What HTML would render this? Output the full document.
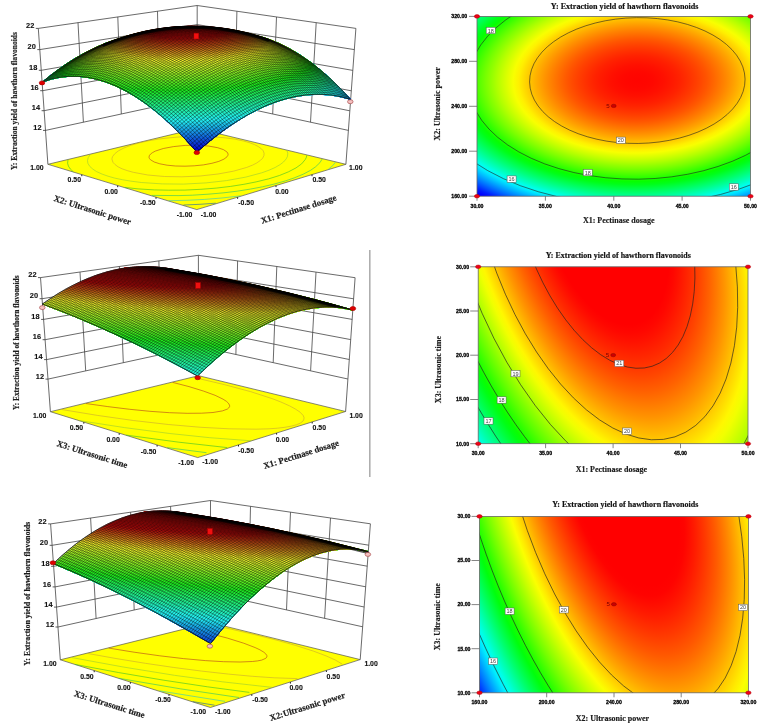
<!DOCTYPE html>
<html><head><meta charset="utf-8"><style>html,body{margin:0;padding:0;background:#fff;}svg{display:block;font-family:"Liberation Serif",serif;will-change:transform;}</style></head><body>
<svg width="761" height="726" viewBox="0 0 761 726">
<rect width="761" height="726" fill="#fff"/>
<path d="M45.5 130.4L197.1 97.6M197.1 97.6L348.4 130.4M44.1 110.7L197.1 79.8M197.1 79.8L349.8 110.8M42.7 90.7L197.1 61.7M197.1 61.7L351.3 90.8M41.3 70.3L197.2 43.3M197.2 43.3L352.8 70.4M39.8 49.6L197.2 24.6M197.2 24.6L354.3 49.6M38.3 28.4L197.2 5.5M197.2 5.5L355.9 28.4M78 22.6L83.4 122.2M236.9 11.2L234.9 105.8M117.8 16.9L121.3 114M276.5 17L272.7 114M157.5 11.2L159.2 105.8M316.2 22.7L310.5 122.2M197.1 97.6L197.2 5.5M47.9 164.3L38.3 28.4M345.9 164.3L355.9 28.4" stroke="#444" stroke-width="0.8" fill="none"/>
<path d="M47.9 164.3L196.8 209.6 345.9 164.3 197 128.5Z" fill="#ffff00" stroke="#555" stroke-width="0.7"/>
<path d="M183.5 205L199.9 204.3 215.8 203.2" stroke="#185cb0" stroke-width="0.6" fill="none"/>
<path d="M168.7 200.7L186.9 200.3 204.7 199.4 221.7 198 240.4 195.9M328.2 169.4L332.8 165.5 335.5 162.1" stroke="#2ec5c5" stroke-width="0.6" fill="none"/>
<path d="M50.4 164.3L50.5 165M151.8 195.4L179 195.6 192.4 195.2 208 194.2 223 192.9 237.1 191.2 250.3 189.1 262.5 186.8 273.7 184.2 285.4 180.9 294.2 177.9 303.2 174.2 310.6 170.3 315.6 166.8 319.9 162.7 322.2 159" stroke="#29c16d" stroke-width="0.6" fill="none"/>
<path d="M68 159.8L67.6 163.2 68.4 166.1 70.3 169 73.4 171.9M124.8 187.4L138.1 188.9 154.3 189.9 168.5 190.2 184.9 190.1 200.9 189.3 216.2 188.1 230.6 186.4 243.9 184.3 256.1 181.9 268.5 178.9 279.4 175.5 288.5 171.8 296 167.9 301.6 163.9 305.2 159.6 306.3 157.5 306.8 155.3" stroke="#39c028" stroke-width="0.6" fill="none"/>
<path d="M205.4 130.9L187.3 131M90.3 154.5L88.2 157.6 87.5 160.5 87.9 163.3 89.7 166.3 92.8 169.1 96.4 171.5 102.1 174.1 108 176.2 114.7 178.1 122.3 179.7 130.6 181.1 141.3 182.5 162.2 183.9 183.6 184.1 206 182.9 226.5 180.6 245.8 177.1 261.8 172.8 269 170.2 275.1 167.5 280.1 164.6 283.5 162 286.2 158.9 287.5 156.3 287.8 153.1 286.8 150.3" stroke="#98cb33" stroke-width="0.6" fill="none"/>
<path d="M243.5 141L235.1 139.2 225.7 137.9 215.7 137 204.1 136.4 192.6 136.4 181.3 136.8 169.5 137.8 158.4 139.1 148.3 140.8 139.1 142.9 131.1 145.2 124.1 147.9 118.5 150.8 114.8 153.7 112.5 156.7 112 158.5 112.1 159.9 113.1 162.5 115.1 164.6 118 166.8 122.1 168.8 127.2 170.6 133.3 172.3 147.8 175 164.5 176.5 181.9 176.8 200.1 176 218 174 233.4 171.2 246.8 167.4 252.6 165.1 256.7 163 260.4 160.4 262.7 158.1 263.9 155.7 264.1 153.3 263.2 150.8 261.4 148.8 258.2 146.5 254.5 144.6 249 142.5 243.5 141" stroke="#c9a731" stroke-width="0.6" fill="none"/>
<path d="M217.7 147.7L208.3 146 197.4 145.3 185.2 145.4 173.5 146.6 163.3 148.5 155.3 151.1 152.4 152.7 150.5 154.1 149.3 155.7 149 157.3 149.5 158.6 150.4 159.7 154.2 162 159.8 163.8 167.1 165.2 175.5 166 185 166.2 194.3 165.8 203.4 164.9 211.9 163.3 218.8 161.4 224 159.1 227 156.8 227.8 155.5 228.1 154.3 227.7 153 226.9 151.9 223.4 149.6 217.7 147.7" stroke="#b43e1c" stroke-width="0.6" fill="none"/>
<path d="M248.8 34.2L235.6 32.8 222.6 33.2 209.9 35.2 197.2 38.8 187.9 36.3 179.9 34.7 171.5 33.6 163 33 154.3 33 145.4 33.6 136.3 34.8 127.6 36.5 116.7 39.5 106.1 43.1 95.7 47.6 84.8 53 73.6 59.4 62.4 66.7 50.2 75.7 42.6 82 51.3 79.1 60.4 77.2 69 76.3 78.2 76.3 87.3 77.2 96.4 79.1 105.9 81.9 115.9 85.9 125.7 90.8 135.4 96.5 144.9 103 154.3 110.1 163.4 117.8 172 125.7 183.1 136.8 195.7 150.8 197.6 151.5 207.7 142.7 218.3 134.2 228 127.2 238 120.5 248.3 114.4 257.7 109.5 267.5 105.1 276.7 101.6 286.4 98.6 295.7 96.4 305 95 314.3 94.3 323.8 94.4 332.7 95.3 341.2 96.8 350.1 99.2 349.7 98.3 340.5 88.5 326.4 75.2 313.7 64.6 300.1 55.1 287.4 47.6 274.6 41.6 261.7 37.1 249.4 34.3Z" fill="#0606d2" stroke="#0606d2" stroke-width="0.6" stroke-linejoin="round"/>
<path d="M248.8 34.2L235.6 32.8 222.6 33.2 209.9 35.2 197.2 38.8 187.9 36.3 179.9 34.7 171.5 33.6 163 33 154.3 33 145.4 33.6 136.3 34.8 127.6 36.5 116.7 39.5 106.1 43.1 95.7 47.6 84.8 53 73.6 59.4 62.4 66.7 50.2 75.7 42.6 82 51.3 79.1 60.4 77.2 69 76.3 78.2 76.3 87.3 77.2 96.4 79.1 105.9 81.9 115.9 85.9 125.7 90.8 135.4 96.5 144.9 103 155.6 111.1 164.8 119 175 128.6 184.8 138.6 195.7 150.8 197.6 151 199.4 149.9 210.9 140.1 221.2 132.1 231.8 124.5 241.5 118.4 250.4 113.3 259.7 108.5 269.4 104.3 278.5 101 288.1 98.2 297.4 96.1 306.7 94.8 315.1 94.3 323.8 94.4 332.7 95.3 341.2 96.8 350.1 99.2 349.7 98.3 340.5 88.5 326.4 75.2 313.7 64.6 300.1 55.1 287.4 47.6 274.6 41.6 261.7 37.1 249.4 34.3Z" fill="#0606d2" stroke="#0606d2" stroke-width="0.6" stroke-linejoin="round"/>
<path d="M248.8 34.2L235.6 32.8 222.6 33.2 209.9 35.2 197.2 38.8 187.9 36.3 179.9 34.7 171.5 33.6 163 33 154.3 33 145.4 33.6 136.3 34.8 127.6 36.5 116.7 39.5 106.1 43.1 95.7 47.6 84.8 53 73.6 59.4 62.4 66.7 50.2 75.7 42.6 82 51.3 79.1 59.6 77.3 68.3 76.3 77.4 76.2 86.5 77.1 95.7 78.9 105.1 81.7 115 85.5 124.7 90.3 134.4 95.8 143.8 102.2 153.1 109.1 162.1 116.6 172 125.7 183.1 136.8 193.8 148.6 195.7 150 199.4 149.8 210.9 140.1 222.6 131 233.1 123.7 243.8 117 252.6 112.1 261.7 107.6 278.5 101 288.1 98.2 297.4 96.1 306.7 94.8 315.1 94.3 323.8 94.4 332.7 95.3 341.2 96.8 350.1 99.2 349.7 98.3 340.5 88.5 326.4 75.2 313.7 64.6 300.1 55.1 287.4 47.6 274.6 41.6 261.7 37.1 249.4 34.3Z" fill="#0606d2" stroke="#0606d2" stroke-width="0.6" stroke-linejoin="round"/>
<path d="M248.8 34.2L235.6 32.8 222.6 33.2 209.9 35.2 197.2 38.8 187.9 36.3 179.9 34.7 171.5 33.6 163 33 154.3 33 145.4 33.6 136.3 34.8 127.6 36.5 116.7 39.5 106.1 43.1 95.7 47.6 84.8 53 73.6 59.4 62.4 66.7 50.2 75.7 42.6 82 51.3 79.1 59.6 77.3 68.3 76.3 77.4 76.2 86.5 77.1 95.7 78.9 105.1 81.7 115 85.5 124.7 90.3 134.4 95.8 143.8 102.2 154.3 110.1 163.4 117.8 173.5 127.1 183.1 136.8 193.8 148.6 195.7 148.9 201.1 148.4 210.9 140.1 221.2 132.1 231.8 124.5 241.5 118.4 251.5 112.7 260.7 108.1 270.3 103.9 280.3 100.4 288.9 97.9 298.3 96 307.5 94.7 316 94.3 324.6 94.5 333.6 95.4 342.1 97 350.1 99.2 349.7 98.3 340.5 88.5 326.4 75.2 313.7 64.6 300.1 55.1 287.4 47.6 274.6 41.6 261.7 37.1 249.4 34.3Z" fill="#070fd3" stroke="#070fd3" stroke-width="0.6" stroke-linejoin="round"/>
<path d="M248.8 34.2L235.6 32.8 222.6 33.2 209.9 35.2 197.2 38.8 187.9 36.3 179.9 34.7 171.5 33.6 163 33 154.3 33 145.4 33.6 136.3 34.8 127.6 36.5 116.7 39.5 106.1 43.1 95.7 47.6 84.8 53 73.6 59.4 62.4 66.7 50.2 75.7 42.6 82 51.3 79.1 59.6 77.3 68.3 76.3 77.4 76.2 86.5 77.1 95.7 78.9 105.1 81.7 114.2 85.2 123.8 89.8 133.4 95.2 142.7 101.4 151.9 108.2 160.7 115.4 170.5 124.2 181.4 135.1 192 146.5 193.8 147.8 201 147.5 202.8 146.9 212.4 138.9 222.6 131 233.1 123.7 242.7 117.7 252.6 112.1 261.7 107.6 271.2 103.6 281.1 100.1 289.8 97.7 299.1 95.8 308.4 94.7 316.8 94.3 325.5 94.5 333.6 95.4 342.1 97 350.1 99.2 349.7 98.3 340.5 88.5 326.4 75.2 313.7 64.6 300.1 55.1 287.4 47.6 274.6 41.6 261.7 37.1 249.4 34.3Z" fill="#0818d4" stroke="#0818d4" stroke-width="0.6" stroke-linejoin="round"/>
<path d="M248.8 34.2L235.6 32.8 222.6 33.2 209.9 35.2 197.2 38.8 187.9 36.3 179.9 34.7 171.5 33.6 163 33 154.3 33 145.4 33.6 136.3 34.8 127.6 36.5 116.7 39.5 106.1 43.1 95.7 47.6 84.8 53 73.6 59.4 62.4 66.7 50.2 75.7 42.6 82 51.3 79.1 59.6 77.3 68.3 76.3 77.4 76.2 86.5 77.1 95.7 78.9 105.1 81.7 114.2 85.2 123.8 89.8 133.4 95.2 142.7 101.4 153.1 109.1 162.1 116.6 172 125.7 181.4 135.1 192 146.5 193.8 146.7 202.7 146.3 204.5 145.5 224 130 234.3 122.9 243.8 117 253.6 111.6 263.7 106.7 273.1 102.9 282.9 99.6 291.5 97.3 300.8 95.6 309.2 94.6 317.7 94.3 326.4 94.6 334.6 95.5 342.1 97 350.1 99.2 349.7 98.3 340.5 88.5 326.4 75.2 313.7 64.6 300.1 55.1 287.4 47.6 274.6 41.6 261.7 37.1 249.4 34.3Z" fill="#0921d5" stroke="#0921d5" stroke-width="0.6" stroke-linejoin="round"/>
<path d="M248.8 34.2L235.6 32.8 222.6 33.2 209.9 35.2 197.2 38.8 187.9 36.3 179.9 34.7 171.5 33.6 163 33 154.3 33 145.4 33.6 136.3 34.8 127.6 36.5 116.7 39.5 106.1 43.1 95.7 47.6 84.8 53 73.6 59.4 62.4 66.7 50.2 75.7 42.6 82 51.3 79.1 59.6 77.3 68.3 76.3 76.7 76.2 85.8 77 94.9 78.7 104.3 81.4 113.3 84.8 122 88.9 131.4 94 140.6 99.9 150.7 107.3 159.4 114.3 169 122.9 179.8 133.4 190.1 144.4 191.9 145.7 204.4 145.1 226.7 128.1 244.9 116.3 254.7 111 263.7 106.7 273.1 102.9 282.9 99.6 291.5 97.3 300.8 95.6 309.2 94.6 317.7 94.3 326.4 94.6 334.6 95.5 342.1 97 350.1 99.2 349.7 98.3 340.5 88.5 326.4 75.2 313.7 64.6 300.1 55.1 287.4 47.6 274.6 41.6 261.7 37.1 249.4 34.3Z" fill="#0a29d6" stroke="#0a29d6" stroke-width="0.6" stroke-linejoin="round"/>
<path d="M248.8 34.2L235.6 32.8 222.6 33.2 209.9 35.2 197.2 38.8 187.9 36.3 179.9 34.7 171.5 33.6 163 33 154.3 33 145.4 33.6 136.3 34.8 127.6 36.5 116.7 39.5 106.1 43.1 95.7 47.6 84.8 53 73.6 59.4 62.4 66.7 50.2 75.7 42.6 82 51.3 79.1 59.6 77.3 68.3 76.3 76.7 76.2 85.8 77 94.9 78.7 104.3 81.4 113.3 84.8 122 88.9 131.4 94 140.6 99.9 150.7 107.3 160.7 115.4 170.5 124.2 179.8 133.4 190.1 144.4 206.1 143.9 226.7 128.1 236.8 121.3 246.1 115.7 255.7 110.5 265.6 105.9 274.9 102.2 284.6 99.1 293.2 97 301.6 95.4 310 94.5 318.6 94.3 326.4 94.6 334.6 95.5 342.1 97 350.1 99.2 349.7 98.3 340.5 88.5 326.4 75.2 313.7 64.6 300.1 55.1 287.4 47.6 274.6 41.6 261.7 37.1 249.4 34.3Z" fill="#0b32d7" stroke="#0b32d7" stroke-width="0.6" stroke-linejoin="round"/>
<path d="M248.8 34.2L235.6 32.8 222.6 33.2 209.9 35.2 197.2 38.8 187.9 36.3 179.9 34.7 171.5 33.6 163 33 154.3 33 145.4 33.6 136.3 34.8 127.6 36.5 116.7 39.5 106.1 43.1 95.7 47.6 84.8 53 73.6 59.4 62.4 66.7 50.2 75.7 42.6 82 51.3 79.1 59.6 77.3 68.3 76.3 76.7 76.2 85 76.9 94.1 78.5 103.5 81.1 112.5 84.4 121.1 88.4 130.4 93.4 139.5 99.2 149.5 106.4 158.1 113.2 167.6 121.5 178.2 131.7 188.3 142.4 190.1 143.5 207.7 142.7 218.3 134.2 228 127.2 238 120.5 247.2 115.1 256.7 110 266.6 105.5 275.8 101.9 285.5 98.8 294 96.8 302.5 95.3 310.9 94.5 318.6 94.3 326.4 94.6 334.6 95.5 342.1 97 350.1 99.2 349.7 98.3 340.5 88.5 326.4 75.2 313.7 64.6 300.1 55.1 287.4 47.6 274.6 41.6 261.7 37.1 249.4 34.3Z" fill="#0d3bd9" stroke="#0d3bd9" stroke-width="0.6" stroke-linejoin="round"/>
<path d="M248.8 34.2L235.6 32.8 222.6 33.2 209.9 35.2 197.2 38.8 187.9 36.3 179.9 34.7 171.5 33.6 163 33 154.3 33 145.4 33.6 136.3 34.8 127.6 36.5 116.7 39.5 106.1 43.1 95.7 47.6 84.8 53 73.6 59.4 62.4 66.7 50.2 75.7 42.6 82 51.3 79.1 59.6 77.3 68.3 76.3 76.7 76.2 85 76.9 94.1 78.5 103.5 81.1 112.5 84.4 121.1 88.4 130.4 93.4 139.5 99.2 149.5 106.4 159.4 114.3 169 122.9 178.2 131.7 188.3 142.4 209.3 141.4 219.8 133.1 229.3 126.3 239.2 119.8 248.3 114.4 257.7 109.5 267.5 105.1 276.7 101.6 286.4 98.6 294.9 96.6 303.3 95.2 311.7 94.4 319.4 94.3 327.3 94.7 334.6 95.5 342.1 97 350.1 99.2 349.7 98.3 340.5 88.5 326.4 75.2 313.7 64.6 300.1 55.1 287.4 47.6 274.6 41.6 261.7 37.1 249.4 34.3Z" fill="#0e44da" stroke="#0e44da" stroke-width="0.6" stroke-linejoin="round"/>
<path d="M248.8 34.2L235.6 32.8 222.6 33.2 209.9 35.2 197.2 38.8 187.9 36.3 179.9 34.7 171.5 33.6 163 33 154.3 33 145.4 33.6 136.3 34.8 127.6 36.5 116.7 39.5 106.1 43.1 95.7 47.6 84.8 53 73.6 59.4 62.4 66.7 50.2 75.7 42.6 82 50.5 79.3 58.8 77.4 67.5 76.4 75.9 76.2 84.3 76.8 93.4 78.4 102.7 80.9 111.6 84.1 120.2 88 129.4 92.9 138.5 98.5 148.4 105.5 164.8 119 175 128.6 186.5 140.5 188.3 141.4 210.9 140.1 221.2 132.1 230.6 125.4 240.4 119.1 249.4 113.8 258.7 109 268.4 104.7 277.6 101.3 287.2 98.4 294.9 96.6 303.3 95.2 311.7 94.4 319.4 94.3 327.3 94.7 334.6 95.5 342.1 97 350.1 99.2 349.7 98.3 340.5 88.5 326.4 75.2 313.7 64.6 300.1 55.1 287.4 47.6 274.6 41.6 261.7 37.1 249.4 34.3Z" fill="#0f4cdb" stroke="#0f4cdb" stroke-width="0.6" stroke-linejoin="round"/>
<path d="M248.8 34.2L235.6 32.8 222.6 33.2 209.9 35.2 197.2 38.8 187.9 36.3 179.9 34.7 171.5 33.6 163 33 154.3 33 145.4 33.6 136.3 34.8 127.6 36.5 116.7 39.5 106.1 43.1 95.7 47.6 84.8 53 73.6 59.4 62.4 66.7 50.2 75.7 42.6 82 50.5 79.3 58.8 77.4 67.5 76.4 75.9 76.2 84.3 76.8 93.4 78.4 102.7 80.9 111.6 84.1 120.2 88 129.4 92.9 138.5 98.5 148.4 105.5 156.8 112.2 166.2 120.3 175 128.6 186.5 140.3 207.4 139.4 212.4 138.9 222.6 131 231.8 124.5 241.5 118.4 251.5 112.7 260.7 108.1 270.3 103.9 279.4 100.7 288.9 97.9 297.4 96.1 305 95 312.6 94.4 320.3 94.3 328.2 94.7 335.5 95.7 343.1 97.2 350.1 99.2 349.7 98.3 340.5 88.5 326.4 75.2 313.7 64.6 300.1 55.1 287.4 47.6 274.6 41.6 261.7 37.1 249.4 34.3Z" fill="#1055dc" stroke="#1055dc" stroke-width="0.6" stroke-linejoin="round"/>
<path d="M248.8 34.2L235.6 32.8 222.6 33.2 209.9 35.2 197.2 38.8 187.9 36.3 179.9 34.7 171.5 33.6 163 33 154.3 33 145.4 33.6 136.3 34.8 127.6 36.5 116.7 39.5 106.1 43.1 95.7 47.6 84.8 53 73.6 59.4 62.4 66.7 50.2 75.7 42.6 82 50.5 79.3 58.8 77.4 67.5 76.4 75.9 76.2 84.3 76.8 93.4 78.4 101.9 80.6 110.8 83.8 119.3 87.5 128.5 92.3 137.4 97.8 146.1 103.8 162.1 116.6 173.5 127.1 184.8 138.6 186.5 139.2 208.9 138.3 213.9 137.7 224 130 233.1 123.7 242.7 117.7 252.6 112.1 261.7 107.6 271.2 103.6 280.3 100.4 289.8 97.7 305 95 312.6 94.4 320.3 94.3 328.2 94.7 335.5 95.7 343.1 97.2 350.1 99.2 349.7 98.3 340.5 88.5 326.4 75.2 313.7 64.6 300.1 55.1 287.4 47.6 274.6 41.6 261.7 37.1 249.4 34.3Z" fill="#115edd" stroke="#115edd" stroke-width="0.6" stroke-linejoin="round"/>
<path d="M248.8 34.2L235.6 32.8 222.6 33.2 209.9 35.2 197.2 38.8 187.9 36.3 179.9 34.7 171.5 33.6 163 33 154.3 33 145.4 33.6 136.3 34.8 127.6 36.5 116.7 39.5 106.1 43.1 95.7 47.6 84.8 53 73.6 59.4 62.4 66.7 50.2 75.7 42.6 82 50.5 79.3 58.8 77.4 67.5 76.4 75.9 76.2 84.3 76.8 93.4 78.4 101.9 80.6 110.8 83.8 119.3 87.5 128.5 92.3 137.4 97.8 146.1 103.8 154.3 110.1 163.4 117.8 184.8 138.2 207.1 137.2 215.4 136.5 234.3 122.9 243.8 117 253.6 111.6 262.7 107.2 272.2 103.2 281.1 100.1 290.7 97.5 305.8 94.9 313.4 94.3 321.1 94.3 335.5 95.7 343.1 97.2 350.1 99.2 349.7 98.3 340.5 88.5 326.4 75.2 313.7 64.6 300.1 55.1 287.4 47.6 274.6 41.6 261.7 37.1 249.4 34.3Z" fill="#1267de" stroke="#1267de" stroke-width="0.6" stroke-linejoin="round"/>
<path d="M248.8 34.2L235.6 32.8 222.6 33.2 209.9 35.2 197.2 38.8 187.9 36.3 179.9 34.7 171.5 33.6 163 33 154.3 33 145.4 33.6 136.3 34.8 127.6 36.5 116.7 39.5 106.1 43.1 95.7 47.6 84.8 53 73.6 59.4 62.4 66.7 50.2 75.7 42.6 82 50.5 79.3 58.8 77.4 66.7 76.4 75.2 76.2 83.5 76.7 92.6 78.2 101.1 80.4 110 83.4 118.5 87.1 127.5 91.8 136.4 97.1 146.1 103.8 155.6 111.1 164.8 119 173.5 127.1 183.1 136.8 198.6 136.6 216.9 135.3 235.6 122.1 244.9 116.3 254.7 111 263.7 106.7 273.1 102.9 282 99.9 291.5 97.3 306.7 94.8 321.1 94.3 335.5 95.7 343.1 97.2 350.1 99.2 349.7 98.3 340.5 88.5 326.4 75.2 313.7 64.6 300.1 55.1 287.4 47.6 274.6 41.6 261.7 37.1 249.4 34.3Z" fill="#136fdf" stroke="#136fdf" stroke-width="0.6" stroke-linejoin="round"/>
<path d="M248.8 34.2L235.6 32.8 222.6 33.2 209.9 35.2 197.2 38.8 187.9 36.3 179.9 34.7 171.5 33.6 163 33 154.3 33 145.4 33.6 136.3 34.8 127.6 36.5 116.7 39.5 106.1 43.1 95.7 47.6 84.8 53 73.6 59.4 62.4 66.7 50.2 75.7 42.6 82 50.5 79.3 58.8 77.4 66.7 76.4 75.2 76.2 83.5 76.7 91.8 78 100.3 80.1 109.1 83.1 117.6 86.7 126.6 91.3 135.4 96.5 143.8 102.2 160.7 115.4 170.5 124.2 181.4 135.1 183.1 136 203.6 135.2 218.3 134.2 236.8 121.3 246.1 115.7 255.7 110.5 264.6 106.3 274 102.5 282.9 99.6 292.4 97.1 307.5 94.7 322 94.3 336.4 95.8 350.1 99.2 349.7 98.3 340.5 88.5 326.4 75.2 313.7 64.6 300.1 55.1 287.4 47.6 274.6 41.6 261.7 37.1 249.4 34.3Z" fill="#1478e0" stroke="#1478e0" stroke-width="0.6" stroke-linejoin="round"/>
<path d="M248.8 34.2L235.6 32.8 222.6 33.2 209.9 35.2 197.2 38.8 187.9 36.3 179.9 34.7 171.5 33.6 163 33 154.3 33 145.4 33.6 136.3 34.8 127.6 36.5 116.7 39.5 106.1 43.1 95.7 47.6 84.8 53 73.6 59.4 62.4 66.7 50.2 75.7 42.6 82 50.5 79.3 58.8 77.4 66.7 76.4 75.2 76.2 83.5 76.7 91.8 78 100.3 80.1 109.1 83.1 117.6 86.7 126.6 91.3 135.4 96.5 144.9 103 153.1 109.1 162.1 116.6 181.4 134.9 219.8 133.1 238 120.5 247.2 115.1 256.7 110 265.6 105.9 274.9 102.2 283.8 99.3 293.2 97 307.5 94.7 322 94.3 336.4 95.8 350.1 99.2 349.7 98.3 340.5 88.5 326.4 75.2 313.7 64.6 300.1 55.1 287.4 47.6 274.6 41.6 261.7 37.1 249.4 34.3Z" fill="#1681e2" stroke="#1681e2" stroke-width="0.6" stroke-linejoin="round"/>
<path d="M248.8 34.2L235.6 32.8 222.6 33.2 209.9 35.2 197.2 38.8 187.9 36.3 179.9 34.7 171.5 33.6 163 33 154.3 33 145.4 33.6 136.3 34.8 127.6 36.5 116.7 39.5 106.1 43.1 95.7 47.6 84.8 53 73.6 59.4 62.4 66.7 50.2 75.7 42.6 82 50.5 79.3 58 77.6 65.9 76.5 74.4 76.1 82.7 76.6 91.1 77.9 99.6 79.9 108.3 82.8 116.7 86.3 125.7 90.8 134.4 95.8 142.7 101.4 158.1 113.2 169 122.9 179.8 133.4 181.5 133.8 201.7 133.1 221.2 131.9 240.4 119.1 249.4 113.8 258.7 109 267.5 105.1 276.7 101.6 285.5 98.8 294 96.8 308.4 94.7 322.9 94.4 336.4 95.8 350.1 99.2 349.7 98.3 340.5 88.5 326.4 75.2 313.7 64.6 300.1 55.1 287.4 47.6 274.6 41.6 261.7 37.1 249.4 34.3Z" fill="#178ae3" stroke="#178ae3" stroke-width="0.6" stroke-linejoin="round"/>
<path d="M248.8 34.2L235.6 32.8 222.6 33.2 209.9 35.2 197.2 38.8 187.9 36.3 179.9 34.7 171.5 33.6 163 33 154.3 33 145.4 33.6 136.3 34.8 127.6 36.5 116.7 39.5 106.1 43.1 95.7 47.6 84.8 53 73.6 59.4 62.4 66.7 50.2 75.7 42.6 82 50.5 79.3 58 77.6 65.9 76.5 74.4 76.1 82.7 76.6 91.1 77.9 99.6 79.9 107.5 82.5 115.9 85.9 124.7 90.3 133.4 95.2 141.6 100.6 158.1 113.2 167.6 121.5 178.2 131.7 179.8 132.7 201.6 132 222.5 130.7 242.7 117.7 259.7 108.5 268.4 104.7 277.6 101.3 286.4 98.6 294.9 96.6 309.2 94.6 322.9 94.4 336.4 95.8 350.1 99.2 349.7 98.3 340.5 88.5 326.4 75.2 313.7 64.6 300.1 55.1 287.4 47.6 274.6 41.6 261.7 37.1 249.4 34.3Z" fill="#1893e4" stroke="#1893e4" stroke-width="0.6" stroke-linejoin="round"/>
<path d="M248.8 34.2L235.6 32.8 222.6 33.2 209.9 35.2 197.2 38.8 187.9 36.3 179.9 34.7 171.5 33.6 163 33 154.3 33 145.4 33.6 136.3 34.8 127.6 36.5 116.7 39.5 106.1 43.1 95.7 47.6 84.8 53 73.6 59.4 62.4 66.7 50.2 75.7 42.6 82 50.5 79.3 58 77.6 65.9 76.5 74.4 76.1 82.7 76.6 91.1 77.9 99.6 79.9 107.5 82.5 115.9 85.9 124.7 90.3 133.4 95.2 141.6 100.6 150.7 107.3 159.4 114.3 178.2 131.6 206.4 130.6 223.8 129.5 225.3 129.1 242.7 117.7 251.5 112.7 260.7 108.1 269.4 104.3 278.5 101 287.2 98.4 295.7 96.4 308.4 94.7 321.1 94.3 335.5 95.7 349 98.8 349.5 98.2 337.1 85.2 325 74 312.5 63.8 299.2 54.5 286.6 47.2 273.9 41.3 261.7 37.1 249.4 34.3Z" fill="#199be5" stroke="#199be5" stroke-width="0.6" stroke-linejoin="round"/>
<path d="M248.8 34.2L235.6 32.8 222.6 33.2 209.9 35.2 197.2 38.8 187.9 36.3 179.9 34.7 171.5 33.6 163 33 154.3 33 145.4 33.6 136.3 34.8 127.6 36.5 116.7 39.5 106.1 43.1 95.7 47.6 84.8 53 73.6 59.4 62.4 66.7 50.2 75.7 42.6 82 50.5 79.3 58 77.6 65.9 76.5 73.6 76.1 82 76.6 90.3 77.7 98.8 79.7 106.7 82.2 115 85.5 122.9 89.3 131.4 94 139.5 99.2 154.3 110.1 164.8 119 176.6 130.2 178.2 130.5 203 129.7 226.7 128.1 243.8 117 252.6 112.1 261.7 107.6 278.5 101 287.2 98.4 295.7 96.4 308.4 94.7 320.3 94.3 333.6 95.4 347.1 98.3 347.7 98.3 348.6 97.4 338.7 86.8 325 74 312.5 63.8 299.2 54.5 286.6 47.2 273.9 41.3 261.7 37.1 249.4 34.3Z" fill="#1aa4e6" stroke="#1aa4e6" stroke-width="0.6" stroke-linejoin="round"/>
<path d="M248.8 34.2L235.6 32.8 222.6 33.2 209.9 35.2 197.2 38.8 187.9 36.3 179.9 34.7 171.5 33.6 163 33 154.3 33 145.4 33.6 136.3 34.8 127.6 36.5 116.7 39.5 106.1 43.1 95.7 47.6 84.8 53 73.6 59.4 62.4 66.7 50.2 75.7 42.6 82 50.5 79.3 58 77.6 65.9 76.5 73.6 76.1 82 76.6 90.3 77.7 98.8 79.7 106.7 82.2 115 85.5 122.9 89.3 131.4 94 139.5 99.2 155.6 111.1 164.8 119 175 128.6 176.6 129.4 202.9 128.6 227.9 126.9 247.2 115.1 262.7 107.2 279.4 100.7 287.2 98.4 295.7 96.4 307.5 94.7 318.6 94.3 332.7 95.3 346.1 98 347.6 96.6 347.7 96.2 338.7 86.8 325 74 312.5 63.8 299.2 54.5 286.6 47.2 273.9 41.3 261.7 37.1 249.4 34.3Z" fill="#1bade7" stroke="#1bade7" stroke-width="0.6" stroke-linejoin="round"/>
<path d="M248.8 34.2L235.6 32.8 222.6 33.2 209.9 35.2 197.2 38.8 187.9 36.3 179.9 34.7 171.5 33.6 163 33 154.3 33 145.4 33.6 136.3 34.8 127.6 36.5 116.7 39.5 106.1 43.1 95.7 47.6 84.8 53 73.6 59.4 62.4 66.7 50.2 75.7 42.6 82 50.5 79.3 58 77.6 65.9 76.5 73.6 76.1 81.2 76.5 89.6 77.6 98 79.5 105.9 81.9 114.2 85.2 122.9 89.3 131.4 94 139.5 99.2 155.6 111.1 175 128.3 206 127.3 230.6 125.4 247.2 115.1 263.7 106.7 280.3 100.4 295.7 96.4 308.4 94.7 320.3 94.3 331.8 95.1 344.8 97.5 346.9 95.5 337.1 85.2 323.7 72.8 311.4 62.9 298.3 53.9 285.8 46.8 273.9 41.3 261.7 37.1 249.4 34.3Z" fill="#1cb6e8" stroke="#1cb6e8" stroke-width="0.6" stroke-linejoin="round"/>
<path d="M248.8 34.2L235.6 32.8 222.6 33.2 209.9 35.2 197.2 38.8 187.9 36.3 179.9 34.7 171.5 33.6 163 33 154.3 33 145.4 33.6 136.3 34.8 127.6 36.5 116.7 39.5 106.1 43.1 95.7 47.6 84.8 53 73.6 59.4 62.4 66.7 50.2 75.7 42.6 82 49.6 79.6 57.1 77.7 65.1 76.6 72.9 76.1 80.5 76.4 88.8 77.5 97.2 79.3 105.1 81.7 113.3 84.8 122 88.9 130.4 93.4 138.5 98.5 147.2 104.6 155.6 111.1 164.8 119 173.5 127.1 201.1 126.4 231.8 124.4 247.2 115.1 260.7 108.1 274 102.5 287.2 98.4 299.1 95.8 310.9 94.5 319.4 94.3 327.3 94.7 335.5 95.7 343.1 97.2 345.9 94.7 345.8 94.1 337.1 85.2 323.7 72.8 311.4 62.9 298.3 53.9 285.8 46.8 273.9 41.3 261.7 37.1 249.4 34.3Z" fill="#1dbee9" stroke="#1dbee9" stroke-width="0.6" stroke-linejoin="round"/>
<path d="M248.8 34.2L235.6 32.8 222.6 33.2 209.9 35.2 197.2 38.8 187.9 36.3 179.9 34.7 171.5 33.6 163 33 154.3 33 145.8 33.5 136.8 34.7 128.1 36.4 117.3 39.3 106.8 42.9 96.5 47.2 85.7 52.5 75.8 58.1 65.1 64.9 53.5 73.2 43.1 81.4 42.6 82 51.3 79.1 59.6 77.3 66.7 76.4 73.6 76.1 81.2 76.5 89.6 77.6 97.2 79.3 105.1 81.7 113.3 84.8 121.1 88.4 129.4 92.9 137.4 97.8 151.9 108.2 162.1 116.6 172 125.7 173.6 126.1 204.2 125.2 232.9 123.1 234.3 122.9 248.3 114.4 261.7 107.6 274.9 102.2 287.2 98.4 301.6 95.4 315.1 94.3 328.2 94.7 341.8 96.8 345.2 93.6 333.9 82 322.3 71.6 310.3 62.1 297.4 53.3 285.1 46.4 273.3 41.1 261.1 37 249.4 34.3Z" fill="#1fc7eb" stroke="#1fc7eb" stroke-width="0.6" stroke-linejoin="round"/>
<path d="M248.8 34.2L235.6 32.8 222.6 33.2 209.9 35.2 197.2 38.8 187.9 36.3 179.9 34.7 171.5 33.6 163 33 154.3 33 145.8 33.5 136.8 34.7 128.1 36.4 117.3 39.3 106.8 42.9 96.5 47.2 85.7 52.5 75.8 58.1 65.1 64.9 53.5 73.2 43.1 81.4 42.6 82 51.3 79.1 59.6 77.3 66.7 76.4 73.6 76.1 81.2 76.5 89.6 77.6 97.2 79.3 105.1 81.7 113.3 84.8 121.1 88.4 129.4 92.9 137.4 97.8 151.9 108.2 160.7 115.4 170.5 124.2 172 125 204.1 124.1 235.5 121.8 250.4 113.3 261.7 107.6 274 102.5 286.4 98.6 299.9 95.7 313.4 94.3 326.4 94.6 340.1 96.5 344.2 92.8 344 92.2 335.4 83.6 322.3 71.6 310.3 62.1 297.4 53.3 285.1 46.4 273.3 41.1 261.1 37 249.4 34.3Z" fill="#20d0ec" stroke="#20d0ec" stroke-width="0.6" stroke-linejoin="round"/>
<path d="M248.8 34.2L235.6 32.8 222.6 33.2 209.9 35.2 197.2 38.8 187.9 36.3 179.9 34.7 171.5 33.6 163 33 154.3 33 145.8 33.5 136.8 34.7 128.1 36.4 117.3 39.3 106.8 42.9 96.5 47.2 85.7 52.5 75.8 58.1 65.1 64.9 53.5 73.2 43.1 81.4 42.6 82 51.3 79.1 59.6 77.3 66.7 76.4 73.6 76.1 81.2 76.5 88.8 77.5 96.4 79.1 104.3 81.4 112.5 84.4 120.2 88 128.5 92.3 136.4 97.1 151.9 108.2 170.5 123.9 204 123 238 120.4 251.5 112.7 262.7 107.2 274.9 102.2 286.4 98.6 299.9 95.7 312.6 94.4 325.5 94.5 338.3 96.2 343.2 92 343.4 91.8 342.2 90.3 337.1 85.2 322.3 71.6 310.3 62.1 297.4 53.3 285.1 46.4 273.3 41.1 261.1 37 249.4 34.3Z" fill="#21d9ed" stroke="#21d9ed" stroke-width="0.6" stroke-linejoin="round"/>
<path d="M248.8 34.2L235.6 32.8 222.6 33.2 209.9 35.2 197.2 38.8 187.9 36.3 179.9 34.7 171.5 33.6 163 33 154.3 33 145.8 33.5 136.8 34.7 128.1 36.4 117.3 39.3 106.8 42.9 96.5 47.2 85.7 52.5 75.8 58.1 65.1 64.9 53.5 73.2 43.1 81.4 42.6 82 50.5 79.3 58.8 77.4 65.9 76.5 72.9 76.1 80.5 76.4 88 77.3 95.7 78.9 103.5 81.1 111.6 84.1 119.3 87.5 127.5 91.8 135.4 96.5 143.8 102.2 151.9 108.2 169 122.8 205.4 121.8 240.4 119.1 252.6 112.1 263.7 106.7 274.9 102.2 286.4 98.6 299.1 95.8 311.7 94.4 323.8 94.4 336.4 95.8 339.2 94 341.9 91.5 342.4 91 342.2 90.3 332.3 80.6 323.7 72.8 310.3 62.1 297.4 53.3 285.1 46.4 273.3 41.1 261.1 37 249.4 34.3Z" fill="#22e2ee" stroke="#22e2ee" stroke-width="0.6" stroke-linejoin="round"/>
<path d="M248.8 34.2L235.6 32.8 222.6 33.2 209.9 35.2 197.2 38.8 187.9 36.3 179.9 34.7 171.5 33.6 163 33 154.3 33 145.8 33.5 136.8 34.7 128.1 36.4 117.3 39.3 106.8 42.9 96.5 47.2 85.7 52.5 75.8 58.1 65.1 64.9 53.5 73.2 43.1 81.4 42.6 82 50.5 79.3 58.8 77.4 65.9 76.5 72.9 76.1 80.5 76.4 88 77.3 95.7 78.9 103.5 81.1 111.6 84.1 119.3 87.5 127.5 91.8 135.4 96.5 143.8 102.2 151.9 108.2 167.6 121.5 183.5 121.5 205.3 120.7 224.5 119.4 242.7 117.7 253.6 111.6 264.6 106.3 274.9 102.2 285.5 98.8 298.3 96 310 94.5 322 94.3 334.6 95.5 337.8 93.5 340.9 90.7 341.6 89.9 340.5 88.5 323.7 72.8 310.3 62.1 297.4 53.3 285.1 46.4 273.3 41.1 261.1 37 249.4 34.3Z" fill="#23eaef" stroke="#23eaef" stroke-width="0.6" stroke-linejoin="round"/>
<path d="M248.8 34.2L235.6 32.8 222.6 33.2 209.9 35.2 197.2 38.8 187.9 36.3 179.9 34.7 171.5 33.6 163 33 154.3 33 145.8 33.5 136.8 34.7 128.1 36.4 117.3 39.3 106.8 42.9 96.5 47.2 85.7 52.5 75.8 58.1 65.1 64.9 53.5 73.2 43.1 81.4 42.6 82 50.5 79.3 58.8 77.4 65.9 76.5 72.9 76.1 79.7 76.4 87.3 77.2 94.9 78.7 102.7 80.9 110 83.4 117.6 86.7 125.7 90.8 133.4 95.2 149.5 106.4 166.2 120.3 167.7 120.6 186.7 120.3 206.6 119.5 225.7 118.2 244.9 116.3 255.7 110.5 265.6 105.9 275.8 101.9 285.5 98.8 297.4 96.1 309.2 94.6 321.1 94.3 332.7 95.3 336.5 92.9 339.6 90.2 340.6 89.1 340.5 88.5 325 74 311.4 62.9 297.4 53.3 285.1 46.4 273.3 41.1 261.1 37 249.4 34.3Z" fill="#24f0ed" stroke="#24f0ed" stroke-width="0.6" stroke-linejoin="round"/>
<path d="M248.8 34.2L235.6 32.8 222.6 33.2 209.9 35.2 197.2 38.8 187.9 36.3 179.9 34.7 171.5 33.6 163 33 154.3 33 145.8 33.5 136.8 34.7 128.1 36.4 117.3 39.3 106.8 42.9 96.5 47.2 85.7 52.5 75.8 58.1 65.1 64.9 53.5 73.2 43.1 81.4 42.6 82 50.5 79.3 58.8 77.4 65.1 76.6 72.1 76.2 79 76.3 86.5 77.1 94.1 78.5 101.9 80.6 109.1 83.1 116.7 86.3 124.7 90.3 132.4 94.6 146.1 103.8 155.6 111.1 164.8 119 166.3 119.4 186.7 119.2 208 118.3 228.2 116.9 247.1 115 257.7 109.5 266.6 105.5 275.8 101.9 284.6 99.1 296.6 96.3 308.4 94.7 319.4 94.3 330.8 95 335.5 92.1 338.6 89.4 339.8 88 338.7 86.8 325 74 311.4 62.9 297.4 53.3 285.1 46.4 273.3 41.1 261.1 37 249.4 34.3Z" fill="#23efe5" stroke="#23efe5" stroke-width="0.6" stroke-linejoin="round"/>
<path d="M248.8 34.2L235.6 32.8 222.6 33.2 209.9 35.2 197.2 38.8 187.9 36.3 179.9 34.7 171.5 33.6 163 33 154.3 33 145.8 33.5 136.8 34.7 128.1 36.4 117.3 39.3 106.8 42.9 96.5 47.2 85.7 52.5 75.8 58.1 65.1 64.9 53.5 73.2 43.1 81.4 42.6 82 50.5 79.3 58.8 77.4 65.1 76.6 72.1 76.2 79 76.3 86.5 77.1 94.1 78.5 101.1 80.4 108.3 82.8 115.9 85.9 123.8 89.8 131.4 94 144.9 103 154.3 110.1 163.4 117.8 164.9 118.3 186.7 118 207.8 117.2 229.3 115.6 249.3 113.6 268.4 104.7 284.6 99.1 295.7 96.4 306.7 94.8 316.8 94.3 328.9 94.6 333.7 91.8 337.3 88.9 338.7 86.8 326.4 75.2 311.4 62.9 297.4 53.3 285.1 46.4 273.3 41.1 261.1 37 249.4 34.3Z" fill="#23efdd" stroke="#23efdd" stroke-width="0.6" stroke-linejoin="round"/>
<path d="M248.8 34.2L235.6 32.8 222.6 33.2 209.9 35.2 197.2 38.8 187.9 36.3 179.9 34.7 171.5 33.6 163 33 154.3 33 145.8 33.5 136.8 34.7 128.1 36.4 117.3 39.3 106.8 42.9 96.5 47.2 85.7 52.5 75.8 58.1 65.1 64.9 53.5 73.2 43.1 81.4 42.6 82 50.5 79.3 58.8 77.4 65.1 76.6 72.1 76.2 79 76.3 86.5 77.1 94.1 78.5 101.1 80.4 108.3 82.8 115.9 85.9 130.4 93.4 144.9 103 153.1 109.1 162.1 116.6 163.5 117.2 186.7 116.9 209.1 116 231.7 114.3 252.5 112.1 268.4 104.7 283.8 99.3 294 96.8 305 95 315.1 94.3 326.3 94.5 332.3 91.2 336.2 88 337.9 86.2 327.8 76.5 312.5 63.8 297.4 53.3 285.1 46.4 273.3 41.1 261.1 37 249.4 34.3Z" fill="#23efd5" stroke="#23efd5" stroke-width="0.6" stroke-linejoin="round"/>
<path d="M248.8 34.2L235.6 32.8 222.6 33.2 209.9 35.2 197.2 38.8 187.9 36.3 179.9 34.7 171.5 33.6 163 33 154.3 33 145.8 33.5 136.8 34.7 128.1 36.4 117.3 39.3 106.8 42.9 96.5 47.2 85.7 52.5 75.8 58.1 65.1 64.9 53.5 73.2 43.1 81.4 42.6 82 50.5 79.3 58 77.6 64.4 76.6 71.3 76.2 78.2 76.3 85.8 77 93.4 78.4 100.3 80.1 107.5 82.5 115 85.5 129.4 92.9 143.8 102.2 160.7 115.4 162.2 116 186.7 115.8 210.4 114.8 234.1 113 255.7 110.5 264.6 106.3 273.1 102.9 282 99.9 290.7 97.5 299.1 95.8 307.5 94.7 316 94.3 323.7 94.4 330.4 90.9 334.9 87.5 337 85.1 329.3 77.8 313.7 64.6 297.4 53.3 285.1 46.4 273.3 41.1 261.1 37 249.4 34.3Z" fill="#23efcd" stroke="#23efcd" stroke-width="0.6" stroke-linejoin="round"/>
<path d="M248.8 34.2L235.6 32.8 222.6 33.2 209.9 35.2 197.2 38.8 187.9 36.3 179.9 34.7 171.5 33.6 163 33 154.3 33 145.8 33.5 136.8 34.7 128.1 36.4 117.3 39.3 106.8 42.9 96.5 47.2 85.7 52.5 75.8 58.1 65.1 64.9 53.5 73.2 43.1 81.4 42.6 82 50.5 79.3 58 77.6 64.4 76.6 71.3 76.2 78.2 76.3 85 76.9 92.6 78.2 99.6 79.9 106.7 82.2 114.2 85.2 128.5 92.3 142.7 101.4 159.4 114.3 160.8 114.9 186.7 114.7 211.7 113.6 236.3 111.6 258.7 109 274.9 102.2 290.7 97.5 305.8 94.9 321.1 94.2 328.5 90.5 333.8 86.7 336 84.3 329.3 77.8 313.7 64.6 297.4 53.3 285.1 46.4 273.3 41.1 261.1 37 249.4 34.3Z" fill="#23efc5" stroke="#23efc5" stroke-width="0.6" stroke-linejoin="round"/>
<path d="M248.8 34.2L235.6 32.8 222.6 33.2 209.9 35.2 197.2 38.8 187.9 36.3 179.9 34.7 171.5 33.6 163 33 154.3 33 145.8 33.5 136.8 34.7 128.1 36.4 117.3 39.3 106.8 42.9 96.5 47.2 85.7 52.5 75.8 58.1 65.1 64.9 53.5 73.2 43.1 81.4 42.6 82 50.5 79.3 58 77.6 70.6 76.2 77.4 76.2 84.3 76.8 91.8 78 98.8 79.7 105.9 81.9 113.3 84.8 127.5 91.8 141.6 100.6 158.1 113.2 159.5 113.8 185.2 113.6 211.5 112.5 237.2 110.4 261.6 107.5 276.7 101.6 290.7 97.5 304.1 95.1 318.3 94.1 326.6 90.2 332.5 86.1 335.1 83.3 332.3 80.6 323.7 72.8 314.8 65.5 307.1 59.8 298.3 53.9 285.8 46.8 273.9 41.3 261.7 37.1 249.4 34.3Z" fill="#22eebe" stroke="#22eebe" stroke-width="0.6" stroke-linejoin="round"/>
<path d="M248.8 34.2L235.6 32.8 222.6 33.2 209.9 35.2 197.2 38.8 187.9 36.3 179.9 34.7 171.5 33.6 163 33 154.3 33 145.8 33.5 136.8 34.7 128.1 36.4 117.3 39.3 106.8 42.9 96.5 47.2 85.7 52.5 75.8 58.1 65.1 64.9 53.5 73.2 43.1 81.4 42.6 82 50.5 79.3 58 77.6 70.6 76.2 77.4 76.2 84.3 76.8 98 79.5 105.1 81.7 112.5 84.4 126.6 91.3 139.5 99.2 148.4 105.5 156.8 112.2 158.2 112.6 186.7 112.4 214.1 111.2 240.6 108.9 265.5 105.7 279.4 100.7 290.7 97.5 302.5 95.3 314.3 94.3 324.2 90 331.1 85.6 333.6 83 333.9 82 325 74 316 66.5 307.1 59.8 298.3 53.9 285.8 46.8 273.9 41.3 261.7 37.1 249.4 34.3Z" fill="#22eeb6" stroke="#22eeb6" stroke-width="0.6" stroke-linejoin="round"/>
<path d="M248.8 34.2L235.6 32.8 222.6 33.2 209.9 35.2 197.2 38.8 187.9 36.3 179.9 34.7 171.5 33.6 163 33 154.3 33 145.8 33.5 136.8 34.7 128.1 36.4 117.3 39.3 106.8 42.9 96.5 47.2 85.7 52.5 75.8 58.1 65.1 64.9 53.5 73.2 43.1 81.4 42.6 82 49.6 79.6 57.1 77.7 69.8 76.2 76.7 76.2 83.5 76.7 97.2 79.3 110.8 83.8 124.7 90.3 137.4 97.8 146.1 103.8 155.6 111.1 157 111.5 185.3 111.3 213.8 110.1 241.5 107.7 266 104.5 271.2 103.6 281.1 100.1 291.5 97.3 300.8 95.6 310 94.5 321.7 89.9 326.6 87.2 330 84.8 333.1 81.5 332.3 80.6 323.7 72.8 314.8 65.5 307.1 59.8 298.3 53.9 285.8 46.8 273.9 41.3 261.7 37.1 249.4 34.3Z" fill="#22eeae" stroke="#22eeae" stroke-width="0.6" stroke-linejoin="round"/>
<path d="M248.8 34.2L235.6 32.8 222.6 33.2 209.9 35.2 197.2 38.8 188.7 36.5 180.6 34.8 172.2 33.6 163.6 33 155.4 32.9 146.8 33.4 138.2 34.5 129.6 36.1 119.4 38.6 109.2 42 98.7 46.2 88.4 51.1 77.9 56.8 67.6 63.2 56.6 70.9 46.7 78.4 42.6 82 49.6 79.6 56.3 77.9 63.6 76.7 70.6 76.2 77.4 76.2 85 76.9 92.6 78.2 100.3 80.1 113.3 84.8 126.6 91.3 140.6 99.9 154.3 110.1 179.4 110.3 209.5 109.2 237.3 107 263.1 103.8 276.7 101.6 290.7 97.5 304.9 94.9 319.1 89.7 324.7 86.9 328.6 84.2 332.1 80.4 323.7 72.8 314.8 65.5 307.1 59.8 298.3 53.9 285.8 46.8 273.9 41.3 261.7 37.1 249.4 34.3Z" fill="#22eea6" stroke="#22eea6" stroke-width="0.6" stroke-linejoin="round"/>
<path d="M248.8 34.2L235.6 32.8 222.6 33.2 209.9 35.2 197.2 38.8 188.7 36.5 180.6 34.8 172.2 33.6 164.1 33 155.9 32.9 147.3 33.4 138.7 34.4 130 36 120 38.5 109.8 41.8 99.4 45.9 89.3 50.7 79 56.2 68.9 62.4 58.1 69.8 48.5 77 42.6 82 49.6 79.6 57.1 77.7 64.4 76.6 71.3 76.2 79 76.3 86.5 77.1 94.1 78.5 101.9 80.6 115 85.5 127.5 91.8 140.6 99.9 153.1 109.1 181 109.2 209.3 108.1 236.9 105.9 261.4 102.9 283.5 99.1 302.5 94.4 310.7 91.8 317.6 89.1 323.2 86.3 327.2 83.6 330.3 80.6 331 79.7 330.8 79.2 314.8 65.5 299.2 54.5 286.6 47.2 273.9 41.3 261.7 37.1 249.4 34.3Z" fill="#21ed9e" stroke="#21ed9e" stroke-width="0.6" stroke-linejoin="round"/>
<path d="M248.8 34.2L235.6 32.8 222.6 33.2 209.9 35.2 197.2 38.8 188.7 36.5 180.6 34.8 164.7 33.1 156.4 32.9 148.3 33.3 140.1 34.2 131.5 35.7 121.5 38 111.6 41.1 101.5 45 91.8 49.4 82 54.5 71.3 60.9 61 67.7 51.8 74.4 42.6 82 48.8 79.8 55.5 78.1 68.3 76.3 81.2 76.5 94.9 78.7 109.1 83.1 122.9 89.3 136.4 97.1 152 108 179.6 108.1 207.8 107.1 235.2 105 259.7 102 281.8 98.2 300.8 93.7 309 91.1 316 88.4 321.7 85.6 325.8 83 329.7 79.1 330 78.6 329.3 77.8 314.8 65.5 299.2 54.5 286.6 47.2 273.9 41.3 261.7 37.1 249.4 34.3Z" fill="#21ed96" stroke="#21ed96" stroke-width="0.6" stroke-linejoin="round"/>
<path d="M248.8 34.2L235.6 32.8 222.6 33.2 209.9 35.2 197.2 38.8 181.4 35 173.5 33.8 165.3 33.1 156.9 32.9 148.8 33.3 132.5 35.5 123.1 37.6 113.4 40.5 103.5 44.2 94.2 48.3 84.8 53 74.7 58.7 65.1 64.9 55 72 42.9 81.8 55.5 78.1 68.3 76.3 81.2 76.5 94.1 78.5 107.5 82.5 121.1 88.4 133.4 95.2 149.5 106.4 150.8 106.8 178.2 106.9 206.2 106 233.5 104 258 101.1 281 97.2 299.9 92.7 308 90.2 314.9 87.5 320.6 84.8 324.7 82.2 327.4 79.8 329 77.6 314.8 65.5 299.2 54.5 286.6 47.2 273.9 41.3 261.7 37.1 249.4 34.3Z" fill="#21ed8e" stroke="#21ed8e" stroke-width="0.6" stroke-linejoin="round"/>
<path d="M248.8 34.2L235.6 32.8 222.6 33.2 209.9 35.2 197.2 38.8 181.4 35 165.9 33.1 150.3 33.2 134.4 35.1 125.1 37.1 115.6 39.8 106.1 43.1 97.2 46.9 87.5 51.5 77.9 56.8 59.5 68.7 44.9 79.9 44.1 80.7 44.1 81.2 57.1 77.7 69 76.3 82 76.6 94.9 78.7 107.5 82.5 121.1 88.4 134.4 95.8 148.4 105.5 174.1 105.9 202 105.1 229.4 103.2 255.2 100.4 278.4 96.6 297.5 92.2 312.3 87.3 318.2 84.6 322.9 81.8 326.2 79 327.8 76.5 313.7 64.6 300.1 55.1 287.4 47.6 274.6 41.6 261.7 37.1 249.4 34.3Z" fill="#21ed86" stroke="#21ed86" stroke-width="0.6" stroke-linejoin="round"/>
<path d="M248.8 34.2L235.6 32.8 222.6 33.2 209.9 35.2 197.2 38.8 182.1 35.1 166.5 33.2 150.8 33.1 135.3 34.9 126.1 36.9 117.3 39.3 108.6 42.2 99.4 45.9 90.1 50.2 81 55.1 71.3 60.9 62.4 66.7 46.7 78.4 45.3 79.6 45.4 80.9 57.1 77.7 69 76.3 81.2 76.5 94.1 78.5 106.7 82.2 120.2 88 132.4 94.6 147.3 104.4 174.2 104.7 201.9 104 229 102.1 254.6 99.3 277.6 95.6 296.5 91.2 311.2 86.4 317.1 83.7 321.7 81 325.7 77.5 326.8 75.8 326.4 75.2 313.7 64.6 300.1 55.1 287.4 47.6 274.6 41.6 261.7 37.1 249.4 34.3Z" fill="#21ed7f" stroke="#21ed7f" stroke-width="0.6" stroke-linejoin="round"/>
<path d="M248.8 34.2L235.6 32.8 222.6 33.2 209.9 35.2 197.2 38.8 182.1 35.1 167.1 33.2 151.8 33.1 136.3 34.8 127.1 36.6 118.4 39 109.8 41.8 100.8 45.3 91.8 49.4 82.9 54 65.1 64.9 46.7 78.4 46.7 80.3 58.8 77.4 70.6 76.2 82 76.6 94.1 78.5 105.9 81.9 118.5 87.1 129.4 92.9 144.9 103 146.3 103.2 172.9 103.6 200.4 102.9 227.4 101.1 252.9 98.4 275.8 94.7 294.8 90.5 309.6 85.7 315.5 83.1 320.3 80.4 323.7 77.6 325.8 74.8 313.7 64.6 301.1 55.7 288.2 48 275.2 41.9 262.3 37.3 249.4 34.3Z" fill="#20ec77" stroke="#20ec77" stroke-width="0.6" stroke-linejoin="round"/>
<path d="M248.8 34.2L235.6 32.8 222.6 33.2 209.9 35.2 197.2 38.8 182.1 35.1 167.7 33.2 152.8 33 137.7 34.5 129.1 36.2 120.5 38.3 103.5 44.2 86.6 52 68.9 62.4 58.1 69.8 48.5 77 47.8 77.7 48 80 59.6 77.3 70.6 76.2 82 76.6 94.1 78.5 105.9 81.9 118.5 87.1 130.4 93.4 143.9 102 170.3 102.5 197.6 101.9 224.6 100.2 250.1 97.6 273.2 94.1 292.3 89.9 307.9 85 313.9 82.4 318.8 79.8 322.5 76.8 324.7 73.8 313.7 64.6 301.1 55.7 288.2 48 275.2 41.9 262.3 37.3 249.4 34.3Z" fill="#20ec6f" stroke="#20ec6f" stroke-width="0.6" stroke-linejoin="round"/>
<path d="M248.8 34.2L235.6 32.8 222.6 33.2 209.9 35.2 197.2 38.8 182.9 35.3 168.3 33.3 153.8 33 139.1 34.3 122.6 37.8 106.1 43.1 89.3 50.7 72.4 60.1 61 67.7 49 76.7 49.1 78.4 49.6 79.6 60.4 77.2 71.3 76.2 82.7 76.6 94.1 78.5 105.9 81.9 117.6 86.7 129.4 92.9 141.6 100.6 166.3 101.3 193.5 100.9 220.6 99.4 246.3 96.9 269.6 93.5 289.9 89.3 305.7 84.5 311.9 82 316.9 79.4 321.3 76 323.6 72.8 313.7 64.6 303 57 289.7 48.9 275.9 42.2 262.9 37.5 249.4 34.3Z" fill="#20ec67" stroke="#20ec67" stroke-width="0.6" stroke-linejoin="round"/>
<path d="M248.8 34.2L235.6 32.8 222.6 33.2 209.9 35.2 197.2 38.8 182.9 35.3 169 33.3 154.8 33 140.1 34.2 123.6 37.5 107.4 42.7 90.9 49.8 74.7 58.7 62.4 66.7 50.3 75.6 50.3 77.3 50.9 79.1 62 76.9 72.1 76.2 82.7 76.6 94.1 78.5 105.1 81.7 115.9 85.9 126.6 91.3 139.5 99.2 140.7 99.6 166.5 100.2 193.5 99.8 220.3 98.3 245.7 95.9 268.9 92.5 288.9 88.3 304.6 83.6 310.8 81.1 315.7 78.5 320.4 75 322 72.9 322.3 71.6 312.5 63.8 303 57 289.7 48.9 275.9 42.2 262.9 37.5 249.4 34.3Z" fill="#20ec5f" stroke="#20ec5f" stroke-width="0.6" stroke-linejoin="round"/>
<path d="M248.8 34.2L235.6 32.8 222.6 33.2 209.9 35.2 197.2 38.8 182.9 35.3 169.6 33.4 155.4 32.9 141 34.1 125.6 37 109.8 41.8 94.2 48.3 77.9 56.8 65.1 64.9 51.8 74.4 51.6 76.2 52.4 78.7 62.8 76.8 72.9 76.1 83.5 76.7 94.1 78.5 105.1 81.7 115.9 85.9 125.7 90.8 138.5 98.3 164 99 190.8 98.7 217.5 97.4 243 95 266.2 91.8 286.5 87.7 302.4 83.1 308.7 80.6 313.8 78.1 318.7 74.6 321.3 71 313.7 64.6 304 57.6 290.5 49.3 276.6 42.4 262.9 37.5 249.4 34.3Z" fill="#20ec57" stroke="#20ec57" stroke-width="0.6" stroke-linejoin="round"/>
<path d="M248.8 34.2L235.6 32.8 222.6 33.2 209.9 35.2 197.2 38.8 182.9 35.3 169.6 33.4 155.9 32.9 142 33.9 127.1 36.6 111.6 41.1 96.5 47.2 81 55.1 67.6 63.2 53.5 73.2 52.9 73.7 52.8 75.4 54.1 78.3 64.4 76.6 73.6 76.1 83.5 76.7 94.1 78.5 104.3 81.4 115 85.5 124.7 90.3 136.4 97 161.6 97.9 188.2 97.7 214.8 96.4 240.2 94.2 263.6 91 284 87.1 300.1 82.6 307 80 312.2 77.5 317.5 73.8 319.2 71.8 320.2 70 313.7 64.6 305 58.3 291.4 49.8 277.2 42.7 263.5 37.6 249.4 34.3Z" fill="#1feb4f" stroke="#1feb4f" stroke-width="0.6" stroke-linejoin="round"/>
<path d="M248.8 34.2L235.6 32.8 222.6 33.2 209.9 35.2 197.2 38.8 183.7 35.4 170.2 33.4 156.9 32.9 143.4 33.8 129.1 36.2 114.5 40.2 99.4 45.9 84.8 53 70.1 61.6 55 72 54.3 72.7 54.2 74.6 54.6 76.2 55.7 77.9 65.9 76.5 75.2 76.2 84.3 76.8 94.1 78.5 104.3 81.4 114.2 85.2 123.8 89.8 134.4 95.8 160.6 96.7 186.9 96.6 213.3 95.4 238.6 93.2 261.9 90.1 282.3 86.3 298.4 81.8 305.4 79.3 310.6 76.8 316.2 73 318 71 319 69 305 58.3 291.4 49.8 277.2 42.7 263.5 37.6 249.4 34.3Z" fill="#1feb48" stroke="#1feb48" stroke-width="0.6" stroke-linejoin="round"/>
<path d="M248.8 34.2L235.6 32.8 222.6 33.2 209.9 35.2 197.2 38.8 183.7 35.4 170.9 33.5 157.5 32.9 144.4 33.7 130.5 35.9 116.2 39.6 102.2 44.7 87.5 51.5 71.3 60.9 55.6 71.6 55.7 74.7 57.5 77.5 67.5 76.4 75.9 76.2 85 76.9 94.1 78.5 103.5 81.1 112.5 84.4 121.1 88.4 132.4 94.5 158.2 95.5 184.3 95.5 210.6 94.4 235.9 92.4 259.2 89.4 279.8 85.6 296.2 81.3 303.3 78.8 308.6 76.4 315 72.2 316.9 70 317.8 68.1 307.1 59.8 292.2 50.2 277.9 43 263.5 37.6 249.4 34.3Z" fill="#1feb40" stroke="#1feb40" stroke-width="0.6" stroke-linejoin="round"/>
<path d="M248.8 34.2L235.6 32.8 222.6 33.2 209.9 35.2 197.2 38.8 184.5 35.6 171.5 33.6 158.5 32.9 145.4 33.6 131.5 35.7 117.8 39.1 104.2 43.9 90.1 50.2 73.6 59.4 57 70.6 56.9 73.6 58.8 76.6 59.6 77.3 69 76.3 78.2 76.3 85.8 77 94.1 78.5 102.7 80.9 110.8 83.8 118.5 87.1 130.6 93.2 156 94.3 181.8 94.4 208 93.4 233.2 91.5 256.6 88.6 277.3 84.9 294.5 80.5 301.6 78.1 307 75.7 311 73.4 313.7 71.3 315.6 69.2 316.6 67.1 308.1 60.5 293 50.7 278.6 43.3 264 37.8 249.4 34.3Z" fill="#1feb38" stroke="#1feb38" stroke-width="0.6" stroke-linejoin="round"/>
<path d="M248.8 34.2L235.6 32.8 222.6 33.2 209.9 35.2 197.2 38.8 184.5 35.6 172.2 33.6 159.1 32.9 146.3 33.5 133.4 35.3 120 38.5 106.8 42.9 93.4 48.6 75.8 58.1 58.4 69.6 58.2 72.3 59.5 75 61.4 76.9 70.6 76.2 79 76.3 87.3 77.2 95.7 78.9 103.5 81.1 111.6 84.1 119.3 87.5 127.5 91.8 152.5 93.1 178.1 93.3 204.1 92.5 230.6 90.6 254 87.8 274.8 84.3 292.1 80 299.4 77.5 305 75.2 311.7 71.1 313.9 69.1 315 67.2 315.4 66.1 310.3 62.1 294.7 51.7 280 44 272 40.6 264.6 38 257.1 35.9 249.4 34.3Z" fill="#1eea30" stroke="#1eea30" stroke-width="0.6" stroke-linejoin="round"/>
<path d="M248.8 34.2L235.6 32.8 222.6 33.2 209.9 35.2 197.2 38.8 184.5 35.6 172.2 33.6 159.6 32.9 146.8 33.4 134.4 35.1 121.5 38 108.6 42.2 95.7 47.6 77.9 56.8 68.9 62.4 59.9 68.5 59.5 71.2 60.6 73.7 63.6 76.7 72.1 76.2 80.5 76.4 88.8 77.5 97.2 79.3 110 83.4 124.7 90.3 125.9 90.5 150.4 91.8 175.6 92.2 201.6 91.5 226.8 89.8 251.4 87 272.2 83.6 289.8 79.4 302.9 74.7 308.8 71.5 312.4 68.5 313.5 66.8 314.1 65.1 312.5 63.8 296.5 52.8 288.9 48.4 280.7 44.3 273.3 41.1 265.2 38.2 257.1 35.9 249.4 34.3Z" fill="#1eea28" stroke="#1eea28" stroke-width="0.6" stroke-linejoin="round"/>
<path d="M248.8 34.2L235.6 32.8 222.6 33.2 209.9 35.2 197.2 38.8 184.5 35.6 172.8 33.7 160.2 32.9 147.8 33.3 135.8 34.9 123.6 37.5 111 41.3 98.7 46.2 81 55.1 71.3 60.9 62.4 66.7 61.3 67.5 60.9 68.8 60.9 70.6 61.5 72.2 63.3 74.4 66 76.4 79.7 76.4 86.5 77.1 93.4 78.4 106.7 82.2 123.1 89.1 147.1 90.6 172 91 197.8 90.5 224.2 88.8 248.8 86.2 269.7 82.9 287.5 78.8 300.8 74.2 306.2 71.5 309.9 68.9 312.2 66 312.8 64.2 312.5 63.8 296.5 52.8 288.9 48.4 280.7 44.3 273.3 41.1 265.2 38.2 257.1 35.9 249.4 34.3Z" fill="#1eea20" stroke="#1eea20" stroke-width="0.6" stroke-linejoin="round"/>
<path d="M248.8 34.2L235.6 32.8 222.6 33.2 209.9 35.2 197.2 38.8 185.3 35.7 173.5 33.8 161.3 32.9 149.3 33.2 137.7 34.5 125.6 37 113.9 40.3 102.2 44.7 84.8 53 67.6 63.2 62.8 66.5 62.2 68.7 62.6 70.6 64.7 73.5 68.5 76.1 81.2 76.5 93.4 78.4 105.9 81.9 119.4 87.5 142.7 89.2 168.5 89.9 194.1 89.5 220.5 88 244.3 85.6 266.4 82.3 284.5 78.3 298.6 73.7 304.2 71 308.3 68.3 310.8 65.5 311.4 63.8 311.4 62.9 295.6 52.3 280 44 272 40.6 264.6 38 257.1 35.9 249.4 34.3Z" fill="#24ea1e" stroke="#24ea1e" stroke-width="0.6" stroke-linejoin="round"/>
<path d="M248.8 34.2L235.6 32.8 222.6 33.2 209.9 35.2 197.2 38.8 185.3 35.7 174.2 33.9 162.4 33 150.3 33.2 139.1 34.3 128.1 36.4 116.7 39.5 105.5 43.4 89.3 50.7 73.6 59.4 64.3 65.5 63.7 67.4 63.8 69.1 64.6 70.9 66.1 72.6 71.5 76.1 82.7 76.6 93.4 78.4 104.3 81.4 115.9 85.9 138.5 87.8 163.9 88.7 189.3 88.5 215.8 87.2 239.7 85 262.2 81.8 281.4 77.8 296 73.3 302.2 70.5 306.5 67.8 309.3 64.9 310.2 62.1 294.7 51.7 280 44 272 40.6 264.6 38 257.1 35.9 249.4 34.3Z" fill="#2deb1f" stroke="#2deb1f" stroke-width="0.6" stroke-linejoin="round"/>
<path d="M248.8 34.2L235.6 32.8 222.6 33.2 209.9 35.2 197.2 38.8 185.3 35.7 174.2 33.9 162.4 33 150.8 33.1 140.6 34.1 130 36 119.4 38.6 108.6 42.2 94.2 48.3 79 56.2 65.8 64.5 65.1 67.4 65.9 69.8 67.8 71.9 70.9 74.1 75.2 76.1 84.3 76.8 93.4 78.4 101.9 80.6 112.6 84.3 134.4 86.4 159.3 87.4 184.6 87.4 211 86.3 236.2 84.2 258.9 81.2 278.3 77.3 293.3 73 300.2 70 304.9 67.2 308 64.1 308.9 61.1 293.9 51.2 279.3 43.6 271.4 40.3 264 37.8 249.4 34.3Z" fill="#35ec20" stroke="#35ec20" stroke-width="0.6" stroke-linejoin="round"/>
<path d="M248.8 34.2L235.6 32.8 222.6 33.2 209.9 35.2 197.2 38.8 186.2 35.9 174.8 33.9 163.6 33 152.3 33 142.5 33.9 132.5 35.5 122.6 37.8 112.2 40.9 97.9 46.5 83.9 53.5 67.6 63.2 66.5 65.8 67 68.3 68.7 70.6 71.9 72.9 76.6 75.2 79.7 76.3 87.3 77.2 94.9 78.7 107.6 82.5 129.5 84.8 153.8 86.1 179.9 86.4 205.2 85.5 230.7 83.6 253.8 80.8 273.9 77.1 290.1 72.7 298.1 69.5 303.8 66.2 305.7 64.5 306.9 62.7 307.5 60.8 307.1 59.8 292.2 50.2 277.9 43 263.5 37.6 249.4 34.3Z" fill="#3eec20" stroke="#3eec20" stroke-width="0.6" stroke-linejoin="round"/>
<path d="M248.8 34.2L235.6 32.8 222.6 33.2 209.9 35.2 197.2 38.8 186.2 35.9 175.5 34 164.7 33.1 153.3 33 143.9 33.7 134.9 35 125.6 37 116.2 39.6 102.8 44.4 89.3 50.7 71.3 60.9 69 62.3 68.2 63.9 68.1 66.4 69.2 68.7 71.7 70.9 75.3 73 80.5 75.2 86.6 77 102.2 80.4 122.7 83 146.1 84.7 171.8 85.2 198.3 84.7 224.1 83.1 248.7 80.3 270 76.7 286.8 72.5 295.6 69.2 301.6 65.9 305.2 62.5 306 60.8 306 59 292.2 50.2 277.9 43 263.5 37.6 249.4 34.3Z" fill="#47ed21" stroke="#47ed21" stroke-width="0.6" stroke-linejoin="round"/>
<path d="M248.8 34.2L235.6 32.8 222.6 33.2 209.9 35.2 197.2 38.8 186.2 35.9 175.5 34 164.7 33.1 153.3 33 144.4 33.7 135.3 34.9 126.1 36.9 116.7 39.5 102.8 44.4 89.3 50.7 71.3 60.9 70.5 61.5 69.6 63.1 69.5 65.5 70.7 67.8 73.2 70 76.7 72 81.9 74.2 87.9 76 103.3 79.3 123.5 81.9 146.6 83.5 172 84.1 198.2 83.5 223.6 81.9 247 79.4 268.3 75.8 285 71.7 293.9 68.5 300.3 65.1 302.5 63.2 303.9 61.5 304.6 59.8 304.6 58.1 291.4 49.8 277.2 42.7 263.5 37.6 249.4 34.3Z" fill="#4fed21" stroke="#4fed21" stroke-width="0.6" stroke-linejoin="round"/>
<path d="M248.8 34.2L235.6 32.8 222.6 33.2 209.9 35.2 197.2 38.8 186.2 35.9 175.5 34 164.7 33.1 153.3 33 144.4 33.7 135.3 34.9 126.1 36.9 117.3 39.3 103.5 44.2 90.1 50.2 72.4 60.1 71.1 62.3 71 64.7 72.2 66.9 74.7 69.1 78.1 71.1 83.3 73.2 89.2 75 104.4 78.2 124.4 80.8 147.2 82.4 172.3 82.9 198.1 82.4 223.1 80.8 246.3 78.3 266.5 75 283.2 70.9 292.5 67.6 299.1 64.1 301.3 62.2 302.7 60.4 303.2 58.5 303 57 289.7 48.9 275.9 42.2 262.9 37.5 249.4 34.3Z" fill="#58ee22" stroke="#58ee22" stroke-width="0.6" stroke-linejoin="round"/>
<path d="M248.8 34.2L236.2 32.9 223.9 33.1 212.8 34.6 198.1 38.5 196.2 38.5 185.3 35.7 174.8 33.9 164.1 33 153.8 33 144.9 33.6 136.3 34.8 127.1 36.6 118.4 39 104.8 43.6 91.8 49.4 74.7 58.7 73.7 59.6 72.7 61.3 72.5 63.6 73.6 65.8 75.9 68 79.2 69.9 84.2 72 89.9 73.8 104.7 77 124.3 79.6 146.6 81.2 171.3 81.8 196.8 81.3 221.7 79.8 244.6 77.3 264.8 74.1 281.4 70.1 291.2 66.7 297.7 63.2 299.8 61.4 301.2 59.6 301.8 57.8 301.6 56.1 288.9 48.4 275.2 41.9 262.3 37.3 249.4 34.3Z" fill="#61ef23" stroke="#61ef23" stroke-width="0.6" stroke-linejoin="round"/>
<path d="M248.8 34.2L236.7 32.9 224.5 33 212.1 34.7 199.8 38 195.2 38 182.9 35.3 174.2 33.9 164.1 33 153.8 33 145.4 33.6 136.8 34.7 128.1 36.4 119.4 38.6 106.1 43.1 92.6 49 75.8 58.1 74.2 60.5 74 62.8 75.1 64.9 77.4 67 80.7 69 85.6 71 91.3 72.8 105.9 75.9 125.2 78.4 147.2 80 171.6 80.6 195.7 80.2 220.2 78.7 243 76.4 263 73.2 279.6 69.3 289.4 65.9 296.2 62.4 298.5 60.4 299.8 58.6 300.3 56.8 300 55 287.4 47.6 274.6 41.6 261.7 37.1 249.4 34.3Z" fill="#69ef23" stroke="#69ef23" stroke-width="0.6" stroke-linejoin="round"/>
<path d="M248.8 34.2L237.3 32.9 225.7 33 213.5 34.4 201.5 37.4 193.3 37.6 182.9 35.3 173.5 33.8 164.1 33 154.3 33 145.8 33.5 137.2 34.6 128.6 36.3 120 38.5 106.1 43.1 92.6 49 77.9 56.8 75.8 59.7 75.6 61.9 76.7 64 79 66.1 82.2 68 87.1 70 92.7 71.7 107.1 74.8 126.1 77.3 147.8 78.8 171.8 79.4 195.5 79 219.8 77.6 242.2 75.3 262 72.2 278.4 68.3 288.4 64.9 295 61.4 297.2 59.4 298.5 57.5 298.8 55.5 298.3 53.9 285.8 46.8 273.9 41.3 261.7 37.1 249.4 34.3Z" fill="#72f024" stroke="#72f024" stroke-width="0.6" stroke-linejoin="round"/>
<path d="M248.8 34.2L237.3 32.9 226.3 32.9 214.8 34.2 202.2 37.1 191.4 37.1 182.1 35.1 172.8 33.7 163.6 33 154.3 33 145.8 33.5 137.7 34.5 129.1 36.2 120.5 38.3 106.8 42.9 93.4 48.6 79.4 56 77.3 58.9 77.2 61.1 78.2 63.1 80.5 65.2 83.7 67 94.1 70.7 108.3 73.7 127 76.2 148.4 77.7 172.1 78.2 195.4 77.8 219.3 76.4 241.4 74.2 260.9 71.1 276.5 67.5 286.6 64.1 293.5 60.5 295.7 58.6 297 56.7 297.3 54.8 296.8 53.1 285.1 46.4 273.3 41.1 261.1 37 249.4 34.3Z" fill="#7bf024" stroke="#7bf024" stroke-width="0.6" stroke-linejoin="round"/>
<path d="M248.8 34.2L238.4 33 227.5 32.9 216.2 34 203.8 36.6 189.6 36.7 180.6 34.8 172.2 33.6 163 33 154.3 33 138.2 34.5 121.5 38 108 42.4 94.2 48.3 81.3 54.9 79.8 56.4 78.9 58 78.8 60.2 79.8 62.2 82.1 64.3 85.3 66.1 95.5 69.7 109.5 72.6 127 74.9 148 76.5 171.2 77.1 194.3 76.7 217.9 75.4 239.8 73.2 259.1 70.2 274.7 66.7 285.1 63.2 292.2 59.5 294.3 57.7 295.5 55.8 295.8 53.9 295.1 52 283.6 45.7 272 40.6 260.6 36.8 249.4 34.3Z" fill="#83f125" stroke="#83f125" stroke-width="0.6" stroke-linejoin="round"/>
<path d="M248.8 34.2L238.4 33 228.1 32.8 216.9 33.9 205.4 36.2 187.9 36.3 179.9 34.7 171.5 33.6 163 33 154.8 33 138.7 34.4 122.6 37.8 109.2 42 95.7 47.6 83.3 53.8 81.6 55.5 80.6 57.1 80.4 59.2 81.3 61.2 83.5 63.2 86.5 64.9 96.3 68.5 109.9 71.4 127 73.7 147.6 75.2 170.5 75.9 193.2 75.6 215.5 74.4 237.3 72.3 256.7 69.4 272.3 66 283.3 62.5 290.7 58.7 292.9 56.7 294 54.8 294.2 52.8 293.3 51 282.9 45.3 271.4 40.3 260.6 36.8 249.4 34.3Z" fill="#8cf226" stroke="#8cf226" stroke-width="0.6" stroke-linejoin="round"/>
<path d="M248.8 34.2L238.9 33 229.3 32.8 218.8 33.6 206.9 35.7 186.2 35.9 170.2 33.4 154.8 33 139.1 34.3 123.1 37.6 109.2 42 95.7 47.6 85.3 52.7 83.3 54.5 82.2 56.4 82.1 58.5 83.1 60.5 85.3 62.4 88.4 64.2 97.8 67.5 111.2 70.3 128 72.6 148.2 74.1 170.7 74.7 193.1 74.4 215.1 73.2 236.5 71.2 254.9 68.5 270.5 65.2 281.4 61.7 288.9 58 291.2 56.1 292.3 54.2 292.6 52.3 291.8 50.4 291.3 49.8 283.6 45.7 271.4 40.3 260.6 36.8 249.4 34.3Z" fill="#95f226" stroke="#95f226" stroke-width="0.6" stroke-linejoin="round"/>
<path d="M248.8 34.2L239.5 33.1 229.9 32.8 219.5 33.5 209.2 35.3 184.5 35.5 169.6 33.4 155.4 32.9 139.6 34.3 124.1 37.4 110.4 41.5 97.2 46.9 87.6 51.5 85.2 53.4 83.9 55.4 83.7 57.5 84.7 59.4 86.8 61.3 89.7 63 99.3 66.4 112.5 69.2 129 71.4 148.9 72.9 170 73.5 192 73.2 213.7 72.1 234.9 70.2 253.1 67.5 268.6 64.3 279.6 60.9 287 57.3 289.4 55.4 290.7 53.6 291 51.7 290.4 49.9 289.5 48.7 284.3 46 271.4 40.3 260.6 36.8 249.4 34.3Z" fill="#9df327" stroke="#9df327" stroke-width="0.6" stroke-linejoin="round"/>
<path d="M248.8 34.2L239.5 33.1 230.5 32.8 220.8 33.4 210.6 34.9 182.1 35.1 169 33.3 155.4 32.9 140.1 34.2 125.1 37.1 111.6 41.1 97.9 46.5 89.4 50.6 86.9 52.7 85.6 54.6 85.4 56.6 86.4 58.5 88.4 60.4 91.4 62.1 100.8 65.4 113.8 68.1 130 70.3 149.6 71.7 170.3 72.3 191.9 72.1 213.3 71 233.4 69.1 251.4 66.6 266.7 63.4 277.7 60.2 285.2 56.6 287.6 54.8 288.9 53 289.4 51.1 288.8 49.3 287.4 47.6 285.8 46.8 271.4 40.3 260.6 36.8 249.4 34.3Z" fill="#a6f327" stroke="#a6f327" stroke-width="0.6" stroke-linejoin="round"/>
<path d="M248.8 34.2L240.1 33.1 231 32.8 222 33.2 212.7 34.5 180.6 34.7 167.7 33.2 155.9 32.9 141 34.1 126.1 36.9 112.2 40.9 98.7 46.2 90.8 50 88.6 51.9 87.3 53.8 87.2 55.8 88.1 57.6 90.2 59.4 93 61.1 101.8 64.2 114.4 66.9 130.2 69 148.4 70.4 168.7 71.1 190 70.9 211.1 69.9 231 68.2 249 65.7 264.3 62.7 275.4 59.5 283.1 56.1 285.6 54.2 287.2 52.4 287.7 50.5 287.3 48.8 285.1 46.4 272 40.6 260.6 36.8 249.4 34.3Z" fill="#aff428" stroke="#aff428" stroke-width="0.6" stroke-linejoin="round"/>
<path d="M248.8 34.2L241.2 33.2 233.3 32.8 224.5 33 214.8 34.2 196.8 34 178.4 34.4 166.5 33.2 155.9 32.9 141.5 34 126.6 36.7 112.8 40.7 99.4 45.9 92.3 49.5 90.2 51.3 89.1 53 89 54.9 89.9 56.7 91.9 58.5 94.7 60.1 103.3 63.2 115.7 65.8 131.3 67.9 149.1 69.3 169 69.9 189.9 69.7 210.6 68.8 230.2 67.1 247.8 64.7 262.4 61.8 273.4 58.7 281.2 55.3 283.7 53.6 285.4 51.8 286 49.9 285.7 48.2 284.6 46.7 282.9 45.3 272 40.6 260.6 36.8 249.4 34.3Z" fill="#b7f529" stroke="#b7f529" stroke-width="0.6" stroke-linejoin="round"/>
<path d="M248.8 34.2L241.2 33.2 233.3 32.8 225.7 33 216.8 33.8 196.6 33.5 175.5 34 165.9 33.1 155.9 32.9 142 33.9 127.6 36.5 113.9 40.3 100.1 45.6 93.8 48.9 91.9 50.5 90.9 52.2 90.8 54.1 91.7 55.8 93.7 57.6 96.5 59.1 104.9 62.1 117.1 64.7 132.4 66.7 149.9 68.1 169.4 68.7 189.9 68.5 209.4 67.7 228.6 66 246.1 63.7 260.5 60.9 271.4 57.9 279.2 54.6 281.8 52.9 283.5 51.1 284.2 49.3 284 47.7 282.7 45.9 280.6 44.2 272 40.6 260.6 36.8 249.4 34.3Z" fill="#c0f529" stroke="#c0f529" stroke-width="0.6" stroke-linejoin="round"/>
<path d="M248.8 34.2L241.2 33.2 233.3 32.8 219.4 33.5 196.5 33.1 173.5 33.7 164.7 33.1 156.4 32.9 142.5 33.9 128.6 36.3 115.1 40 101.5 45 95.5 48.1 93.7 49.7 92.7 51.4 92.6 53.2 93.5 54.9 95.5 56.6 98.2 58.2 106.6 61.1 118.5 63.6 133.5 65.6 150.6 66.9 169.8 67.5 189 67.4 208.1 66.5 227.1 64.9 243.7 62.8 258.1 60.1 269.5 57.1 277.2 53.9 279.9 52.2 281.6 50.5 282.5 48.7 282.3 47.1 281.2 45.3 279.2 43.7 272.6 40.8 261.1 37 249.4 34.3Z" fill="#c9f62a" stroke="#c9f62a" stroke-width="0.6" stroke-linejoin="round"/>
<path d="M248.8 34.2L241.2 33.2 233.3 32.8 222 33.2 194 32.7 170.2 33.4 156.4 32.9 143 33.8 129.1 36.2 116.2 39.6 102.9 44.4 97.1 47.5 95.4 49.1 94.6 50.5 94.5 52.3 95.4 54 97.3 55.7 100.1 57.2 108.2 60 119.9 62.5 133.8 64.3 150.5 65.6 169.3 66.3 188.1 66.2 206.9 65.4 225.6 63.9 241.9 61.8 256.2 59.2 267.5 56.3 275.2 53.1 277.9 51.5 279.7 49.8 280.6 48.1 280.6 46.5 279.7 44.9 278.1 43.5 272.6 40.8 261.1 37 249.4 34.3Z" fill="#d1f62a" stroke="#d1f62a" stroke-width="0.6" stroke-linejoin="round"/>
<path d="M248.8 34.2L235 32.8 225.1 33 208.4 32.3 191.6 32.3 167.7 33.2 159.1 32.9 150.8 33.1 140.6 34.1 130.5 35.9 117.8 39.1 104.9 43.6 99.1 46.6 97.4 48.1 96.5 49.6 96.4 51.3 97.2 53 99 54.6 101.6 56.1 109.4 58.8 120.7 61.3 135 63.2 151.3 64.5 168.8 65.1 187.2 65 205.6 64.3 223.3 62.9 239.5 60.9 253.7 58.4 265 55.6 272.9 52.5 275.7 50.9 277.6 49.3 278.7 47.6 278.8 46.1 278.2 44.7 276.8 43.3 272 40.6 260.6 36.8 249.4 34.3Z" fill="#daf72b" stroke="#daf72b" stroke-width="0.6" stroke-linejoin="round"/>
<path d="M248.8 34.2L236.2 32.9 209.5 31.9 192.3 31.9 164.1 33 150.3 33.2 140.6 34.1 131 35.8 118.9 38.8 106.9 42.8 101.2 45.7 99.5 47.2 98.5 48.8 98.3 50.5 99.1 52.1 100.9 53.7 103.5 55.1 111.1 57.8 122.2 60.2 135.4 61.9 151.3 63.2 168.3 63.8 186.4 63.8 204.5 63.1 221.8 61.8 237.8 59.9 251.3 57.6 262.6 54.8 270.6 51.9 275.5 48.8 276.7 47.1 276.9 45.6 276.4 44.1 275.2 42.7 270.3 40 260 36.6 249.4 34.3Z" fill="#e3f82c" stroke="#e3f82c" stroke-width="0.6" stroke-linejoin="round"/>
<path d="M248.8 34.2L240.1 33.1 220 31.9 192.9 31.4 149.8 33.2 141 34.1 132 35.6 120.5 38.3 108.9 42.1 103.1 45 101.4 46.5 100.5 47.9 100.3 49.6 101.1 51.2 102.9 52.7 105.4 54.1 112.9 56.7 123.7 59 136.6 60.8 152.2 62 168.8 62.6 185.6 62.6 202.5 62 219.6 60.8 235.4 59 248.8 56.7 260.1 54.1 268.2 51.2 273.3 48.2 274.6 46.6 275 45.1 274.7 43.7 273.5 42.2 268.8 39.5 259.4 36.5 249.4 34.3Z" fill="#ebf82c" stroke="#ebf82c" stroke-width="0.6" stroke-linejoin="round"/>
<path d="M248.8 34.2L241.7 33.2 222.8 31.7 193.5 31 174.9 31.6 149.3 33.2 132.9 35.4 122 37.9 110.7 41.4 105 44.3 103.3 45.8 102.4 47.3 102.4 48.7 103.2 50.3 104.9 51.8 107.4 53.1 114.7 55.7 125.3 57.9 137.9 59.6 152.3 60.7 168.4 61.3 184.8 61.4 201.4 60.8 218.2 59.6 233.1 58 246.4 55.9 257.7 53.3 265.8 50.6 271 47.6 272.5 46.1 273 44.7 272.8 43.2 271.8 41.8 267.3 39 260.3 36.7 249.4 34.3Z" fill="#f4f92d" stroke="#f4f92d" stroke-width="0.6" stroke-linejoin="round"/>
<path d="M248.2 34L236.5 32.4 222.7 31.3 208.1 30.7 192.7 30.6 162.6 32 143.4 33.8 133.4 35.3 120.8 38.1 112.8 40.6 107 43.5 105.3 45 104.5 46.4 104.5 47.9 105.3 49.3 107 50.8 109.4 52.1 116.6 54.6 126.9 56.8 139.2 58.4 153.2 59.5 168.9 60.1 184.9 60.1 201 59.6 216.7 58.5 231.3 56.9 244.4 54.9 255.5 52.4 263.6 49.8 268.9 46.9 270.3 45.4 271 44 270.9 42.6 270 41.2 265.7 38.5 258.6 36.1 248.7 34.1Z" fill="#f8f42c" stroke="#f8f42c" stroke-width="0.6" stroke-linejoin="round"/>
<path d="M246.7 33.5L234.7 31.9 220.5 30.8 205.6 30.3 189.9 30.3 174.2 30.8 159.1 31.9 145 33.4 132.1 35.4 121.8 37.7 113.9 40.3 108.8 43 107.3 44.5 106.6 45.9 106.7 47.3 107.7 48.7 111.7 51.3 118.9 53.6 128.5 55.6 140.5 57.2 154.1 58.3 169.5 58.9 185 58.9 200.7 58.4 215.9 57.3 230.2 55.8 242.9 53.8 253.8 51.4 261.7 48.9 266.8 46.1 268.3 44.6 268.9 43.3 268.8 41.9 267.9 40.6 263.8 37.9 256.9 35.6 247.3 33.6Z" fill="#f7e52b" stroke="#f7e52b" stroke-width="0.6" stroke-linejoin="round"/>
<path d="M245.2 33L233.6 31.5 219.7 30.4 205.1 29.9 189.8 29.9 174.6 30.4 159.8 31.4 146.1 32.9 133.6 34.9 123.5 37.1 115.9 39.6 110.9 42.3 109.4 43.7 108.8 45 108.9 46.4 109.9 47.8 113.8 50.2 120.8 52.6 130.2 54.5 141.8 56 155.1 57.1 170 57.6 185.1 57.6 200.3 57.1 215.8 56.1 229.6 54.6 241.9 52.6 252 50.4 259.6 47.9 264.7 45.2 266.1 43.8 266.7 42.5 266.6 41.2 265.8 39.9 261.8 37.3 255.1 35.1 245.8 33.1Z" fill="#f5d629" stroke="#f5d629" stroke-width="0.6" stroke-linejoin="round"/>
<path d="M243.7 32.5L232.3 31.1 218.9 30 204.6 29.5 189.8 29.5 174.9 30 160.6 31 147.2 32.5 135.1 34.4 125.3 36.5 117.9 39 113.1 41.5 111.7 42.9 111.1 44.2 111.2 45.5 112.1 46.8 116 49.2 122.8 51.5 131.9 53.3 143.2 54.8 156.1 55.8 170.5 56.4 185.1 56.4 200.6 55.9 215 54.9 228.3 53.4 240.3 51.6 250.1 49.4 257.6 47 262.5 44.4 263.9 43 264.5 41.8 264.4 40.5 263.7 39.2 259.8 36.7 253.3 34.5 244.2 32.6Z" fill="#f3c827" stroke="#f3c827" stroke-width="0.6" stroke-linejoin="round"/>
<path d="M242.1 32.1L231.1 30.7 218.6 29.7 204.8 29.2 190.3 29.1 161.9 30.6 148.8 32 137 33.8 127.4 35.9 120.2 38.2 115.5 40.7 114.1 42 113.4 43.2 113.5 44.5 114.4 45.8 118 48.1 124.4 50.3 133.1 52.1 144 53.5 156.4 54.5 170.4 55.1 184.5 55.1 199.6 54.6 213.5 53.7 226.5 52.3 238.2 50.5 248.2 48.4 255.5 46.1 260.3 43.5 261.6 42.2 262.2 41 262.2 39.8 261.4 38.5 257.7 36.1 251.4 34 242.6 32.2Z" fill="#f1b925" stroke="#f1b925" stroke-width="0.6" stroke-linejoin="round"/>
<path d="M240.4 31.6L229.8 30.2 217.7 29.3 190.3 28.8 162.7 30.2 150 31.5 138.6 33.3 129.3 35.3 122.4 37.5 117.8 39.9 116.4 41.2 115.9 42.4 115.9 43.6 116.8 44.9 120.3 47.1 126.6 49.2 135 50.9 145.5 52.3 157.5 53.3 184.6 53.8 212.6 52.5 225.2 51.2 236.6 49.4 246.2 47.4 253.3 45.1 257.9 42.7 259.3 41.4 259.9 40.3 259.8 39.1 259.1 37.9 255.6 35.5 249.5 33.5 240.9 31.7Z" fill="#efab23" stroke="#efab23" stroke-width="0.6" stroke-linejoin="round"/>
<path d="M238.7 31.2L228.4 29.8 216.7 28.9 190.2 28.4 163.5 29.8 151.3 31.1 140.6 32.7 131.6 34.6 124.6 36.9 120.2 39.2 118.9 40.4 118.4 41.6 118.5 42.7 119.3 43.9 122.7 46.1 128.7 48.1 136.9 49.7 147 51.1 159.2 52 185.4 52.5 212.3 51.2 224.4 49.9 235.3 48.3 244.2 46.3 251 44.2 255.5 41.9 256.9 40.6 257.4 39.5 257.4 38.4 256.7 37.2 253.3 35 247.4 33 239.2 31.3Z" fill="#ed9c21" stroke="#ed9c21" stroke-width="0.6" stroke-linejoin="round"/>
<path d="M236.9 30.7L227 29.5 215.7 28.6 190.1 28.1 164.4 29.4 152.6 30.6 142.3 32.2 133.6 34.1 126.9 36.2 122.7 38.4 121.5 39.6 120.9 40.7 121.1 41.9 121.8 43 125.1 45 131 47 138.8 48.6 148.6 49.8 160.3 50.7 185.5 51.2 211.4 49.9 223 48.7 233.5 47.1 242.1 45.3 248.7 43.2 253.1 41 254.9 38.7 254.9 37.6 254.2 36.5 251 34.4 245.3 32.5 237.4 30.8Z" fill="#eb8d1f" stroke="#eb8d1f" stroke-width="0.6" stroke-linejoin="round"/>
<path d="M235.1 30.3L225.5 29.1 214.7 28.2 190 27.8 165.3 29 144.1 31.7 135.8 33.5 129.3 35.6 125.3 37.7 123.6 39.9 123.8 41 124.5 42 127.7 44 133.4 45.8 140.9 47.4 150.2 48.6 161.5 49.4 185.6 49.9 210.4 48.7 231.6 46 240.2 44.2 246.4 42.2 250.6 40.1 252.3 37.9 252.2 36.8 251.6 35.8 248.3 33.7 242.8 31.9 235.5 30.4Z" fill="#ea7f1e" stroke="#ea7f1e" stroke-width="0.6" stroke-linejoin="round"/>
<path d="M233.1 29.9L213.5 27.9 190.5 27.5 166.7 28.6 146.3 31.2 138.3 32.9 132 34.8 128.1 36.9 126.5 38.9 126.5 40 127.2 41 130.2 42.9 135.5 44.6 142.6 46.1 151.4 47.2 162.1 48.1 185.1 48.6 208.9 47.5 229.7 44.9 237.9 43.1 243.9 41.2 247.9 39.2 249.5 37.1 249.5 36.1 248.9 35.1 245.8 33.2 240.5 31.4 233.5 30Z" fill="#e8701c" stroke="#e8701c" stroke-width="0.6" stroke-linejoin="round"/>
<path d="M231 29.5L212.4 27.6 190.3 27.2 167.6 28.3 148.2 30.7 140.6 32.4 134.9 34.1 131.1 36 129.5 38 129.5 39 130.1 40 133 41.8 138 43.5 144.8 44.9 163.4 46.8 185.3 47.2 207.9 46.2 227.6 43.7 235.5 42.1 241.2 40.3 245 38.3 246.6 36.4 246.6 35.4 246 34.5 243.1 32.6 238.1 30.9 231.4 29.6Z" fill="#e6611a" stroke="#e6611a" stroke-width="0.6" stroke-linejoin="round"/>
<path d="M228.9 29.1L211.2 27.3 190.2 26.9 169.1 27.9 150.5 30.2 143.3 31.8 137.6 33.5 134.1 35.3 132.6 37.2 132.6 38.1 133.2 39 136 40.7 140.8 42.3 147.2 43.6 164.7 45.4 185.4 45.8 206.8 44.8 225.5 42.5 232.9 41 238.4 39.3 242.1 37.5 243.6 35.6 243.6 34.7 243 33.8 240.3 32 235.5 30.5 229.2 29.2Z" fill="#e45318" stroke="#e45318" stroke-width="0.6" stroke-linejoin="round"/>
<path d="M226.5 28.8L209.8 27.1 190.1 26.7 170.1 27.6 152.7 29.8 145.9 31.2 140.6 32.9 137.3 34.6 135.8 36.3 136.5 38 139.1 39.7 143.6 41.1 149.6 42.3 166.1 44 185.6 44.4 205.6 43.5 223.2 41.3 230.3 39.9 235.4 38.3 238.9 36.6 240.4 34.9 239.9 33.2 237.3 31.5 232.8 30 226.9 28.8Z" fill="#e24416" stroke="#e24416" stroke-width="0.6" stroke-linejoin="round"/>
<path d="M224.1 28.4L208.8 26.9 190.4 26.5 171.6 27.4 155.3 29.4 148.9 30.7 143.9 32.2 140.7 33.8 139.4 35.4 139.9 37 142.3 38.5 146.4 39.9 151.9 41 167.2 42.6 185.7 43 204.4 42.1 220.9 40.1 227.4 38.8 232.2 37.3 235.5 35.7 236.9 34.1 236.5 32.5 234.1 31 229.9 29.6 224.4 28.5Z" fill="#e03614" stroke="#e03614" stroke-width="0.6" stroke-linejoin="round"/>
<path d="M221.4 28.1L207.3 26.7 190.2 26.3 172.9 27.1 157.7 29 147.4 31.5 144.4 33 143.2 34.5 143.6 36 145.9 37.4 149.7 38.6 154.8 39.7 168.8 41.1 185.9 41.5 203.1 40.7 218.3 38.9 228.8 36.3 231.9 34.9 233.2 33.4 232.8 31.9 230.6 30.5 226.8 29.2 221.7 28.2Z" fill="#de2712" stroke="#de2712" stroke-width="0.6" stroke-linejoin="round"/>
<path d="M218.4 27.8L205.6 26.5 190 26.2 174.2 27 160.7 28.6 151.2 30.9 148.5 32.3 147.3 33.6 147.7 34.9 149.6 36.2 157.9 38.3 170.6 39.6 186.1 40 202 39.2 215.7 37.6 225.2 35.2 228 33.9 229.1 32.6 228.7 31.2 226.8 30 218.7 27.9Z" fill="#dc1810" stroke="#dc1810" stroke-width="0.6" stroke-linejoin="round"/>
<path d="M215.1 27.6L203.7 26.5 189.7 26.2 175.7 26.9 163.7 28.3 155.3 30.4 152.9 31.6 151.9 32.7 152.3 33.9 154 35 161.3 36.9 172.6 38.1 186.3 38.3 200.4 37.7 212.6 36.3 221.1 34.2 223.5 33 224.6 31.8 224.3 30.6 222.6 29.5 215.3 27.7Z" fill="#db0f0f" stroke="#db0f0f" stroke-width="0.6" stroke-linejoin="round"/>
<path d="M211.3 27.5L201.5 26.5 189.8 26.3 177.7 26.8 167.3 28.1 160.2 29.8 158.1 30.8 157.2 31.8 157.5 32.9 159 33.8 165.3 35.4 175.1 36.4 186.8 36.6 198.8 36.1 209.2 34.8 216.5 33.1 218.5 32.1 219.4 31.1 219.1 30.1 217.7 29.1 211.5 27.5Z" fill="#db0f0f" stroke="#db0f0f" stroke-width="0.6" stroke-linejoin="round"/>
<path d="M206.6 27.5L198.8 26.7 189.4 26.5 179.7 27 171.5 28 165.9 29.3 164.2 30.1 163.5 30.9 163.8 31.8 165 32.5 170 33.8 177.8 34.5 187 34.7 196.6 34.3 204.9 33.3 210.7 31.9 212.3 31.2 213.1 30.3 212.9 29.5 211.8 28.8 206.8 27.5Z" fill="#db0f0f" stroke="#db0f0f" stroke-width="0.6" stroke-linejoin="round"/>
<path d="M200.2 27.7L189 27.1 177.4 28.1 173.7 29 172.2 30 173.1 31 176.4 31.8 187.6 32.5 199.2 31.5 202.9 30.6 204.5 29.6 203.6 28.6 200.4 27.8Z" fill="#db0f0f" stroke="#db0f0f" stroke-width="0.6" stroke-linejoin="round"/>
<path d="M268 39.1L257.9 35.9 247.9 33.1 237.5 30.7 227.1 28.8 216.8 27.5 206.4 26.6 196.6 26.2 186 26.3 176.1 26.8 165.6 27.8 155.4 29.3 145 31.3 134.8 33.8 124.6 36.7 114.4 40 103.8 44.1" stroke="#000" stroke-width="1.1" fill="none" stroke-linecap="round"/><path transform="translate(0 1.4)" d="M268 39.1L257.9 35.9 247.9 33.1 237.5 30.7 227.1 28.8 216.8 27.5 206.4 26.6 196.6 26.2 186 26.3 176.1 26.8 165.6 27.8 155.4 29.3 145 31.3 134.8 33.8 124.6 36.7 114.4 40 103.8 44.1" stroke="#000" stroke-opacity="0.65" stroke-width="2.4" fill="none" stroke-linecap="round"/>
<path d="M196.9 152.1L186.6 140.6 176.5 130.1 166.4 120.5 156 111.4 146.1 103.8 135.9 96.8 126.4 91.2 116.5 86.2 106.7 82.2 97.2 79.3 87.8 77.3 78.2 76.3 68.8 76.3 59.7 77.3 50.8 79.2 42.1 82.2M196.9 152.1L207.1 143.2 217.3 135 227.3 127.6 237.8 120.7 247.5 114.9 257.7 109.5 267.1 105.2 276.9 101.5 286.6 98.6 296 96.4 305.3 95 314.8 94.3 324.1 94.4 333.2 95.3 342 97 350.6 99.4M199.1 150.2L188.8 138.7 178.7 128.2 168.6 118.6 158.1 109.6 148.3 102 138.1 95 128.5 89.3 118.6 84.4 108.9 80.4 99.3 77.5 90 75.5 80.4 74.5 71 74.5 61.8 75.5 52.9 77.5 44.2 80.5M194.7 149.6L205 140.7 215.1 132.6 225.2 125.2 235.6 118.3 245.4 112.4 255.5 107.1 265 102.9 274.8 99.1 284.5 96.2 293.9 94.1 303.2 92.7 312.7 92 322 92.2 331.1 93.1 340 94.7 348.6 97.1M201.2 148.3L191 136.8 180.8 126.3 170.8 116.7 160.3 107.7 150.5 100.1 140.3 93.2 130.7 87.5 120.8 82.6 111 78.7 101.5 75.7 92.1 73.8 82.5 72.8 73.1 72.8 63.9 73.8 55 75.8 46.3 78.8M192.6 147.2L202.8 138.3 213 130.1 223 122.8 233.5 115.9 243.3 110.1 253.4 104.8 262.9 100.5 272.7 96.8 282.4 93.9 291.8 91.8 301.1 90.4 310.6 89.8 320 89.9 329.1 90.9 338 92.5 346.6 95M203.4 146.4L193.1 134.9 183 124.4 172.9 114.9 162.5 105.9 152.6 98.3 142.4 91.4 132.4 85.5 122.4 80.6 112.7 76.7 103.1 73.9 93.8 72 84.1 71.1 75.2 71.1 66 72.2 57 74.2 48.3 77.1M190.4 144.7L200.7 135.9 210.8 127.7 220.9 120.4 231.3 113.5 241.1 107.7 251.3 102.5 260.8 98.2 270.6 94.5 280.3 91.6 289.7 89.5 299 88.2 308.6 87.5 317.9 87.7 327 88.7 335.9 90.4 344.6 92.8M205.5 144.5L195.3 133.1 185.2 122.6 175.1 113.1 164.6 104.1 154.8 96.6 144.6 89.6 134.5 83.7 124.6 78.9 114.9 75 105.3 72.2 95.9 70.3 86.3 69.4 77.3 69.5 68.1 70.5 59.1 72.5 50.4 75.5M188.3 142.4L198.5 133.5 208.7 125.4 218.8 118.1 229.2 111.2 239 105.4 249.2 100.2 258.7 96 268.5 92.3 278.2 89.4 287.6 87.3 296.9 86 306.5 85.4 315.9 85.6 325 86.5 333.9 88.3 342.6 90.7M207.7 142.7L197.5 131.3 187.3 120.9 177.3 111.4 166.8 102.4 156.9 94.8 146.7 87.9 136.7 82 126.7 77.2 117 73.4 107.4 70.5 98 68.7 88.4 67.8 79.4 67.8 70.2 68.9 61.2 70.9 52.5 73.9M186.1 140L196.4 131.2 206.6 123.1 216.6 115.8 227.1 108.9 236.9 103.2 247 98 256.5 93.7 266.4 90.1 276.1 87.2 285.6 85.1 294.9 83.8 304.4 83.2 313.8 83.4 322.9 84.4 331.9 86.2 340.6 88.7M209.8 141L199.6 129.6 189.5 119.1 179.4 109.6 168.9 100.7 159.1 93.1 148.9 86.2 138.8 80.4 128.9 75.6 119.1 71.7 109.6 68.9 100.2 67.1 90.5 66.2 81.5 66.2 72.3 67.3 63.3 69.4 54.5 72.4M184 137.8L194.2 128.9 204.4 120.9 214.5 113.6 224.9 106.7 234.7 101 244.9 95.8 254.4 91.6 264.3 87.9 274 85.1 283.5 83 292.8 81.7 302.4 81.1 311.7 81.4 320.9 82.4 329.8 84.1 338.6 86.6M212 139.2L201.8 127.8 191.6 117.4 181.6 107.9 171.1 99 161.2 91.5 151 84.6 140.9 78.8 131 73.9 121.3 70.1 111.7 67.3 102.3 65.5 92.6 64.6 83.6 64.7 74.4 65.8 65.4 67.8 56.6 70.8M181.8 135.5L192.1 126.7 202.3 118.6 212.3 111.4 222.8 104.5 232.6 98.8 242.8 93.6 252.3 89.4 262.2 85.8 271.9 83 281.4 80.9 290.7 79.6 300.3 79.1 309.7 79.3 318.9 80.4 327.8 82.1 336.5 84.6M214.1 137.5L203.9 126.1 193.8 115.7 183.7 106.3 173.2 97.4 163.4 89.9 153.2 83 143.1 77.2 133.2 72.3 123.4 68.6 113.8 65.8 104.4 63.9 94.7 63.1 85.7 63.2 76.5 64.3 67.5 66.3 58.7 69.3M179.7 133.3L190 124.5 200.1 116.5 210.2 109.2 220.7 102.4 230.5 96.7 240.7 91.5 250.2 87.3 260.1 83.7 269.8 80.9 279.3 78.9 288.6 77.6 298.2 77.1 307.6 77.3 316.8 78.4 325.8 80.2 334.5 82.7M216.2 135.8L206 124.5 195.9 114.1 185.8 104.7 175.4 95.8 165.5 88.3 155.3 81.4 145.2 75.6 135.3 70.8 125.5 67 115.9 64.2 106.5 62.4 96.8 61.5 87.8 61.7 78.6 62.8 69.5 64.9 60.7 67.9M177.6 131.1L187.8 122.4 198 114.3 208.1 107.1 218.6 100.3 228.4 94.6 238.6 89.4 248.1 85.3 258 81.7 267.7 78.9 277.2 76.9 286.6 75.6 296.2 75.1 305.6 75.4 314.8 76.4 323.8 78.2 332.5 80.8M218.4 134.2L208.2 122.9 198 112.5 188 103.1 177.5 94.2 167.7 86.7 157.4 79.9 147.3 74.1 137.4 69.3 127.6 65.5 118 62.7 108.6 60.9 98.9 60.1 89.9 60.2 80.6 61.3 71.6 63.4 62.8 66.4M175.4 129L185.7 120.3 195.9 112.3 206 105 216.4 98.2 226.3 92.6 236.5 87.4 246 83.3 255.9 79.7 265.6 76.9 275.1 74.9 284.5 73.7 294.1 73.2 303.5 73.5 312.7 74.5 321.7 76.3 330.5 78.9M220.5 132.6L210.3 121.3 200.1 110.9 190.1 101.5 179.6 92.6 169.8 85.2 159.6 78.4 149.5 72.6 139.5 67.8 129.8 64 120.2 61.3 110.7 59.5 101 58.6 92 58.8 82.7 59.9 73.7 62 64.9 65M173.3 126.9L183.6 118.2 193.8 110.2 203.8 103 214.3 96.2 224.2 90.6 234.4 85.4 243.9 81.3 253.8 77.8 263.5 75 273.1 73 282.4 71.8 292.1 71.3 301.5 71.6 310.7 72.7 319.7 74.5 328.5 77.1M222.6 131L212.4 119.7 202.3 109.4 192.2 100 181.8 91.1 171.9 83.7 161.7 76.9 151.6 71.1 141.7 66.3 131.9 62.6 122.3 59.8 112.8 58.1 103.1 57.2 94.1 57.4 84.8 58.5 75.7 60.6 66.9 63.7M171.2 124.9L181.5 116.2 191.7 108.2 201.7 101 212.2 94.3 222 88.6 232.2 83.5 241.8 79.4 251.7 75.8 261.4 73.1 271 71.1 280.4 69.9 290 69.4 299.5 69.7 308.7 70.8 317.7 72.7 326.5 75.3M224.7 129.5L214.5 118.2 204.4 107.9 194.3 98.5 183.9 89.7 174 82.2 163.8 75.4 153.7 69.7 143.8 64.9 134 61.2 124.4 58.5 114.9 56.7 105.2 55.9 96.2 56 86.9 57.2 77.8 59.3 69 62.3M169.1 122.9L179.4 114.2 189.5 106.2 199.6 99.1 210.1 92.3 219.9 86.7 230.1 81.6 239.7 77.5 249.6 74 259.3 71.2 268.9 69.3 278.3 68.1 288 67.6 297.4 67.9 306.6 69 315.7 70.9 324.5 73.5M226.8 128L216.6 116.7 206.5 106.4 196.5 97.1 186 88.2 176.2 80.8 165.9 74 155.8 68.3 145.9 63.5 136.1 59.8 126.5 57.1 117 55.3 107.3 54.5 98.2 54.7 88.9 55.8 79.9 58 71 61M167 121L177.2 112.3 187.4 104.3 197.5 97.2 208 90.4 217.8 84.8 228.1 79.7 237.6 75.7 247.5 72.1 257.3 69.4 266.8 67.5 276.2 66.3 285.9 65.8 295.4 66.2 304.6 67.3 313.7 69.2 322.5 71.8M228.9 126.5L218.7 115.3 208.6 105 198.6 95.6 188.1 86.8 178.3 79.4 168 72.6 157.9 66.9 148 62.2 138.2 58.5 128.6 55.8 119.1 54 109.4 53.2 100.3 53.4 91 54.5 81.9 56.7 73.1 59.7M164.9 119.1L175.1 110.4 185.3 102.5 195.4 95.3 205.9 88.6 215.7 83 226 77.9 235.5 73.9 245.4 70.4 255.2 67.6 264.8 65.7 274.2 64.5 283.9 64.1 293.3 64.5 302.6 65.6 311.6 67.5 320.5 70.1M231 125.1L220.8 113.9 210.7 103.6 200.7 94.3 190.2 85.5 180.4 78.1 170.1 71.3 160 65.6 150.1 60.9 140.3 57.2 130.7 54.5 121.2 52.7 111.5 51.9 102.4 52.1 93.1 53.3 84 55.4 75.1 58.5M162.8 117.2L173 108.5 183.2 100.6 193.3 93.5 203.8 86.8 213.6 81.2 223.9 76.2 233.4 72.1 243.4 68.6 253.1 65.9 262.7 64 272.1 62.8 281.8 62.4 291.3 62.8 300.6 63.9 309.6 65.8 318.5 68.4M233.1 123.7L222.9 112.5 212.8 102.2 202.8 92.9 192.3 84.1 182.5 76.7 172.2 70 162.1 64.3 152.2 59.6 142.4 55.9 132.8 53.2 123.3 51.5 113.5 50.7 104.5 50.9 95.1 52.1 86 54.2 77.1 57.3M160.7 115.4L170.9 106.7 181.1 98.8 191.2 91.7 201.7 85 211.6 79.5 221.8 74.4 231.4 70.4 241.3 66.9 251.1 64.2 260.6 62.3 270.1 61.2 279.8 60.7 289.3 61.1 298.5 62.3 307.6 64.2 316.5 66.8M235.2 122.3L225 111.1 214.9 100.9 204.9 91.6 194.4 82.8 184.6 75.5 174.3 68.7 164.2 63 154.3 58.3 144.5 54.7 134.8 52 125.4 50.3 115.6 49.5 106.5 49.7 97.2 50.9 88.1 53 79.2 56.1M158.6 113.6L168.9 105 179 97.1 189.1 90 199.6 83.3 209.5 77.8 219.7 72.7 229.3 68.7 239.2 65.2 249 62.6 258.6 60.7 268 59.5 277.7 59.1 287.2 59.5 296.5 60.7 305.6 62.6 314.5 65.3M237.2 121L227.1 109.8 217 99.6 207 90.3 196.5 81.5 186.7 74.2 176.4 67.5 166.3 61.8 156.4 57.1 146.6 53.5 136.9 50.8 127.4 49.1 117.7 48.3 108.6 48.5 99.2 49.7 90.1 51.8 81.2 54.9M156.5 111.9L166.8 103.2 177 95.4 187 88.3 197.5 81.6 207.4 76.1 217.6 71.1 227.2 67.1 237.1 63.6 246.9 61 256.5 59.1 266 57.9 275.7 57.6 285.2 58 294.5 59.1 303.6 61.1 312.5 63.7M239.3 119.7L229.2 108.5 219.1 98.3 209 89 198.6 80.3 188.8 73 178.5 66.3 168.4 60.6 158.5 55.9 148.6 52.3 139 49.6 129.5 47.9 119.8 47.1 110.7 47.4 101.3 48.6 92.2 50.7 83.2 53.8M154.4 110.2L164.7 101.6 174.9 93.7 185 86.6 195.5 80 205.3 74.5 215.6 69.5 225.1 65.5 235.1 62 244.9 59.4 254.5 57.5 263.9 56.4 273.6 56 283.2 56.4 292.5 57.6 301.6 59.6 310.5 62.2M241.4 118.5L231.2 107.3 221.1 97.1 211.1 87.8 200.7 79.1 190.8 71.8 180.6 65.1 170.5 59.4 160.5 54.8 150.7 51.1 141.1 48.5 131.6 46.8 121.8 46 112.7 46.2 103.3 47.5 94.2 49.6 85.3 52.7M152.3 108.5L162.6 99.9 172.8 92.1 182.9 85 193.4 78.4 203.2 72.9 213.5 67.9 223.1 63.9 233 60.5 242.8 57.9 252.4 56 261.9 54.9 271.6 54.5 281.1 54.9 290.5 56.2 299.6 58.1 308.5 60.8M243.4 117.2L233.3 106.1 223.2 95.9 213.2 86.6 202.7 77.9 192.9 70.6 182.7 63.9 172.6 58.3 162.6 53.7 152.8 50 143.1 47.4 133.7 45.7 123.9 44.9 114.8 45.2 105.4 46.4 96.2 48.6 87.3 51.7M150.3 106.9L160.5 98.3 170.7 90.5 180.8 83.5 191.3 76.9 201.2 71.4 211.4 66.4 221 62.4 231 59 240.8 56.4 250.4 54.5 259.8 53.4 269.6 53.1 279.1 53.5 288.4 54.7 297.6 56.7 306.5 59.4M245.5 116L235.3 104.9 225.3 94.7 215.3 85.5 204.8 76.8 195 69.5 184.8 62.8 174.6 57.2 164.7 52.6 154.9 48.9 145.2 46.3 135.7 44.6 125.9 43.9 116.8 44.1 107.4 45.3 98.3 47.5 89.3 50.6M148.2 105.3L158.5 96.8 168.7 89 178.7 81.9 189.3 75.4 199.1 69.9 209.4 64.9 218.9 60.9 228.9 57.5 238.7 54.9 248.3 53.1 257.8 52 267.5 51.6 277.1 52.1 286.4 53.3 295.6 55.3 304.5 58M247.5 114.9L237.4 103.8 227.3 93.6 217.3 84.4 206.9 75.7 197 68.4 186.8 61.8 176.7 56.1 166.7 51.5 156.9 47.9 147.3 45.3 137.8 43.6 128 42.9 118.9 43.1 109.5 44.3 100.3 46.5 91.3 49.6M146.1 103.8L156.4 95.3 166.6 87.5 176.7 80.5 187.2 73.9 197 68.4 207.3 63.5 216.9 59.5 226.9 56.1 236.7 53.5 246.3 51.7 255.8 50.6 265.5 50.3 275.1 50.7 284.4 52 293.6 53.9 302.5 56.6M249.6 113.7L239.4 102.6 229.4 92.5 219.4 83.3 208.9 74.6 199.1 67.4 188.9 60.7 178.8 55.1 168.8 50.5 159 46.9 149.3 44.3 139.8 42.6 130 41.9 120.9 42.1 111.5 43.3 102.3 45.5 93.4 48.6M144.1 102.3L154.4 93.8 164.5 86 174.6 79 185.1 72.5 195 67 205.2 62.1 214.8 58.1 224.8 54.7 234.6 52.1 244.3 50.3 253.7 49.3 263.5 48.9 273.1 49.4 282.4 50.6 291.6 52.6 300.5 55.3M251.6 112.6L241.5 101.6 231.4 91.4 221.4 82.2 211 73.6 201.2 66.3 190.9 59.7 180.8 54.1 170.9 49.5 161 45.9 151.4 43.3 141.9 41.6 132.1 40.9 122.9 41.2 113.5 42.4 104.3 44.6 95.4 47.7M142 100.9L152.3 92.4 162.5 84.6 172.6 77.6 183.1 71.1 192.9 65.6 203.2 60.7 212.8 56.8 222.8 53.4 232.6 50.8 242.2 49 251.7 47.9 261.5 47.6 271 48.1 280.4 49.3 289.6 51.3 298.5 54.1M253.6 111.6L243.5 100.5 233.5 90.4 223.5 81.2 213 72.6 203.2 65.3 193 58.7 182.9 53.1 172.9 48.5 163.1 44.9 153.4 42.3 143.9 40.7 134.1 40 125 40.2 115.6 41.5 106.4 43.7 97.4 46.8M140 99.5L150.3 91 160.4 83.2 170.5 76.3 181 69.7 190.9 64.3 201.1 59.4 210.8 55.5 220.7 52.1 230.5 49.5 240.2 47.7 249.7 46.7 259.5 46.4 269 46.9 278.4 48.1 287.6 50.1 296.5 52.8M255.6 110.5L245.5 99.5 235.5 89.4 225.5 80.2 215.1 71.6 205.3 64.4 195 57.8 184.9 52.2 175 47.6 165.1 44 155.5 41.4 146 39.8 136.1 39.1 127 39.3 117.6 40.6 108.4 42.8 99.4 45.9M138 98.1L148.2 89.7 158.4 81.9 168.5 75 179 68.4 188.9 63 199.1 58.1 208.7 54.2 218.7 50.8 228.5 48.3 238.2 46.5 247.7 45.4 257.4 45.1 267 45.6 276.4 46.9 285.6 48.9 294.6 51.6M257.7 109.5L247.6 98.5 237.5 88.4 227.5 79.3 217.1 70.7 207.3 63.5 197.1 56.9 187 51.3 177 46.7 167.2 43.1 157.5 40.5 148 38.9 138.2 38.2 129 38.5 119.6 39.7 110.4 41.9 101.4 45.1M135.9 96.8L146.2 88.3 156.4 80.6 166.5 73.7 177 67.2 186.8 61.8 197.1 56.9 206.7 53 216.7 49.6 226.5 47.1 236.1 45.3 245.6 44.3 255.4 44 265 44.5 274.4 45.7 283.6 47.7 292.6 50.5M259.7 108.6L249.6 97.6 239.5 87.5 229.6 78.4 219.1 69.8 209.3 62.6 199.1 56 189 50.4 179 45.9 169.2 42.3 159.5 39.7 150 38.1 140.2 37.4 131 37.6 121.6 38.9 112.4 41.1 103.4 44.2M133.9 95.6L144.2 87.1 154.3 79.4 164.4 72.4 174.9 66 184.8 60.6 195 55.7 204.7 51.8 214.6 48.4 224.5 45.9 234.1 44.1 243.6 43.1 253.4 42.8 263 43.3 272.4 44.6 281.6 46.6 290.6 49.4M261.7 107.6L251.6 96.6 241.5 86.6 231.6 77.5 221.7 69.3 211.9 62.1 201.6 55.4 192 50.1 182.1 45.4 172.2 41.8 162.5 39.1 153 37.4 143.6 36.6 134.4 36.7 124.9 37.9 115.7 39.9 106.6 42.9M131.9 94.3L142.1 85.9 152.3 78.2 162.4 71.3 172.9 64.8 182.8 59.4 193 54.5 202.6 50.6 212.6 47.3 222.4 44.8 232.1 43 241.6 42 251.4 41.7 261 42.2 270.4 43.5 279.7 45.5 288.7 48.3M263.7 106.7L253.6 95.8 243.6 85.7 233.6 76.6 223.7 68.5 213.9 61.2 204.2 54.9 194.6 49.5 184.6 44.8 174.7 41.1 165 38.4 155.5 36.7 146.1 35.8 136.9 35.9 127.4 37 118.6 38.9 109.5 41.8M129.9 93.1L140.1 84.7 150.3 77 160.4 70.1 170.9 63.6 180.7 58.3 191 53.4 200.6 49.5 210.6 46.2 220.4 43.7 230.1 41.9 239.6 40.9 249.4 40.7 259 41.2 268.5 42.5 277.7 44.5 286.7 47.2M265.6 105.9L256.1 95.5 246.1 85.4 236.1 76.3 226.2 68.1 216.4 60.8 206.7 54.4 197.1 49 187.1 44.3 177.7 40.7 168 37.9 158.4 36.1 149 35.1 139.8 35.2 130.7 36.1 121.9 37.9 112.8 40.6M127.9 92L138.1 83.6 148.3 75.9 158.4 69 168.9 62.5 178.7 57.2 189 52.3 198.6 48.5 208.6 45.2 218.4 42.6 228.1 40.9 237.6 39.9 247.4 39.6 257.1 40.2 266.5 41.4 275.7 43.5 284.7 46.2M267.6 105L258.1 94.6 248.1 84.6 238.1 75.5 228.2 67.3 218.4 60 208.7 53.7 199.1 48.3 189.6 43.8 180.2 40.1 170.5 37.3 161.4 35.5 152 34.5 142.7 34.4 133.6 35.2 124.7 36.9 116 39.5M125.9 90.9L136.1 82.5 146.3 74.8 156.4 67.9 166.9 61.5 176.7 56.1 187 51.3 196.6 47.4 206.6 44.1 216.4 41.6 226.1 39.9 235.6 38.9 245.4 38.6 255.1 39.2 264.5 40.5 273.7 42.5 282.8 45.3M269.6 104.2L260.1 93.9 250.1 83.8 240.6 75.2 230.7 66.9 221.5 60 211.7 53.6 202.1 48.1 192.6 43.5 183.2 39.8 174 37 164.8 35 155.4 33.9 146.1 33.7 137 34.4 128 35.9 119.3 38.4M123.9 89.8L134.1 81.4 144.3 73.8 154.4 66.9 164.9 60.5 174.7 55.1 185 50.3 194.6 46.4 204.6 43.2 214.4 40.7 224.1 38.9 233.6 37.9 243.5 37.7 253.1 38.2 262.5 39.5 271.8 41.6 280.8 44.3M271.6 103.5L262 93.1 252.6 83.6 243.1 74.9 233.3 66.6 224 59.7 214.2 53.2 204.6 47.7 195.1 43 185.7 39.3 176.4 36.4 167.3 34.4 157.8 33.3 149 33 139.9 33.6 130.9 35.1 122.1 37.4M121.9 88.8L132.1 80.4 142.3 72.8 152.4 65.9 162.9 59.5 172.7 54.2 183 49.3 192.6 45.5 202.6 42.2 212.4 39.7 222.1 38 231.6 37 241.5 36.8 251.1 37.3 260.6 38.6 269.8 40.7 278.8 43.4M273.5 102.7L264 92.4 254.5 82.9 245.1 74.2 235.2 66 226 59 216.2 52.5 207.1 47.3 197.6 42.6 188.2 38.8 178.9 35.9 169.8 33.9 160.8 32.7 151.9 32.4 142.8 32.9 134.2 34.2 125.4 36.4M119.9 87.8L130.1 79.4 140.3 71.8 150.4 65 160.9 58.6 170.7 53.2 181 48.4 190.6 44.6 200.6 41.3 210.4 38.8 220.1 37.1 229.7 36.1 239.5 35.9 249.1 36.5 258.6 37.8 267.8 39.8 276.9 42.6M275.5 102L266 91.7 256.5 82.2 247.1 73.5 237.7 65.7 228.4 58.7 219.2 52.5 210.1 47.2 200.6 42.4 191.7 38.8 182.4 35.7 173.2 33.6 164.2 32.3 155.3 31.8 146.1 32.2 137.5 33.4 128.7 35.4M117.9 86.9L128.2 78.5 138.3 70.9 148.4 64.1 158.9 57.7 168.7 52.4 179 47.6 188.6 43.7 198.6 40.5 208.4 38 218.1 36.3 227.7 35.3 237.5 35.1 247.2 35.6 256.6 36.9 265.9 39 274.9 41.8M277.4 101.3L268.5 91.6 259 82 249.6 73.4 240.2 65.5 230.9 58.5 221.7 52.3 212.6 46.9 203.1 42.1 194.2 38.4 184.8 35.3 176.2 33.2 167.1 31.8 158.2 31.2 149.5 31.5 140.9 32.6 132 34.5M116 86L126.2 77.6 136.3 70 146.4 63.2 156.9 56.8 166.7 51.5 177 46.7 186.6 42.9 196.6 39.7 206.5 37.2 216.2 35.5 225.7 34.5 235.5 34.3 245.2 34.8 254.7 36.1 263.9 38.2 273 41M279.4 100.7L270.4 90.9 260.9 81.4 251.5 72.8 242.2 64.9 232.9 57.9 223.7 51.7 214.6 46.3 205.6 41.8 196.6 38 187.3 34.9 178.6 32.7 169.6 31.3 160.6 30.7 151.9 30.9 143.3 32 134.8 33.8M114 85.1L124.2 76.8 134.4 69.2 144.4 62.4 154.9 56 164.8 50.7 175 45.9 184.6 42.1 194.6 38.9 204.5 36.4 214.2 34.7 223.7 33.7 233.6 33.5 243.2 34.1 252.7 35.4 262 37.5 271.1 40.2M281.3 100.1L272.3 90.3 262.9 80.9 254 72.6 244.7 64.8 235.4 57.7 226.2 51.5 217.1 46.1 208 41.5 199.1 37.7 190.3 34.7 181.5 32.4 172.5 30.9 164 30.3 155.2 30.3 146.6 31.2 138.1 32.9M112.1 84.3L122.3 76 132.4 68.4 142.5 61.6 153 55.2 162.8 49.9 173.1 45.2 182.7 41.4 192.7 38.1 202.5 35.7 212.2 34 221.8 33 231.6 32.8 241.3 33.4 250.8 34.7 260 36.7 269.1 39.5M283.2 99.5L274.3 89.8 265.4 80.8 256.5 72.6 247.1 64.7 238.4 57.9 229.2 51.6 220 46.1 211 41.5 202 37.6 193.2 34.5 184.5 32.2 175.9 30.6 167.4 29.8 158.6 29.8 149.9 30.6 141.4 32.1M110.1 83.5L120.3 75.2 130.5 67.6 140.5 60.9 150.5 54.8 160.3 49.5 170.6 44.7 180.2 40.8 190.2 37.6 200.1 35.1 209.8 33.4 219.3 32.4 228.7 32.1 238 32.6 247.5 33.8 256.8 35.7 265.9 38.4M285.1 98.9L276.2 89.2 267.3 80.3 258.4 72.1 249.1 64.2 240.3 57.5 231.1 51.2 222.5 46 213.5 41.2 205 37.5 196.1 34.3 187.4 31.9 178.8 30.3 170.3 29.5 161.4 29.3 153.2 30 144.7 31.4M108.2 82.8L117.9 74.9 128 67.3 138 60.5 148 54.4 157.9 49.1 167.6 44.4 177.2 40.5 187.3 37.2 196.6 34.8 206.4 32.9 216 31.8 225.4 31.5 234.6 31.8 244.2 32.9 253.1 34.7 262.3 37.2M287 98.4L278.1 88.7 269.2 79.8 260.3 71.6 251.5 64.1 242.8 57.4 234.1 51.4 225.5 46.1 216.4 41.3 207.9 37.5 199.1 34.2 190.3 31.8 181.7 30.1 173.2 29.1 164.8 28.9 156.5 29.4 148 30.7M106.3 82.1L115.9 74.2 126 66.6 135.6 60.2 145.5 54.1 155.4 48.7 165.1 44 174.8 40.1 184.3 36.9 193.7 34.4 203.5 32.5 212.6 31.3 222 30.9 231.3 31.1 240.4 32 249.4 33.7 258.2 35.9M288.9 97.9L280.5 88.8 271.7 79.8 262.8 71.6 254 64.1 245.2 57.3 236.5 51.3 227.9 46 218.9 41.1 210.4 37.3 201.5 34 193.3 31.6 184.6 29.8 176.1 28.8 167.7 28.5 159.4 28.9 151.3 30.1M104.3 81.4L114 73.6 123.6 66.4 133.1 59.9 143.1 53.7 152.4 48.6 162.2 43.9 171.8 39.9 181.4 36.6 190.8 34 200 32.1 209.2 30.9 218.7 30.3 227.5 30.4 236.7 31.2 245.7 32.7 254.5 34.9M290.8 97.5L282.4 88.4 273.6 79.4 264.7 71.2 255.9 63.7 247.2 56.9 238.5 50.9 229.8 45.6 221.3 41 212.8 37.1 204.4 34 196.2 31.5 187.5 29.6 179.4 28.6 171 28.1 162.7 28.5 154.5 29.5M102.4 80.8L112.1 72.9 121.7 65.8 131.2 59.3 140.6 53.5 150 48.3 159.7 43.6 168.9 39.7 178.4 36.4 187.3 33.8 196.6 31.8 205.8 30.5 214.8 29.8 223.7 29.8 232.9 30.5 241.5 31.8 250.4 33.7M292.7 97.1L284.3 88 275.5 79 267.1 71.3 258.3 63.7 250.1 57.3 241.4 51.2 232.8 45.8 224.2 41.2 215.8 37.2 207.4 34 199.1 31.4 190.4 29.5 182.3 28.3 173.9 27.8 166 28 157.8 28.9M100.5 80.2L109.6 72.8 119.2 65.6 128.7 59.1 138.2 53.2 147.5 48 156.8 43.5 165.9 39.6 175.5 36.2 184.4 33.6 193.7 31.5 202.4 30.2 211.5 29.4 220.4 29.3 229.2 29.8 237.8 30.9 246.7 32.8M294.6 96.7L286.2 87.6 277.9 79.1 269.6 71.4 260.8 63.8 252.5 57.4 243.8 51.2 235.2 45.8 226.7 41.1 218.2 37.1 209.8 33.8 201.5 31.3 193.3 29.4 185.2 28.1 177.2 27.6 169.3 27.7 161.1 28.4M98.6 79.7L107.7 72.3 117.3 65.1 126.3 58.9 135.7 53 144.5 48.1 153.8 43.5 163 39.5 172 36.2 181 33.5 189.9 31.4 198.6 30 207.7 29.1 216.6 28.8 225.4 29.2 234.1 30.2 242.6 31.8M296.5 96.3L288.1 87.2 279.8 78.8 271.5 71 262.7 63.5 254.4 57.1 245.8 50.9 237.6 45.8 229.1 41.1 221.1 37.3 212.7 33.9 204.4 31.3 196.2 29.3 188.1 28 180.1 27.3 172.2 27.3 163.9 28.1M96.7 79.2L105.8 71.8 114.9 65 123.8 58.8 133.3 52.9 142.1 47.9 151.4 43.3 160 39.5 169.1 36.1 178.1 33.3 187 31.2 195.7 29.7 204.3 28.7 212.8 28.4 221.7 28.6 229.9 29.5 238.4 30.9M298.3 96L290 86.9 281.7 78.5 273.3 70.7 265.1 63.6 256.9 57.2 248.7 51.3 240.6 46.2 232 41.3 224 37.5 215.6 34 207.3 31.3 199.1 29.2 190.9 27.9 182.9 27.1 175 27.1 167.2 27.7M94.8 78.7L103.9 71.3 113 64.5 121.9 58.4 130.8 52.8 139.7 47.8 148.4 43.4 157.1 39.5 166.2 36.1 174.7 33.4 183.6 31.1 191.8 29.6 200.5 28.5 209 28 217.4 28.1 225.7 28.8 234.3 30.1M300.2 95.7L291.9 86.6 283.5 78.2 275.2 70.5 267 63.4 258.7 56.9 250.6 51.1 242.5 45.9 234.4 41.4 226.4 37.5 218 34 210.2 31.4 201.9 29.2 194.3 27.8 186.2 27 178.3 26.8 170.5 27.3M93 78.3L101.5 71.3 110.5 64.5 119.5 58.3 128.4 52.7 137.3 47.7 146 43.2 154.7 39.4 163.3 36 171.8 33.3 180.7 31 189 29.4 197.6 28.2 205.7 27.7 214.1 27.7 222.4 28.3 230.6 29.4M302.1 95.4L294.2 86.9 285.9 78.5 277.6 70.7 269.4 63.6 261.1 57.1 253 51.2 244.9 46 236.8 41.5 228.8 37.5 220.9 34.2 213.1 31.5 204.8 29.3 197.1 27.8 189.1 26.9 181.6 26.6 173.8 27M91.1 77.9L99.6 71 108.1 64.5 116.6 58.7 125.5 53 133.8 48.2 142.6 43.6 151.3 39.7 159.9 36.3 168.4 33.4 176.8 31.1 185.1 29.4 193.8 28.1 201.9 27.5 210.4 27.4 218.2 27.8 226.4 28.7M303.9 95.1L296.1 86.7 287.8 78.3 280 71 271.7 63.8 264 57.7 255.9 51.8 247.8 46.5 239.7 41.8 231.7 37.8 223.8 34.4 215.9 31.6 208.2 29.5 200.5 27.9 192.4 26.9 184.9 26.5 177.1 26.7M89.2 77.5L97.8 70.6 106.3 64.2 114.7 58.4 123.1 53 131.4 48.2 140.2 43.6 148.3 39.8 157 36.4 165 33.6 173.4 31.2 181.7 29.4 190 28.1 198.1 27.3 206.1 27.1 214 27.3 222.3 28.1M305.7 94.9L297.9 86.5 290.1 78.6 282.4 71.3 274.1 64.1 266.4 57.9 258.3 52 250.7 47 242.6 42.2 235.1 38.4 227.2 34.9 219.3 32 211.5 29.7 203.8 28 196.2 26.9 188.7 26.4 180.8 26.5M87.4 77.2L95.4 70.7 103.9 64.3 112.3 58.4 120.7 53 129 48.2 137.3 43.8 145.4 40 154.1 36.5 162.1 33.7 170.5 31.2 178.4 29.4 186.6 28 194.3 27.2 202.3 26.8 210.3 27 218.1 27.6M307.6 94.7L299.8 86.3 292 78.4 284.2 71.1 276 63.9 268.3 57.8 260.6 52.2 253 47.2 245 42.4 237.5 38.5 229.5 35 222.2 32.2 214.4 29.9 206.7 28.1 199 26.9 191.5 26.4 184.1 26.3M85.5 77L93.5 70.5 102 64.1 109.9 58.5 118.3 53.1 126.1 48.5 134.4 44.1 142.5 40.2 150.7 36.9 158.7 34 166.7 31.6 174.5 29.6 182.8 28.1 190.5 27.2 198.6 26.7 206.1 26.7 213.9 27.2M309.4 94.6L301.6 86.2 293.8 78.3 286.1 71 278.3 64.2 270.7 58.1 263 52.5 255.4 47.4 247.9 42.9 240.3 38.9 232.4 35.3 225 32.5 217.2 30.1 210 28.3 202.4 27.1 194.8 26.4 187.3 26.2M83.7 76.7L91.7 70.3 99.6 64.2 107.5 58.7 115.9 53.3 123.7 48.6 132 44.2 139.6 40.5 147.8 37.1 155.3 34.3 163.3 31.8 171.2 29.8 179 28.3 186.7 27.2 194.3 26.6 201.8 26.5 209.7 26.8M311.2 94.5L303.9 86.6 296.2 78.7 288.4 71.4 280.7 64.6 273 58.4 265.4 52.7 257.8 47.7 250.2 43.1 242.7 39.1 235.3 35.7 227.9 32.8 220.1 30.3 212.8 28.5 205.2 27.1 198.1 26.4 190.6 26.2M81.9 76.5L89.8 70.1 97.8 64.1 105.7 58.5 113.5 53.4 121.3 48.8 129.1 44.6 136.8 40.9 144.9 37.3 152.4 34.5 160.4 32 167.8 30 175.6 28.4 182.9 27.3 190.5 26.6 198.1 26.3 205.5 26.5M313 94.4L305.7 86.5 298 78.6 290.8 71.8 283.1 65 275.9 59.1 268.2 53.4 260.6 48.3 253.1 43.7 245.6 39.6 238.1 36.1 230.7 33.1 223.4 30.7 216.1 28.8 208.5 27.3 201.4 26.5 193.9 26.2M80 76.4L87.5 70.3 95.4 64.3 103.3 58.7 111.2 53.6 118.4 49.3 126.2 45 133.9 41.2 141.5 37.9 149.1 34.9 156.6 32.5 164 30.4 171.8 28.7 179.1 27.5 186.8 26.6 193.9 26.3 201.4 26.3M314.8 94.3L307.5 86.5 299.8 78.6 292.6 71.7 284.9 65 277.7 59.1 270.1 53.4 263 48.6 255.4 44 248.4 40.1 241 36.6 233.6 33.5 226.2 31 219 29 211.8 27.6 204.7 26.7 197.2 26.2M78.2 76.3L85.7 70.2 93.6 64.2 101 59 108.8 53.9 116.1 49.5 123.8 45.2 131 41.6 138.6 38.2 145.7 35.4 153.2 32.9 160.6 30.7 168 29 175.3 27.7 182.5 26.8 189.6 26.3 197.2 26.2M316.6 94.3L309.3 86.4 302.1 79.1 294.9 72.2 287.2 65.4 280.1 59.5 272.4 53.8 265.3 49 257.8 44.3 250.8 40.4 243.3 36.8 236.4 33.9 229.1 31.4 221.8 29.3 214.6 27.8 207.5 26.8 200.4 26.3M76.4 76.2L91.2 64.5 98.6 59.3 105.9 54.5 113.2 50 120.4 46 127.6 42.3 135.3 38.8 142.3 36 149.9 33.3 156.8 31.2 164.2 29.4 171.5 28 178.7 27 185.9 26.4 193 26.2M318.4 94.3L311.1 86.4 303.9 79.1 296.7 72.2 289.5 65.9 282.4 60 275.3 54.6 268.2 49.7 260.6 44.9 253.6 41 246.2 37.3 239.2 34.4 231.9 31.8 225.1 29.8 217.9 28.1 210.7 27 203.7 26.4M74.6 76.2L88.9 64.9 96.3 59.7 103.6 54.8 110.9 50.3 118.1 46.3 125.3 42.6 132.4 39.3 139.5 36.4 146.5 33.8 153.5 31.7 160.9 29.7 167.7 28.3 175 27.2 181.7 26.5 188.8 26.2M320.1 94.3L313.4 87 306.2 79.6 299 72.8 291.8 66.4 284.7 60.5 277.6 55 270.5 50.1 263.4 45.6 256.4 41.6 249.5 38.1 242.6 35.1 235.2 32.3 228.4 30.3 221.2 28.5 214.5 27.4 207.4 26.7M72.8 76.1L87.1 64.9 101.3 55.2 115.2 46.9 122.4 43.1 129.6 39.8 136.1 37 143.2 34.4 150.2 32.1 157.1 30.3 163.9 28.7 170.7 27.6 177.4 26.8 184.5 26.3M321.9 94.3L315.2 87.1 308 79.7 300.8 72.8 293.6 66.5 287 61 279.9 55.5 272.8 50.5 265.8 46.1 258.8 42 251.8 38.5 244.9 35.4 238 32.8 231.2 30.7 224.5 29 217.8 27.7 210.7 26.9M71.1 76.2L84.8 65.4 98.9 55.6 112.4 47.5 126.2 40.5 132.8 37.7 139.8 35 146.3 32.8 153.3 30.8 159.6 29.3 166.4 28.1 173.2 27.1 179.9 26.6M323.6 94.4L317 87.2 309.8 79.8 303.1 73.4 295.9 67 289.3 61.5 282.2 56 275.6 51.4 268.6 46.8 262.1 43 255.1 39.4 248.2 36.2 241.3 33.5 234.5 31.2 227.7 29.5 221 28.1 213.9 27.2M69.3 76.2L82.5 65.8 96.1 56.3 109.6 48.2 122.9 41.4 136 35.9 142.5 33.6 149.5 31.5 155.8 29.9 162.7 28.5 169 27.5 175.7 26.8M325.4 94.5L312 80.4 305.4 74 298.2 67.6 291.6 62.1 284.5 56.6 277.9 51.9 270.9 47.3 264.4 43.5 257.4 39.8 250.5 36.6 243.6 33.9 237.3 31.7 230.5 29.9 223.8 28.5 217.2 27.5M67.5 76.4L80.7 65.9 93.8 56.8 106.7 48.9 120 42 133.2 36.4 146.2 32.1 158.9 29 171.4 27.2M327.1 94.6L313.8 80.6 300.5 68.2 293.9 62.7 287.3 57.5 280.7 52.8 273.7 48.1 267.2 44.2 260.2 40.5 253.8 37.5 246.9 34.6 240.6 32.4 233.8 30.5 227.1 29 220.4 27.9M65.8 76.5L78.4 66.5 91.5 57.3 103.9 49.7 116.7 42.9 129.4 37.4 142.4 32.8 154.6 29.7 167.2 27.7M328.9 94.8L315.5 80.8 302.3 68.4 295.7 62.9 289.1 57.7 282.5 53 276 48.7 269.5 44.7 263 41.2 256.6 38.1 249.7 35.2 243.3 33 237 31.1 230.8 29.6 224.1 28.4M64 76.7L76.6 66.7 89.2 57.9 101.6 50.2 113.9 43.6 126.1 38.2 138.6 33.7 150.4 30.5 162.5 28.2M330.6 95L317.8 81.5 304.5 69.1 291.9 58.7 285.3 53.9 278.8 49.6 272.3 45.6 265.8 42 259.4 38.8 253 36.1 246.6 33.7 240.3 31.7 234 30.2 227.4 28.9M62.3 76.9L74.4 67.3 86.4 58.8 98.3 51.3 110.6 44.6 122.8 39.1 134.8 34.6 146.6 31.2 158.3 28.9M332.3 95.2L319.5 81.7 306.8 69.8 294.1 59.4 287.6 54.6 281 50.2 275 46.5 268.6 42.8 262.1 39.6 255.7 36.8 249.4 34.4 243.1 32.3 236.8 30.7 230.6 29.4M60.6 77.1L72.1 68 84.1 59.4 95.5 52.2 107.3 45.7 119 40.2 130.5 35.7 141.9 32.2 153.6 29.6M334 95.4L321.8 82.5 309 70.5 296.4 60.1 283.8 51.1 277.8 47.4 271.3 43.7 265.4 40.6 259 37.7 253.1 35.4 246.8 33.2 240.5 31.5 234.3 30.1M58.8 77.4L70.4 68.3 81.8 60.1 93.2 52.8 104.5 46.5 115.7 41.2 127.2 36.6 138.1 33.1 149.4 30.4M335.7 95.7L323.5 82.8 311.3 71.3 299.1 61.2 286.6 52.1 280.6 48.3 274.1 44.6 268.1 41.5 261.7 38.5 255.9 36.1 249.5 33.9 243.7 32.2 237.5 30.7M57.1 77.7L68.1 69 79.1 61.1 89.9 54.1 101.2 47.7 111.9 42.5 123 37.9 133.9 34.2 144.7 31.4M337.4 96L325.2 83.1 313 71.6 300.9 61.5 288.8 52.8 276.8 45.5 270.9 42.3 264.5 39.3 252.8 34.7 247 33 240.7 31.4M55.4 78.1L65.9 69.8 76.8 61.8 87.2 55.1 97.9 48.9 108.6 43.6 119.2 39 129.6 35.3 140.5 32.4M339.1 96.3L327.4 84 315.2 72.4 303.6 62.7 291.5 53.9 279.6 46.4 267.7 40.4 256 35.6 250.2 33.8 244.4 32.2M53.7 78.5L64.2 70.2 74.6 62.6 84.9 55.9 95.2 49.9 105.4 44.7 115.4 40.3 125.4 36.6 135.8 33.5M340.8 96.7L329.1 84.3 317.4 73.3 305.8 63.5 294.3 55 282.8 47.7 270.9 41.5 259.2 36.6 253.4 34.6 247.6 33M52 78.9L62 71 71.8 63.8 81.7 57.3 91.9 51.2 101.6 46.1 111.7 41.6 121.2 37.9 131.1 34.8M342.4 97.1L331.3 85.3 319.6 74.1 308.5 64.7 297 56.1 285.5 48.7 274.2 42.6 262.9 37.8 257.1 35.7 251.3 34M50.4 79.4L59.8 71.9 69.6 64.6 78.9 58.4 88.7 52.6 98.3 47.4 107.9 42.9 117.4 39.1 126.8 36M344.1 97.5L332.9 85.7 321.8 75 310.7 65.6 299.2 56.9 288.2 49.8 276.9 43.6 265.6 38.6 254.5 34.9M48.7 79.9L57.6 72.8 66.9 65.9 76.2 59.6 85.4 54 94.6 48.9 103.7 44.6 112.7 40.8 122.1 37.4M345.7 97.9L335.1 86.6 324 76 312.9 66.4 301.9 58.1 291 50.9 280.1 44.8 269.3 39.9 258.2 35.9M47 80.4L55.9 73.3 64.7 66.8 73.5 60.8 82.2 55.4 90.9 50.6 100 46 108.5 42.3 117.4 39M347.4 98.4L336.8 87.1 325.7 76.5 315.1 67.4 304.1 59 293.7 52 282.8 45.9 272 40.8 261.3 36.9M45.4 80.9L53.7 74.3 62 68.1 70.2 62.4 79 56.9 87.1 52.3 95.7 47.8 104.3 44 112.8 40.6M349 98.9L338.4 87.6 327.8 77.4 317.3 68.3 306.8 60.2 296.3 53.2 286 47.2 275.7 42.2 265 38.1M43.7 81.5L51.5 75.3 59.8 69.1 67.5 63.7 75.8 58.5 83.9 53.7 92 49.5 100.1 45.7 108.1 42.4M350.6 99.4L340.6 88.7 330 78.4 320 69.7 309.5 61.5 299 54.4 288.7 48.3 278.4 43.2 268.2 39.2M42.1 82.2L49.9 75.9 57.6 70.1 65.4 64.7 73.1 59.7 80.7 55.2 88.3 51.1 95.9 47.5 103.4 44.2" stroke="#000" stroke-opacity="0.65" stroke-width="0.6" fill="none"/>
<path d="M196.9 152.1L186.5 140.5 176.3 129.9 166.1 120.2 156.1 111.5 146.1 103.8 135.9 96.8 126.3 91.1 116.4 86.1 106.6 82.2 97.1 79.3 87.7 77.3 78.2 76.3 68.9 76.3 59.9 77.2 51 79.2 42.1 82.2M196.9 152.1L207.3 143.1 217.5 134.9 227.6 127.4 237.7 120.8 247.5 114.9 257.7 109.5 267.2 105.2 277 101.5 286.7 98.5 296.1 96.4 305.4 95 314.8 94.3 324 94.4 333 95.3 341.8 96.9 350.6 99.4M350.6 99.4L340.6 88.7 330.1 78.5 320.1 69.8 309.7 61.6 299.3 54.6 289 48.5 278.8 43.4 268.4 39.2M42.1 82.2L49.6 76.2 57.4 70.2 64.9 65 72.6 60 80.4 55.4 88.1 51.2 95.8 47.5 103.4 44.2" stroke="#111" stroke-opacity="0.85" stroke-width="0.8" fill="none"/>
<path d="M48 379.1L198.5 346.3M198.5 346.3L347.9 379M46.6 359.6L198.5 328.7M198.5 328.7L349.3 359.5M45.1 339.7L198.5 310.8M198.5 310.8L350.7 339.6M43.6 319.4L198.5 292.7M198.5 292.7L352.2 319.4M42.1 298.7L198.4 274.2M198.4 274.2L353.6 298.8M40.5 277.6L198.4 255.3M198.4 255.3L355.1 277.7M80 272.1L85.7 370.9M237.6 260.9L235.9 354.5M119.4 266.5L123.3 362.7M276.8 266.5L273.2 362.6M158.9 260.9L160.9 354.5M316 272.1L310.6 370.8M198.5 346.3L198.4 255.3M50.4 411.7L40.5 277.6M345.6 411.5L355.1 277.7" stroke="#444" stroke-width="0.8" fill="none"/>
<path d="M50.4 411.7L197.7 457.6 345.6 411.5 198.6 375.7Z" fill="#ffff00" stroke="#555" stroke-width="0.7"/>
<path d="M167.2 447.6L206.5 452.7" stroke="#29c16d" stroke-width="0.6" fill="none"/>
<path d="M126.2 435.1L178.1 442.1 227.2 447.6" stroke="#39c028" stroke-width="0.6" fill="none"/>
<path d="M79.3 420.6L124.5 427.6 169.8 433.5 209.8 437.7 251.4 440.8M341.9 411.3L338.9 409.9" stroke="#98cb33" stroke-width="0.6" fill="none"/>
<path d="M61.7 409.5L97.4 415.4 133.4 420.5 168.4 424.5 200.9 427.3 229.1 428.8 255.9 429.2 269.1 428.8 277.4 428.2 284.9 427.3 291.4 426.1 296.7 424.7 300.6 423 303 421 303.7 420 304.1 417.8 303.2 415.5 300 412.1 295.2 408.9 289.4 405.8 280.9 402 272.4 398.7 250.8 391.7 224.4 384.6 193.7 377.4" stroke="#c9a731" stroke-width="0.6" fill="none"/>
<path d="M85.8 403.5L107.8 406.6 129.8 409.3 149.9 411.3 169.6 412.7 187.1 413.3 201.5 413.2 213 412.5 222.4 410.9 227.3 409.1 228.7 408 229.7 406.3 229.5 405.1 228.4 403.2 226.5 401.4 223.1 399.2 215.1 395.3 203.3 391 189 386.6 172.7 382.4" stroke="#b43e1c" stroke-width="0.6" fill="none"/>
<path d="M198.4 277.6L126 267.9 43.1 304.2 79.1 318.3 116.7 334.9 156.1 354 197.6 375.9 217.7 357.2 227.9 348.8 239.1 340.4 248.3 334.1 258.7 327.7 268.7 322.4 278.4 317.9 287.9 314.2 297.3 311.3 306.6 309.1 315.9 307.7 325.2 307 334.6 307.2 344.2 308.2 352.5 310 311.6 298.8 273.7 290.1 236.1 283 199 277.7Z" fill="#23efe3" stroke="#23efe3" stroke-width="0.6" stroke-linejoin="round"/>
<path d="M198.4 277.6L126 267.9 43.1 304.2 77.5 317.6 112.7 333 153.8 352.8 194 374 197.1 374.7 199.5 374 210.7 363.5 221.2 354.3 231.1 346.3 242.2 338.2 251.3 332.2 261.6 326.1 270.1 321.7 279.8 317.3 289.3 313.7 298.6 310.9 307.9 308.8 317.2 307.5 326.5 307 334.6 307.2 344.2 308.2 352.5 310 311.6 298.8 273.7 290.1 236.1 283 199 277.7Z" fill="#23efdb" stroke="#23efdb" stroke-width="0.6" stroke-linejoin="round"/>
<path d="M198.4 277.6L126 267.9 43.1 304.2 77.5 317.6 112.7 333 145.2 348.5 190.4 372.1 193.6 373.1 199.4 373.7 222.9 352.9 232.8 345 242.2 338.2 252.8 331.2 263 325.3 272.9 320.3 282.5 316.2 291.9 312.8 301.3 310.2 310.6 308.4 318.5 307.4 327.8 307 335.9 307.3 344.2 308.2 352.5 310 311.6 298.8 273.7 290.1 236.1 283 199 277.7Z" fill="#23efd3" stroke="#23efd3" stroke-width="0.6" stroke-linejoin="round"/>
<path d="M198.4 277.6L126 267.9 43.1 304.2 76.7 317.3 111.4 332.4 145.2 348.5 187 370.2 190.2 371.5 198.8 372.4 201.4 372.1 212.5 361.9 222.9 352.9 232.8 345 243.8 337.1 254.3 330.3 264.4 324.6 274.3 319.7 283.8 315.7 291.9 312.8 301.3 310.2 310.6 308.4 318.5 307.4 327.8 307 335.9 307.3 344.2 308.2 352.5 310 311.6 298.8 273.7 290.1 236.1 283 199 277.7Z" fill="#23efcb" stroke="#23efcb" stroke-width="0.6" stroke-linejoin="round"/>
<path d="M198.4 277.6L126 267.9 43.1 304.2 76.7 317.3 111.4 332.4 145.2 348.5 186.9 369.9 201 371.4 203.3 370.3 214.2 360.3 224.5 351.5 234.4 343.8 245.3 336.1 255.8 329.4 265.8 323.8 275.6 319.1 286.6 314.7 295.9 311.6 303.9 309.6 311.9 308.2 319.8 307.3 327.8 307 335.9 307.3 344.2 308.2 352.5 310 311.6 298.8 273.7 290.1 236.1 283 199 277.7Z" fill="#23efc3" stroke="#23efc3" stroke-width="0.6" stroke-linejoin="round"/>
<path d="M198.4 277.6L126 267.9 43.1 304.2 76.7 317.3 111.4 332.4 147.2 349.5 183.7 368.4 203.3 370.3 214.2 360.3 224.5 351.5 236 342.6 246.8 335.1 257.2 328.6 267.3 323.1 277 318.5 287.9 314.2 297.3 311.3 305.2 309.3 313.2 308 321.2 307.2 329.2 307 337.3 307.4 345.5 308.5 352.5 310 311.6 298.8 273.7 290.1 236.1 283 199 277.7Z" fill="#22eebb" stroke="#22eebb" stroke-width="0.6" stroke-linejoin="round"/>
<path d="M198.4 277.6L126 267.9 43.1 304.2 73.6 316 105.3 329.6 143.2 347.5 180.5 366.7 183.2 367.1 202.6 369 205.2 368.6 216 358.7 226.2 350.2 237.5 341.5 248.3 334.1 258.7 327.7 268.7 322.4 278.4 317.9 289.3 313.7 297.3 311.3 305.2 309.3 313.2 308 321.2 307.2 329.2 307 337.3 307.4 345.5 308.5 352.5 310 311.6 298.8 273.7 290.1 236.1 283 199 277.7Z" fill="#22eeb3" stroke="#22eeb3" stroke-width="0.6" stroke-linejoin="round"/>
<path d="M198.4 277.6L126 267.9 43.1 304.2 72.8 315.7 104.1 329.1 141.2 346.5 177.4 365.1 180.1 365.5 204.9 368 207 366.8 217.7 357.2 229.5 347.5 239.1 340.4 249.8 333.1 260.1 326.9 271.5 321 281.1 316.7 291.9 312.8 299.9 310.6 307.9 308.8 322.5 307.1 330.5 307 337.3 307.4 345.5 308.5 352.5 310 311.6 298.8 273.7 290.1 236.1 283 199 277.7Z" fill="#22eeac" stroke="#22eeac" stroke-width="0.6" stroke-linejoin="round"/>
<path d="M198.4 277.6L126 267.9 43.1 304.2 72.8 315.7 103 328.6 137.4 344.7 174.4 363.5 177 364 207 366.8 217.7 357.2 229.5 347.5 240.7 339.3 251.3 332.2 261.6 326.1 272.9 320.3 282.5 316.2 293.3 312.4 301.3 310.2 309.2 308.6 323.8 307.1 331.9 307 338.7 307.5 352.5 310 311.6 298.8 273.7 290.1 236.1 283 199 277.7Z" fill="#22eea4" stroke="#22eea4" stroke-width="0.6" stroke-linejoin="round"/>
<path d="M198.4 277.6L126 267.9 43.1 304.2 72.1 315.4 101.9 328.1 135.6 343.8 171.6 362 174.1 362.5 206.3 365.6 208.9 365.1 219.5 355.7 231.1 346.3 242.2 338.2 252.8 331.2 263 325.3 274.3 319.7 283.8 315.7 294.6 312 309.2 308.6 323.8 307.1 331.9 307 338.7 307.5 352.5 310 311.6 298.8 273.7 290.1 236.1 283 199 277.7Z" fill="#21ed9c" stroke="#21ed9c" stroke-width="0.6" stroke-linejoin="round"/>
<path d="M198.4 277.6L126 267.9 43.1 304.2 71.3 315.1 99.7 327.1 133.8 342.9 168.8 360.5 171.2 361 208.5 364.6 210.7 363.5 222.9 352.9 234.4 343.8 243.8 337.1 254.3 330.3 264.4 324.6 275.6 319.1 285.2 315.2 295.9 311.6 310.6 308.4 325.2 307 338.7 307.5 352.5 310 311.6 298.8 273.7 290.1 236.1 283 199 277.7Z" fill="#21ed94" stroke="#21ed94" stroke-width="0.6" stroke-linejoin="round"/>
<path d="M198.4 277.6L126 267.9 43.1 304.2 70.6 314.8 98.6 326.7 132.1 342.1 166.1 359.1 168.4 359.4 210.7 363.5 229.5 347.5 239.1 340.4 248.3 334.1 265.8 323.8 274.3 319.7 283.8 315.7 291.9 312.8 301.3 310.2 310.6 308.4 318.5 307.4 327.8 307 335.9 307.3 344.2 308.2 352.5 310 311.6 298.8 273.7 290.1 236.1 283 199 277.7Z" fill="#21ed8c" stroke="#21ed8c" stroke-width="0.6" stroke-linejoin="round"/>
<path d="M198.4 277.6L126 267.9 43.1 304.2 72.1 315.4 101.9 328.1 132.1 342.1 163.5 357.7 209.9 362.2 212.5 361.9 231.1 346.3 240.7 339.3 249.8 333.1 267.3 323.1 275.6 319.1 285.2 315.2 294.6 312 302.6 309.9 311.9 308.2 319.8 307.3 327.8 307 335.9 307.3 344.2 308.2 352.5 310 311.6 298.8 273.7 290.1 236.1 283 199 277.7Z" fill="#21ed84" stroke="#21ed84" stroke-width="0.6" stroke-linejoin="round"/>
<path d="M198.4 277.6L126 267.9 43.1 304.2 70.6 314.8 98.6 326.7 127.1 339.7 160.9 356.2 212 361.1 214.2 360.3 232.8 345 251.3 332.2 268.7 322.4 277 318.5 286.6 314.7 295.9 311.6 303.9 309.6 311.9 308.2 319.8 307.3 327.8 307 335.9 307.3 344.2 308.2 352.5 310 311.6 298.8 273.7 290.1 236.1 283 199 277.7Z" fill="#21ed7c" stroke="#21ed7c" stroke-width="0.6" stroke-linejoin="round"/>
<path d="M198.4 277.6L126 267.9 43.1 304.2 69.1 314.2 96.5 325.7 121 336.8 156.1 354 158.4 354.7 214.1 360 234.4 343.8 251.3 332.2 268.7 322.4 277 318.5 286.6 314.7 295.9 311.6 303.9 309.6 311.9 308.2 319.8 307.3 327.8 307 335.9 307.3 344.2 308.2 352.5 310 311.6 298.8 273.7 290.1 236.1 283 199 277.7Z" fill="#20ec75" stroke="#20ec75" stroke-width="0.6" stroke-linejoin="round"/>
<path d="M198.4 277.6L126 267.9 43.1 304.2 67.7 313.6 93.5 324.4 124 338.3 153.8 352.8 155.9 353.3 196.3 357.2 216 358.7 234.4 343.8 251.3 332.2 268.7 322.4 277 318.5 286.6 314.7 295.9 311.6 303.9 309.6 311.9 308.2 319.8 307.3 327.8 307 335.9 307.3 344.2 308.2 352.5 310 311.6 298.8 273.7 290.1 236.1 283 199 277.7Z" fill="#20ec6d" stroke="#20ec6d" stroke-width="0.6" stroke-linejoin="round"/>
<path d="M198.4 277.6L126 267.9 43.1 304.2 69.1 314.2 95.5 325.3 122.5 337.5 151.5 351.6 212.2 357.4 215.2 357.6 217.7 357.2 236 342.6 252.8 331.2 270.1 321.7 278.4 317.9 287.9 314.2 297.3 311.3 305.2 309.3 313.2 308 321.2 307.2 329.2 307 337.3 307.4 345.5 308.5 352.5 310 311.6 298.8 273.7 290.1 236.1 283 199 277.7Z" fill="#20ec65" stroke="#20ec65" stroke-width="0.6" stroke-linejoin="round"/>
<path d="M198.4 277.6L126 267.9 43.1 304.2 67 313.4 91.5 323.6 119.6 336.2 147.2 349.5 149.3 350.1 217.2 356.5 219.5 355.7 237.5 341.5 255.8 329.4 272.9 320.3 289.3 313.7 297.3 311.3 305.2 309.3 313.2 308 321.2 307.2 329.2 307 337.3 307.4 345.5 308.5 352.5 310 311.6 298.8 273.7 290.1 236.1 283 199 277.7Z" fill="#20ec5d" stroke="#20ec5d" stroke-width="0.6" stroke-linejoin="round"/>
<path d="M198.4 277.6L126 267.9 43.1 304.2 67.7 313.6 92.5 324 118.1 335.5 145.2 348.5 219.2 355.4 221.2 354.3 239.1 340.4 255.8 329.4 272.9 320.3 289.3 313.7 297.3 311.3 305.2 309.3 313.2 308 321.2 307.2 329.2 307 337.3 307.4 345.5 308.5 352.5 310 311.6 298.8 273.7 290.1 236.1 283 199 277.7Z" fill="#1feb55" stroke="#1feb55" stroke-width="0.6" stroke-linejoin="round"/>
<path d="M198.4 277.6L126 267.9 43.1 304.2 65.6 312.8 88.7 322.3 114 333.6 141.2 346.5 143.1 347.1 221.2 354.3 239.1 340.4 255.8 329.4 272.9 320.3 289.3 313.7 297.3 311.3 305.2 309.3 313.2 308 321.2 307.2 329.2 307 337.3 307.4 345.5 308.5 352.5 310 311.6 298.8 273.7 290.1 236.1 283 199 277.7Z" fill="#1feb4d" stroke="#1feb4d" stroke-width="0.6" stroke-linejoin="round"/>
<path d="M198.4 277.6L126 267.9 43.1 304.2 65.6 312.8 88.7 322.3 111.4 332.4 139.3 345.4 190 350.4 222.9 352.9 240.7 339.3 257.2 328.6 274.3 319.7 290.6 313.3 298.6 310.9 306.6 309.1 314.5 307.8 322.5 307.1 330.5 307 337.3 307.4 345.5 308.5 352.5 310 311.6 298.8 273.7 290.1 236.1 283 199 277.7Z" fill="#1feb45" stroke="#1feb45" stroke-width="0.6" stroke-linejoin="round"/>
<path d="M198.4 277.6L126 267.9 43.1 304.2 63.5 312 84.2 320.4 110.2 331.8 135.6 343.8 137.4 344 196.9 349.8 222 351.8 224.5 351.5 242.2 338.2 258.7 327.7 274.3 319.7 290.6 313.3 298.6 310.9 306.6 309.1 314.5 307.8 322.5 307.1 330.5 307 337.3 307.4 345.5 308.5 352.5 310 311.6 298.8 273.7 290.1 236.1 283 199 277.7Z" fill="#1feb3d" stroke="#1feb3d" stroke-width="0.6" stroke-linejoin="round"/>
<path d="M198.4 277.6L126 267.9 43.1 304.2 62.8 311.7 83.3 320.1 107.7 330.7 132.1 342.1 133.8 342.4 179.1 346.9 223.8 350.7 226.2 350.2 243.8 337.1 261.6 326.1 277 318.5 291.9 312.8 299.9 310.6 307.9 308.8 322.5 307.1 330.5 307 337.3 307.4 345.5 308.5 352.5 310 311.6 298.8 273.7 290.1 236.1 283 199 277.7Z" fill="#1feb36" stroke="#1feb36" stroke-width="0.6" stroke-linejoin="round"/>
<path d="M198.4 277.6L126 267.9 43.1 304.2 62.8 311.7 82.5 319.7 105.3 329.6 128.8 340.5 130.4 340.9 178.5 345.6 225.7 349.5 227.9 348.8 245.3 336.1 261.6 326.1 277 318.5 291.9 312.8 299.9 310.6 307.9 308.8 322.5 307.1 330.5 307 337.3 307.4 345.5 308.5 352.5 310 311.6 298.8 273.7 290.1 236.1 283 199 277.7Z" fill="#1eea2e" stroke="#1eea2e" stroke-width="0.6" stroke-linejoin="round"/>
<path d="M198.4 277.6L126 267.9 43.1 304.2 80.8 319 103 328.6 125.6 339 127.1 339.3 177.9 344.3 227.4 348.4 229.5 347.5 239.1 340.4 248.3 334.1 263 325.3 278.4 317.9 293.3 312.4 301.3 310.2 309.2 308.6 323.8 307.1 331.9 307 338.7 307.5 352.5 310 311.6 298.8 273.7 290.1 236.1 283 199 277.7Z" fill="#1eea26" stroke="#1eea26" stroke-width="0.6" stroke-linejoin="round"/>
<path d="M198.4 277.6L126 267.9 43.1 304.2 78.3 318 99.7 327.1 122.5 337.5 124 337.8 177.2 343 229.2 347.2 231.1 346.3 248.3 334.1 263 325.3 278.4 317.9 293.3 312.4 301.3 310.2 309.2 308.6 323.8 307.1 331.9 307 338.7 307.5 352.5 310 311.6 298.8 273.7 290.1 236.1 283 199 277.7Z" fill="#1eea1e" stroke="#1eea1e" stroke-width="0.6" stroke-linejoin="round"/>
<path d="M198.4 277.6L126 267.9 43.1 304.2 79.9 318.6 119.6 336.1 176.6 341.7 230.9 346 249.8 333.1 264.4 324.6 279.8 317.3 294.6 312 309.2 308.6 323.8 307.1 331.9 307 338.7 307.5 352.5 310 311.6 298.8 273.7 290.1 236.1 283 199 277.7Z" fill="#27eb1f" stroke="#27eb1f" stroke-width="0.6" stroke-linejoin="round"/>
<path d="M198.4 277.6L126 267.9 43.1 304.2 76.7 317.3 116.8 334.6 176 340.4 232.6 344.8 249.8 333.1 264.4 324.6 279.8 317.3 294.6 312 309.2 308.6 323.8 307.1 331.9 307 338.7 307.5 352.5 310 311.6 298.8 273.7 290.1 236.1 283 199 277.7Z" fill="#2feb1f" stroke="#2feb1f" stroke-width="0.6" stroke-linejoin="round"/>
<path d="M198.4 277.6L126 267.9 43.1 304.2 76.7 317.3 112.7 333 175.3 339.1 234.2 343.6 251.3 332.2 265.8 323.8 281.1 316.7 295.9 311.6 310.6 308.4 325.2 307 338.7 307.5 352.5 310 311.6 298.8 273.7 290.1 236.1 283 199 277.7Z" fill="#38ec20" stroke="#38ec20" stroke-width="0.6" stroke-linejoin="round"/>
<path d="M198.4 277.6L126 267.9 43.1 304.2 72.1 315.4 108.9 331.3 110.2 331.5 174.7 337.8 235.7 342.4 252.8 331.2 267.3 323.1 282.5 316.2 297.3 311.3 311.9 308.2 325.2 307 338.7 307.5 352.5 310 311.6 298.8 273.7 290.1 236.1 283 199 277.7Z" fill="#40ec20" stroke="#40ec20" stroke-width="0.6" stroke-linejoin="round"/>
<path d="M198.4 277.6L126 267.9 43.1 304.2 70.6 314.8 105.3 329.6 106.5 329.9 174.1 336.5 237.3 341.2 239.1 340.4 255.8 329.4 268.7 322.4 282.5 316.2 297.3 311.3 311.9 308.2 325.2 307 338.7 307.5 352.5 310 311.6 298.8 273.7 290.1 236.1 283 199 277.7Z" fill="#49ed21" stroke="#49ed21" stroke-width="0.6" stroke-linejoin="round"/>
<path d="M198.4 277.6L126 267.9 43.1 304.2 68.4 313.9 101.9 328.1 103.1 328.3 173.4 335.2 238.7 340 240.7 339.3 257.2 328.6 270.1 321.7 283.8 315.7 298.6 310.9 313.2 308 326.5 307 340 307.7 352.5 310 311.6 298.8 273.7 290.1 236.1 283 199 277.7Z" fill="#52ee22" stroke="#52ee22" stroke-width="0.6" stroke-linejoin="round"/>
<path d="M198.4 277.6L126 267.9 43.1 304.2 69.8 314.5 98.6 326.6 170.7 333.7 240.1 338.8 242.2 338.2 257.2 328.6 272.9 320.3 286.6 314.7 299.9 310.6 313.2 308 326.5 307 340 307.7 352.5 310 311.6 298.8 273.7 290.1 236.1 283 199 277.7Z" fill="#5aee22" stroke="#5aee22" stroke-width="0.6" stroke-linejoin="round"/>
<path d="M198.4 277.6L126 267.9 43.1 304.2 65.6 312.8 95.5 325.1 170.1 332.4 205.6 335.2 241.4 337.5 243.8 337.1 258.7 327.7 274.3 319.7 286.6 314.7 299.9 310.6 313.2 308 326.5 307 340 307.7 352.5 310 311.6 298.8 273.7 290.1 236.1 283 199 277.7Z" fill="#63ef23" stroke="#63ef23" stroke-width="0.6" stroke-linejoin="round"/>
<path d="M198.4 277.6L126 267.9 43.1 304.2 64.9 312.5 91.6 323.4 131.1 327.6 169.5 331.1 206.9 334 242.7 336.3 245.3 336.1 260.1 326.9 275.6 319.1 287.9 314.2 301.3 310.2 314.5 307.8 327.8 307 340 307.7 352.5 310 311.6 298.8 273.7 290.1 236.1 283 199 277.7Z" fill="#6cef23" stroke="#6cef23" stroke-width="0.6" stroke-linejoin="round"/>
<path d="M198.4 277.6L126 267.9 43.1 304.2 62.8 311.7 87.8 321.8 129.6 326.2 170.7 330 210.6 333 246.8 335.1 260.1 326.9 274.3 319.7 287.9 314.2 301.3 310.2 314.5 307.8 327.8 307 340 307.7 352.5 310 311.6 298.8 273.7 290.1 236.1 283 199 277.7Z" fill="#74f024" stroke="#74f024" stroke-width="0.6" stroke-linejoin="round"/>
<path d="M198.4 277.6L126 267.9 43.1 304.2 84.3 320.2 126.8 324.7 168.2 328.5 209.3 331.6 248 333.8 249.8 333.1 264.4 324.6 277 318.5 289.3 313.7 302.6 309.9 315.9 307.7 327.8 307 340 307.7 352.5 310 311.6 298.8 273.7 290.1 236.1 283 199 277.7Z" fill="#7df125" stroke="#7df125" stroke-width="0.6" stroke-linejoin="round"/>
<path d="M198.4 277.6L126 267.9 43.1 304.2 80 318.5 124.2 323.2 167.5 327.2 210.4 330.4 249 332.5 251.3 332.2 265.8 323.8 279.8 317.3 291.9 312.8 303.9 309.6 317.2 307.5 329.2 307 341.4 307.8 352.5 310 311.6 298.8 273.7 290.1 236.1 283 199 277.7Z" fill="#86f125" stroke="#86f125" stroke-width="0.6" stroke-linejoin="round"/>
<path d="M198.4 277.6L126 267.9 43.1 304.2 76 316.9 122.9 321.9 168.7 326 214 329.3 252.8 331.2 265.8 323.8 278.4 317.9 290.6 313.3 303.9 309.6 315.9 307.7 327.8 307 340 307.7 352 309.8 311.6 298.8 273.7 290.1 236.1 283 199 277.7Z" fill="#8ef226" stroke="#8ef226" stroke-width="0.6" stroke-linejoin="round"/>
<path d="M198.4 277.6L126 267.9 43.1 304.2 72.2 315.2 119.2 320.3 166.2 324.6 212.5 327.9 253.8 330 255.8 329.4 270.1 321.7 281.1 316.7 291.9 312.8 303.9 309.6 315.9 307.7 327.8 307 338.7 307.5 350.1 309.3 311.6 298.8 273.7 290.1 236.1 283 199 277.7Z" fill="#97f226" stroke="#97f226" stroke-width="0.6" stroke-linejoin="round"/>
<path d="M198.4 277.6L126 267.9 43.1 304.2 67.8 313.5 116.9 318.9 165.5 323.2 211 326.5 254.5 328.7 257.2 328.6 270.1 321.7 283.8 315.7 294.6 312 305.2 309.3 315.9 307.7 326.5 307 337.3 307.4 348.3 309 338.5 305.9 314 299.4 273.7 290.1 236.1 283 199 277.7Z" fill="#a0f327" stroke="#a0f327" stroke-width="0.6" stroke-linejoin="round"/>
<path d="M198.4 277.6L126 267.9 43.1 304.2 62.8 311.7 65.3 312 115.9 317.5 166.6 322 214.4 325.4 258.1 327.4 260.1 326.9 271.5 321 283.8 315.7 294.6 312 305.2 309.3 315.9 307.7 326.5 307 337.3 307.4 346.9 308.7 335 305 316.4 300 273.7 290.1 236.1 283 199 277.7Z" fill="#a8f428" stroke="#a8f428" stroke-width="0.6" stroke-linejoin="round"/>
<path d="M198.4 277.6L126 267.9 43.1 304.2 58.1 309.9 63.7 310.7 116.1 316.3 167.6 320.9 217.6 324.2 261.5 326.1 272.9 320.3 282.5 316.2 293.3 312.4 303.9 309.6 314.5 307.8 323.8 307.1 333.2 307.1 344.5 308.2 332.9 304.4 316.4 300 273.7 290.1 236.1 283 199 277.7Z" fill="#b1f428" stroke="#b1f428" stroke-width="0.6" stroke-linejoin="round"/>
<path d="M198.4 277.6L126 267.9 43.1 304.2 54.3 308.3 63.1 309.4 116.2 315.1 168.5 319.7 218.3 322.9 261.8 324.7 264.4 324.6 275.6 319.1 287.9 314.2 297.3 311.3 305.2 309.3 314.5 307.8 323.8 307.1 333.2 307.1 342.8 308 333.7 304.8 320.3 301 296.7 295.2 275.1 290.4 236.9 283.1 199 277.7Z" fill="#baf529" stroke="#baf529" stroke-width="0.6" stroke-linejoin="round"/>
<path d="M198.4 277.6L126 267.9 43.1 304.2 49.2 306.5 61.7 308 115.3 313.8 169.4 318.4 218.9 321.6 264.9 323.3 267.3 323.1 277 318.5 287.9 314.2 297.3 311.3 305.2 309.3 314.5 307.8 322.5 307.1 331.9 307 340 307.7 332.6 304.7 319.8 300.9 276.6 290.7 236.9 283.1 199 277.7Z" fill="#c2f529" stroke="#c2f529" stroke-width="0.6" stroke-linejoin="round"/>
<path d="M198.4 277.6L126 267.9 43.1 304.2 45 304.8 60.5 306.7 118.7 312.9 175.5 317.6 229.4 320.7 259.1 321.7 270.1 321.7 278.4 317.9 287.9 314.2 297.3 311.3 305.2 309.3 313.2 308 321.2 307.2 329.2 307 338.1 307.4 328.7 303.7 316.2 299.9 276.6 290.7 236.9 283.1 199 277.7Z" fill="#cbf62a" stroke="#cbf62a" stroke-width="0.6" stroke-linejoin="round"/>
<path d="M198.4 277.6L126 267.9 44.1 303.5 59.3 305.3 117.8 311.5 174.5 316.2 229.7 319.4 256.2 320.2 272.9 320.3 289.3 313.7 297.3 311.3 305.2 309.3 319.8 307.3 327.8 307 335.6 307.2 328.3 303.9 318 300.5 305.6 297.2 289.5 293.5 264.6 288.2 242.9 284.1 220.7 280.6 199 277.7Z" fill="#d4f72b" stroke="#d4f72b" stroke-width="0.6" stroke-linejoin="round"/>
<path d="M198.4 277.6L126 267.9 45.5 302.5 57.5 303.9 116.9 310.2 175.3 315 229.9 318 275.3 318.9 289.3 313.7 301.3 310.2 309.2 308.6 317.2 307.5 332.6 306.9 330.3 305.6 323 302.4 312.9 299.2 299.4 295.6 283.9 292.1 239.4 283.5 219.4 280.4 199 277.7Z" fill="#dcf72b" stroke="#dcf72b" stroke-width="0.6" stroke-linejoin="round"/>
<path d="M197.5 277.2L126 267.9 46.9 301.5 111.2 308.4 174.2 313.6 232.5 316.7 258.4 317.3 279.8 317.3 291.9 312.8 305.2 309.3 317.2 307.5 329.2 307 328 305.7 324.9 304 317.6 301 307.7 297.8 279.6 291.1 238.6 283.4 198.1 277.3Z" fill="#e5f82c" stroke="#e5f82c" stroke-width="0.6" stroke-linejoin="round"/>
<path d="M196.3 276.7L126 267.9 48.4 300.4 114.3 307.5 179.9 312.7 209.3 314.3 237.3 315.4 263 315.9 283.7 315.6 294.6 312 305.2 309.3 315.9 307.7 325.2 307 325.5 306.7 323.9 305 318.6 302 311.1 299.1 301.3 296.1 274.2 289.8 238.5 283.2 196.9 276.8Z" fill="#eef82c" stroke="#eef82c" stroke-width="0.6" stroke-linejoin="round"/>
<path d="M195 276.2L126 267.9 49.9 299.4 118.4 306.6 152.7 309.5 185.7 311.7 216 313.3 244.4 314.1 269.8 314.3 289.2 313.7 305.2 309.3 320.8 307.1 320.6 305.5 319.1 303.8 315.8 301.7 311.1 299.6 303.4 297 293.7 294.2 267.9 288.3 234.7 282.3 195.6 276.3Z" fill="#f6f92d" stroke="#f6f92d" stroke-width="0.6" stroke-linejoin="round"/>
<path d="M193.7 275.7L126 267.9 51.5 298.4 87.7 302.4 124.4 305.9 160.4 308.7 195.3 310.9 227.1 312.3 256.1 312.8 280.4 312.4 297.2 311.2 313.1 308 314.9 306.9 315.8 305.8 315.9 305 315.5 303.8 313.2 301.7 308.6 299.3 302.5 297 283.9 291.8 259.7 286.5 229.6 281.1 194.3 275.8Z" fill="#f8f02c" stroke="#f8f02c" stroke-width="0.6" stroke-linejoin="round"/>
<path d="M192.4 275.2L126 267.9 53 297.3 90.7 301.4 128.5 305 165.3 307.8 201.2 309.8 233.6 311 259.8 311.2 282.6 310.5 299.1 308.9 304.3 307.8 308 306.6 310.2 305.2 310.7 304.4 310.8 303.3 309.4 301.3 306.3 299.4 301.2 297.1 294.9 294.9 276.8 290.1 253.9 285.2 225.3 280.2 193 275.3Z" fill="#f6e12a" stroke="#f6e12a" stroke-width="0.6" stroke-linejoin="round"/>
<path d="M191.1 274.7L126 267.9 54.6 296.3 91.5 300.3 128.4 303.7 164.2 306.4 199.2 308.4 230.6 309.5 256 309.7 278.1 309 294.1 307.4 299.2 306.3 302.8 305.1 305 303.8 305.7 302 304.4 300.1 301.5 298.2 290.6 293.9 273.1 289.2 250.9 284.5 223.1 279.6 191.7 274.8Z" fill="#f4d228" stroke="#f4d228" stroke-width="0.6" stroke-linejoin="round"/>
<path d="M189.7 274.2L126 267.9 56.2 295.2 92.4 299.1 128.3 302.4 163.2 305 197.1 306.9 227.5 307.9 252.1 308.1 273.6 307.4 289 305.9 297.6 303.7 299.7 302.4 300.4 300.7 299.3 298.9 296.6 297.1 286.2 292.9 269.4 288.3 247.9 283.8 221 279 190.3 274.3Z" fill="#f2c426" stroke="#f2c426" stroke-width="0.6" stroke-linejoin="round"/>
<path d="M188.3 273.7L126 267.9 57.9 294.2 93.2 297.9 128.2 301.1 162.1 303.6 195 305.4 224.5 306.4 248.2 306.5 268.9 305.9 283.9 304.4 292.2 302.3 294.3 301.1 295.1 299.4 294.1 297.6 291.5 295.9 281.7 291.9 265.6 287.5 244.8 283 218.7 278.4 188.8 273.8Z" fill="#f0b524" stroke="#f0b524" stroke-width="0.6" stroke-linejoin="round"/>
<path d="M186.9 273.3L126 267.9 59.6 293.1 94.1 296.7 128.2 299.8 161 302.1 192.9 303.9 221.3 304.8 244.2 304.9 264.2 304.3 278.7 302.9 283.4 301.9 287.4 300.6 289.2 299.4 289.6 297.8 288.4 296.1 285.8 294.4 276.1 290.6 260.7 286.4 240.9 282.1 215.8 277.7 187.4 273.3Z" fill="#efa623" stroke="#efa623" stroke-width="0.6" stroke-linejoin="round"/>
<path d="M185.4 272.8L126 267.9 61.4 292.1 94.3 295.5 127.2 298.4 158.7 300.6 189 302.3 216.1 303.2 240.2 303.4 259.4 302.7 273.4 301.3 277.9 300.5 281.9 299.2 283.6 298 284.1 296.5 283 294.8 280.6 293.2 271.5 289.6 256.7 285.5 237.7 281.4 213.4 277.1 185.9 272.9Z" fill="#ed9821" stroke="#ed9821" stroke-width="0.6" stroke-linejoin="round"/>
<path d="M183.9 272.3L126 267.9 63.1 291 127.2 297.1 157.6 299.2 186.8 300.8 212.9 301.6 236 301.8 254.5 301.1 267.9 299.8 272.3 299 276.2 297.7 277.9 296.6 278.5 295.1 277.5 293.6 275.3 292 266.7 288.5 252.6 284.6 233.6 280.5 210.4 276.4 184.3 272.4Z" fill="#eb891f" stroke="#eb891f" stroke-width="0.6" stroke-linejoin="round"/>
<path d="M182.3 271.8L126 267.9 65 289.9 127.1 295.7 156.5 297.8 184.6 299.3 209.7 300 231.8 300.1 249.5 299.6 262.4 298.3 270.4 296.3 272.1 295.2 272.8 293.8 271.9 292.3 269.8 290.9 261.8 287.5 248.4 283.8 230.3 279.8 208 275.8 182.7 271.9Z" fill="#e97b1d" stroke="#e97b1d" stroke-width="0.6" stroke-linejoin="round"/>
<path d="M180.6 271.4L126 267.9 66.9 288.9 126.3 294.3 182.4 297.7 206.3 298.4 227.5 298.5 244.4 297.9 256.7 296.7 264.5 294.9 266.2 293.8 266.9 292.5 266.1 291.1 264.3 289.7 256.7 286.5 244.1 282.9 226.8 279.1 205.4 275.2 181.1 271.4Z" fill="#e76c1b" stroke="#e76c1b" stroke-width="0.6" stroke-linejoin="round"/>
<path d="M178.9 270.9L126 267.9 68.8 287.8 126.2 293 180.1 296.2 202.9 296.8 223 296.9 239.1 296.3 251 295.2 258.4 293.4 260.1 292.4 260.8 291.2 260.2 289.8 258.5 288.5 250.8 285.2 238.9 281.8 222.6 278.2 202.8 274.6 179.4 271Z" fill="#e55d19" stroke="#e55d19" stroke-width="0.6" stroke-linejoin="round"/>
<path d="M177.2 270.5L126 267.9 70.8 286.7 125.5 291.6 176.3 294.6 199.4 295.2 218.5 295.2 233.8 294.7 245 293.6 252.2 291.9 253.8 291 254.6 289.8 254.1 288.5 252.6 287.3 245.5 284.2 234.3 281 218.9 277.5 199.6 274 177.6 270.5Z" fill="#e34f17" stroke="#e34f17" stroke-width="0.6" stroke-linejoin="round"/>
<path d="M175.4 270L126 267.9 72.9 285.6 125.5 290.2 174 293 195.8 293.6 213.9 293.6 228.3 293.1 238.9 292 245.8 290.4 247.4 289.6 248.2 288.4 247.9 287.3 246.5 286.1 240 283.1 229.6 280.1 215.1 276.8 196.8 273.4 175.8 270.1Z" fill="#e14015" stroke="#e14015" stroke-width="0.6" stroke-linejoin="round"/>
<path d="M173.5 269.6L126 267.9 75.1 284.5 124.2 288.7 170.3 291.3 207.7 291.9 222.6 291.4 232.7 290.4 239.2 288.9 241.1 287.9 241.7 286.8 241.2 285.7 239.9 284.6 233.8 281.9 223.5 278.9 210 275.9 173.9 269.7Z" fill="#e03114" stroke="#e03114" stroke-width="0.6" stroke-linejoin="round"/>
<path d="M171.5 269.2L126 267.9 77.3 283.4 124.3 287.3 167.9 289.7 202.8 290.2 216.8 289.7 226.2 288.8 232.4 287.4 234.2 286.5 234.9 285.5 234.6 284.4 233.4 283.4 227.9 280.8 218.5 278 206 275.2 171.8 269.2Z" fill="#de2312" stroke="#de2312" stroke-width="0.6" stroke-linejoin="round"/>
<path d="M169.4 268.8L126 267.9 79.7 282.2 124.4 285.9 165.3 288.1 197.8 288.5 210.8 288 219.5 287.1 225.4 285.8 227.1 285 227.9 284.1 227.7 283.1 226.7 282.2 221.8 279.8 213.3 277.2 201.7 274.5 169.7 268.8Z" fill="#dc1410" stroke="#dc1410" stroke-width="0.6" stroke-linejoin="round"/>
<path d="M167.1 268.4L126 267.9 82.2 281.1 123.9 284.5 161.7 286.4 192.6 286.7 204.5 286.3 212.6 285.5 218 284.3 219.7 283.5 220.5 282.7 220.4 281.8 219.4 280.7 215 278.6 207.3 276.2 196.8 273.7 167.5 268.4Z" fill="#db0f0f" stroke="#db0f0f" stroke-width="0.6" stroke-linejoin="round"/>
<path d="M164.8 268L126 267.9 84.8 279.9 123 282.9 158.1 284.7 186.1 285 197.1 284.5 205.4 283.8 210.8 282.5 212.3 281.8 212.9 281.1 212.8 280.3 211.9 279.3 208 277.3 201.1 275.2 191.4 272.8 165.1 268Z" fill="#db0f0f" stroke="#db0f0f" stroke-width="0.6" stroke-linejoin="round"/>
<path d="M162.3 267.6L126 267.9 87.6 278.7 122.8 281.4 154.6 282.9 180.5 283.1 197.8 282 202.8 280.9 204.9 279.6 204.9 278.9 204.2 278 201 276.3 195.1 274.3 186.4 272.1 162.5 267.7Z" fill="#db0f0f" stroke="#db0f0f" stroke-width="0.6" stroke-linejoin="round"/>
<path d="M159.5 267.3L126 267.9 90.5 277.5 122.2 279.8 151 281.1 174.6 281.2 189.8 280.2 194.3 279.3 196.3 278.1 196.5 277.5 196.1 276.7 193.3 275.1 188.3 273.3 180.8 271.4 159.8 267.4Z" fill="#db0f0f" stroke="#db0f0f" stroke-width="0.6" stroke-linejoin="round"/>
<path d="M156.5 267L126 267.9 93.8 276.2 122.3 278.2 147.5 279.3 167.7 279.3 181.3 278.4 185.3 277.6 187.3 276.5 187.2 275.3 185.1 273.9 174.6 270.6 156.8 267.1Z" fill="#db0f0f" stroke="#db0f0f" stroke-width="0.6" stroke-linejoin="round"/>
<path d="M153.2 266.8L126 267.9 97.4 274.9 121.8 276.5 143.3 277.3 160.4 277.3 172.2 276.5 175.8 275.7 177.6 274.8 177.6 273.8 176.1 272.6 167.9 269.9 153.4 266.8Z" fill="#db0f0f" stroke="#db0f0f" stroke-width="0.6" stroke-linejoin="round"/>
<path d="M149.3 266.6L126 267.9 101.5 273.6 138.5 275.3 152.4 275.2 162.2 274.5 166.9 273.1 167.2 272.3 166.2 271.3 160.3 269.1 149.5 266.6Z" fill="#db0f0f" stroke="#db0f0f" stroke-width="0.6" stroke-linejoin="round"/>
<path d="M144.7 266.5L126 267.9 106.4 272.1 133.9 273.1 144 272.9 151.1 272.3 154.8 271.3 155.4 270.7 155 270 151.6 268.4 144.8 266.5Z" fill="#db0f0f" stroke="#db0f0f" stroke-width="0.6" stroke-linejoin="round"/>
<path d="M138.3 266.7L126 267.9 113 270.4 128.1 270.6 138 270 140.6 269.4 141.6 268.6 140.8 267.7 138.4 266.7Z" fill="#db0f0f" stroke="#db0f0f" stroke-width="0.6" stroke-linejoin="round"/>
<path d="M335.1 305L291.7 293.7 248.8 283.7 206.5 275.1 165.5 268.1" stroke="#000" stroke-width="1.1" fill="none" stroke-linecap="round"/><path transform="translate(0 1.4)" d="M335.1 305L291.7 293.7 248.8 283.7 206.5 275.1 165.5 268.1" stroke="#000" stroke-opacity="0.65" stroke-width="2.4" fill="none" stroke-linecap="round"/>
<path d="M197.5 376L177.1 364.9 157.2 354.5 137.3 344.6 117.6 335.3 98.5 326.6 79.5 318.5 60.7 310.9 42.4 304M197.5 376L207.9 366 218.2 356.8 228.3 348.5 238.9 340.5 248.8 333.8 259 327.6 268.6 322.4 278.5 317.8 288.2 314.1 297.7 311.1 307.1 309 316.7 307.6 326.1 307 335.2 307.2 344.1 308.2 352.8 310M199.7 373.8L179.2 362.8 159.3 352.5 139.5 342.7 119.8 333.4 100.6 324.9 81.6 316.8 62.8 309.3 44.6 302.5M195.4 374.8L205.7 364.8 216 355.7 226.1 347.4 236.7 339.5 246.6 332.8 256.8 326.6 266.4 321.5 276.3 317 286 313.2 295.6 310.3 304.9 308.2 314.5 306.8 323.9 306.3 333.1 306.5 342 307.6 350.7 309.4M201.9 371.7L181.4 360.8 161.5 350.6 141.7 340.9 121.9 331.6 102.8 323.2 83.8 315.2 64.9 307.7 46.7 301M193.2 373.6L203.5 363.7 213.8 354.6 224 346.3 234.5 338.5 244.4 331.8 254.6 325.7 264.2 320.6 274.1 316.1 283.8 312.4 293.4 309.5 302.7 307.4 312.3 306.1 321.7 305.6 330.9 305.9 339.8 306.9 348.5 308.8M204.1 369.6L183.6 358.7 163.7 348.7 143.8 339 124.1 329.9 104.9 321.5 85.9 313.6 67 306.2 48.8 299.6M191 372.4L201.4 362.5 211.6 353.5 221.8 345.3 232.3 337.5 242.2 330.8 252.4 324.7 262 319.7 271.9 315.2 281.6 311.6 291.2 308.7 300.5 306.7 310.2 305.4 319.6 304.9 328.7 305.2 337.7 306.3 346.4 308.2M206.3 367.5L185.8 356.8 165.9 346.8 146 337.2 126.2 328.2 107.1 319.8 88 312 69.2 304.7 50.9 298.2M188.8 371.2L199.2 361.4 209.5 352.4 219.6 344.2 230.1 336.4 240 329.9 250.2 323.8 259.8 318.8 269.7 314.4 279.5 310.7 289 307.9 298.4 305.9 308 304.6 317.4 304.2 326.6 304.5 335.5 305.7 344.2 307.6M208.5 365.5L187.9 354.8 168 344.9 148.1 335.4 128.4 326.5 109.2 318.2 90.2 310.5 71.3 303.3 53 296.8M186.7 370L197 360.3 207.3 351.3 217.4 343.2 228 335.4 237.8 328.9 248.1 322.9 257.7 317.9 267.6 313.5 277.3 309.9 286.9 307.2 296.2 305.2 305.8 303.9 315.2 303.5 324.4 303.9 333.4 305 342.1 306.9M210.6 363.5L190.1 352.9 170.2 343.1 150.3 333.7 130.5 324.8 111.3 316.6 92.3 309 73.4 301.9 55.1 295.4M184.5 368.9L194.9 359.2 205.1 350.3 215.3 342.1 225.8 334.5 235.7 328 245.9 322 255.5 317 265.4 312.7 275.1 309.1 284.7 306.4 294.1 304.4 303.7 303.2 313.1 302.8 322.3 303.2 331.3 304.4 340 306.4M212.8 361.6L192.3 351.1 172.3 341.3 152.4 332 132.6 323.2 113.5 315.1 94.4 307.5 75.5 300.5 57.2 294.1M182.4 367.7L192.7 358.1 203 349.2 213.1 341.1 223.6 333.5 233.5 327 243.8 321 253.3 316.2 263.2 311.8 273 308.3 282.5 305.6 291.9 303.7 301.5 302.5 311 302.1 320.2 302.6 329.1 303.8 337.9 305.8M215 359.6L194.4 349.2 174.5 339.6 154.6 330.3 134.8 321.6 115.6 313.6 96.5 306.1 77.6 299.1 59.3 292.9M180.3 366.6L190.6 357 200.8 348.1 211 340.1 221.5 332.5 231.4 326.1 241.6 320.1 251.2 315.3 261.1 311 270.8 307.5 280.4 304.8 289.8 303 299.4 301.8 308.8 301.5 318 301.9 327 303.2 335.8 305.2M217.1 357.8L196.6 347.4 176.6 337.8 156.7 328.7 136.9 320 117.7 312.1 98.6 304.7 79.7 297.8 61.4 291.6M178.1 365.4L188.5 355.9 198.7 347.1 208.8 339.1 219.4 331.5 229.2 325.1 239.5 319.2 249 314.4 258.9 310.2 268.7 306.7 278.3 304.1 287.6 302.2 297.3 301.1 306.3 300.8 315.5 301.3 324.5 302.5 333.2 304.5M219.3 355.9L198.7 345.7 178.7 336.2 158.8 327.1 139 318.5 119.8 310.7 100.7 303.3 81.8 296.5 63.5 290.4M176 364.3L186.3 354.8 196.6 346 206.7 338.1 216.7 330.9 226.6 324.5 236.8 318.6 246.4 313.8 256.3 309.6 266.1 306.1 275.6 303.5 285 301.6 294.7 300.5 303.7 300.1 312.9 300.6 321.9 301.8 330.7 303.8M221.4 354.1L200.9 344 180.9 334.5 161 325.5 141.1 317 121.9 309.3 102.8 302 83.9 295.2 65.6 289.2M173.9 363.2L184.2 353.7 194.5 345 204.6 337.1 214.6 330 224.4 323.6 234.7 317.8 244.3 313 254.2 308.7 263.9 305.3 273.5 302.7 282.9 300.9 292.1 299.8 301.1 299.5 310.4 299.9 319.4 301.1 328.2 303.1M223.5 352.3L203 342.3 183 332.9 163.1 324 143.3 315.6 124 307.9 104.9 300.7 86 294 67.7 288M171.8 362.1L182.1 352.6 192.3 344 202.4 336.1 212.4 329 222.3 322.7 232 317.2 241.6 312.4 251.6 308.1 261.3 304.7 270.9 302.1 280.3 300.3 289.5 299.2 298.6 298.8 307.8 299.3 316.9 300.5 325.7 302.4M225.7 350.6L205.1 340.6 185.1 331.3 165.2 322.5 145.4 314.2 126.1 306.5 107 299.4 88.1 292.8 69.8 286.9M169.7 361L180 351.6 190.2 342.9 200.3 335.1 210.3 328.1 220.2 321.8 229.9 316.3 239.5 311.5 249.4 307.3 259.2 304 268.8 301.4 278.2 299.6 287.4 298.5 296.5 298.2 305.7 298.7 314.4 299.8 323.2 301.8M227.8 348.9L207.2 339 187.2 329.8 167.3 321 147.5 312.8 128.2 305.2 109.1 298.2 90.2 291.7 71.8 285.8M167.6 359.9L177.4 351 187.6 342.4 197.7 334.5 207.7 327.5 217.6 321.2 227.3 315.7 236.9 310.9 246.8 306.7 256.6 303.3 266.2 300.7 275.6 298.9 284.9 297.9 293.9 297.6 303.2 298 311.8 299.2 320.7 301.1M229.9 347.2L209.4 337.4 189.4 328.3 169.4 319.6 149.6 311.4 130.3 303.9 111.2 297 92.3 290.5 73.9 284.8M165.5 358.8L175.3 349.9 185.5 341.4 195.6 333.6 205.6 326.6 215.5 320.3 225.2 314.8 234.8 310.1 244.7 305.9 254 302.7 263.6 300.1 273.1 298.3 282.3 297.3 291.4 296.9 300.7 297.4 309.3 298.5 318.2 300.4M232 345.6L211.5 335.8 191.5 326.8 171.5 318.2 151.7 310.1 132.4 302.7 113.3 295.8 94.3 289.4 76 283.7M163.4 357.7L173.2 348.9 183.4 340.4 193.5 332.6 203.5 325.6 213.4 319.4 223.1 314 232.7 309.3 242.1 305.4 251.4 302.1 261.1 299.5 270.5 297.7 279.8 296.6 288.8 296.3 298.2 296.7 306.8 297.9 315.7 299.8M234.2 344L213.6 334.3 193.6 325.4 173.6 316.8 153.8 308.8 134.5 301.5 115.4 294.7 96.4 288.4 78.1 282.7M161.3 356.6L171.1 347.9 181.3 339.4 191.4 331.7 201.4 324.7 211.3 318.6 221 313.1 230.6 308.5 240 304.6 249.3 301.4 259 298.8 268.4 297 277.7 296 286.8 295.7 295.6 296.1 304.3 297.2 313.2 299.1M236.3 342.4L215.7 332.8 195.7 323.9 175.7 315.5 155.9 307.6 136.6 300.3 117.5 293.5 98.5 287.3 80.1 281.8M159.2 355.6L169 346.8 179.2 338.4 188.8 331.1 198.8 324.2 208.7 318 218.4 312.6 228 307.9 237.5 304 246.8 300.8 256.4 298.2 265.9 296.4 275.1 295.4 284.2 295.1 293.1 295.5 301.8 296.6 310.8 298.5M238.4 340.9L217.8 331.4 197.8 322.6 177.8 314.2 157.9 306.3 138.7 299.2 119.5 292.5 100.6 286.3 82.2 280.8M157.2 354.5L166.9 345.8 177.1 337.4 186.7 330.2 196.7 323.3 206.6 317.1 216.3 311.8 225.9 307.1 235.4 303.2 244.7 300.1 254.3 297.5 263.3 295.8 272.6 294.8 281.7 294.5 290.6 294.9 299.3 296 308.3 297.9M240.4 339.4L219.9 330 199.8 321.2 179.9 313 160 305.2 140.7 298 121.6 291.4 102.6 285.3 84.2 279.9M155.1 353.5L164.9 344.8 175.1 336.4 184.6 329.2 194.6 322.4 204 316.6 213.7 311.2 223.3 306.6 232.8 302.7 242.1 299.5 251.8 297 260.8 295.2 270.1 294.2 279.2 293.9 288.1 294.2 296.9 295.3 305.8 297.2M242.5 338L221.9 328.6 201.9 319.9 182 311.7 162.1 304 142.8 297 123.7 290.4 104.7 284.4 86.3 279M153.1 352.4L162.8 343.8 173 335.5 182.6 328.3 192.6 321.5 201.9 315.7 211.7 310.4 221.3 305.8 230.7 301.9 240.1 298.8 249.7 296.3 258.7 294.6 268 293.6 277.1 293.3 286.1 293.7 294.8 294.8 303.4 296.6M244.6 336.5L224 327.3 204 318.7 184 310.5 164.2 302.9 144.9 295.9 125.7 289.4 106.7 283.5 88.3 278.2M151 351.4L160.8 342.8 171 334.5 180.5 327.4 190.5 320.6 199.9 314.9 209.6 309.6 219.2 305 228.7 301.2 238 298.1 247.2 295.7 256.2 294 265.5 293 274.6 292.7 283.6 293.1 292.3 294.2 300.9 296M246.7 335.2L226.1 325.9 206.1 317.4 186.1 309.4 166.2 301.8 146.9 294.9 127.8 288.5 108.8 282.6 90.4 277.4M149 350.4L158.7 341.8 168.4 334 177.9 326.9 187.9 320.1 197.3 314.3 207 309 216.6 304.5 226.1 300.6 235.5 297.5 244.6 295.1 253.7 293.4 263 292.4 272.1 292.1 281.1 292.5 289.9 293.6 298.4 295.4M248.8 333.8L228.2 324.7 208.1 316.2 188.2 308.2 168.3 300.7 149 293.9 129.8 287.6 110.8 281.7 92.4 276.6M146.9 349.4L156.7 340.9 166.3 333.1 175.9 325.9 185.9 319.2 195.2 313.5 205 308.2 214.6 303.7 224.1 299.9 233.4 296.8 242.6 294.5 251.6 292.8 261 291.8 269.7 291.5 278.6 291.9 287.4 293 296 294.7M250.8 332.5L230.2 323.4 210.2 315.1 190.2 307.1 170.3 299.7 151 292.9 131.9 286.7 112.9 280.9 94.5 275.8M144.9 348.4L154.6 339.9 164.3 332.1 173.9 325.1 183.8 318.3 193.2 312.7 202.9 307.4 212 303.2 221.5 299.4 230.9 296.3 240.1 293.9 249.1 292.2 258.5 291.2 267.2 290.9 276.2 291.3 284.9 292.4 293.6 294.1M252.9 331.2L232.3 322.2 212.2 313.9 192.3 306.1 172.4 298.7 153.1 292 133.9 285.8 114.9 280.1 96.5 275.1M142.9 347.4L152.6 338.9 162.3 331.2 171.8 324.2 181.8 317.5 191.1 311.9 200.9 306.7 210 302.4 219.5 298.6 228.8 295.6 238 293.3 247.1 291.6 256 290.6 264.7 290.3 273.7 290.7 282.5 291.8 291.1 293.5M254.9 330L234.3 321.1 214.3 312.8 194.3 305 174.4 297.8 155.1 291.1 136 285 116.9 279.4 98.5 274.4M140.9 346.4L150.6 338 160.2 330.3 169.8 323.3 179.2 317 188.6 311.3 198.4 306.1 207.5 301.9 217 298.1 226.3 295.1 235.5 292.7 244.6 291.1 253.5 290.1 262.2 289.8 271.2 290.1 280 291.2 288.7 292.9M257 328.7L236.4 319.9 216.3 311.8 196.3 304 176.5 296.8 157.2 290.3 138 284.2 119 278.7 100.5 273.8M138.9 345.4L148.6 337 158.2 329.4 167.8 322.4 177.2 316.1 186.6 310.5 196.3 305.4 205.4 301.1 214.9 297.4 224.3 294.4 233.5 292.1 242.6 290.4 251.4 289.5 260.2 289.2 269.2 289.6 277.6 290.6 286.3 292.3M259 327.6L238.4 318.8 218.3 310.7 198.4 303.1 178.5 295.9 159.2 289.4 140 283.4 121 278 102.6 273.1M136.8 344.4L146.6 336.1 156.2 328.5 165.8 321.5 175.2 315.3 184.6 309.7 193.8 304.9 202.9 300.6 212.4 296.9 221.8 293.9 231 291.5 240.1 289.9 249 288.9 257.7 288.6 266.7 289 275.2 290 283.8 291.8M261 326.4L240.4 317.7 220.4 309.7 200.4 302.1 180.5 295.1 161.2 288.6 142 282.7 123 277.3 104.6 272.5M134.8 343.4L144.6 335.2 154.2 327.6 163.7 320.7 173.2 314.5 182.5 309 191.8 304.1 200.9 299.9 210.4 296.2 219.3 293.3 228.5 291 237.6 289.4 246.5 288.4 255.3 288.1 264.3 288.5 272.7 289.5 281.4 291.2M263 325.3L242.4 316.7 222.4 308.7 202.4 301.2 182.5 294.2 163.2 287.9 144 282 125 276.7 106.6 271.9M132.9 342.5L142 334.7 151.7 327.1 161.2 320.2 170.7 314 180 308.5 189.3 303.6 198.4 299.4 207.9 295.7 216.8 292.8 226 290.5 235.1 288.8 244 287.8 252.8 287.5 261.9 287.9 270.3 288.9 279 290.6M265.1 324.2L244.5 315.7 224.4 307.8 204.4 300.4 184.5 293.4 165.2 287.1 146.1 281.3 127 276.1 108.6 271.4M130.9 341.5L140 333.7 149.7 326.2 159.2 319.3 168.7 313.2 178 307.7 187.3 302.8 196.4 298.7 205.9 295 214.8 292.2 224 289.8 233.1 288.2 242 287.3 250.8 287 259.4 287.3 267.9 288.3 276.6 290M267.1 323.2L246.5 314.7 226.4 306.9 206.4 299.5 186.5 292.7 167.2 286.4 148.1 280.7 129 275.5 110.6 270.9M128.9 340.6L138.1 332.8 147.7 325.3 157.2 318.5 166.7 312.4 176 306.9 185.3 302.1 194.4 298 203.4 294.5 212.3 291.6 221.5 289.3 230.6 287.7 239.6 286.7 248.4 286.5 257 286.8 265.4 287.8 274.2 289.5M269.1 322.2L248.5 313.8 228.4 306 208.4 298.7 188.5 291.9 169.2 285.8 150.1 280.1 131 274.9 112.6 270.4M126.9 339.6L136.1 331.9 145.7 324.5 155.2 317.7 164.7 311.6 174 306.1 183.3 301.4 192.4 297.3 201.4 293.8 210.3 291 219.5 288.7 228.2 287.2 237.1 286.2 245.9 285.9 254.6 286.3 263 287.2 271.8 288.9M271.1 321.2L250.5 312.9 230.4 305.2 210.4 298 190.5 291.2 171.2 285.1 152.1 279.5 133 274.4 114.6 269.9M124.9 338.7L134.1 331 143.7 323.6 152.7 317.2 162.2 311.1 171.5 305.7 180.8 300.9 189.9 296.8 198.9 293.3 207.8 290.5 217.1 288.2 225.7 286.7 234.7 285.7 243.5 285.4 252.1 285.7 260.6 286.7 269.4 288.3M273.1 320.3L252.4 312 232.4 304.4 212.4 297.2 192.5 290.6 173.2 284.5 154 279 135 273.9 116.6 269.5M123 337.8L132.1 330.1 141.8 322.7 150.8 316.4 160.2 310.3 169.6 304.9 178.8 300.2 187.9 296.1 197 292.7 205.8 289.9 215.1 287.6 223.7 286.1 232.7 285.2 241.5 284.9 250.2 285.2 258.7 286.2 267 287.8M275 319.3L254.4 311.2 234.4 303.6 214.4 296.5 194.5 289.9 175.2 283.9 156 278.4 137 273.5 118.5 269.1M121 336.8L130.2 329.3 139.8 321.9 148.8 315.6 158.2 309.5 167.1 304.4 176.3 299.7 185.5 295.6 194.5 292.2 203.4 289.4 212.6 287.1 221.3 285.6 230.3 284.6 239.1 284.3 247.7 284.7 256.3 285.7 264.6 287.2M277 318.5L256.4 310.4 236.4 302.9 216.4 295.9 196.5 289.3 177.2 283.4 158 278 139 273 120.5 268.7M119.1 335.9L128.2 328.4 137.8 321.1 146.8 314.8 156.3 308.8 165.1 303.7 174.4 299 183.5 294.9 192.5 291.5 201.4 288.8 210.2 286.6 218.8 285.1 227.8 284.1 236.7 283.8 245.3 284.2 253.9 285.1 262.2 286.7M279 317.6L258.4 309.6 238.3 302.2 218.4 295.2 198.5 288.7 179.2 282.9 160 277.5 140.9 272.6 122.5 268.4M117.1 335L126.3 327.5 135.9 320.2 144.9 314 154.3 308 163.2 303 172.4 298.3 181.5 294.3 190.6 290.9 199.5 288.2 208.2 286 216.9 284.5 225.9 283.6 234.2 283.3 242.9 283.6 251.5 284.6 259.8 286.2M280.9 316.8L260.3 308.8 240.3 301.5 220.3 294.6 200.4 288.2 181.1 282.4 161.9 277.1 142.9 272.3 124.5 268.1M115.2 334.1L124.3 326.7 133.4 319.8 142.4 313.5 151.9 307.5 160.7 302.5 169.9 297.8 179.1 293.8 188.1 290.4 197 287.7 205.8 285.6 214.5 284.1 223.5 283.1 231.8 282.8 240.5 283.1 249.1 284.1 257.5 285.6M282.9 316L262.3 308.1 242.3 300.9 222.3 294 202.4 287.7 183.1 281.9 163.9 276.7 144.9 271.9 126.4 267.8M113.3 333.2L122.4 325.8 131.5 319 140.5 312.7 149.9 306.8 158.7 301.8 168 297.1 177.1 293.2 186.2 289.8 195.1 287.1 203.8 285 212.5 283.5 221 282.6 229.4 282.3 238.1 282.6 246.7 283.6 255.1 285.1M284.8 315.3L264.2 307.5 244.2 300.2 224.2 293.5 204.4 287.2 185.1 281.5 165.9 276.3 146.8 271.6 128.4 267.6M111.3 332.4L120.5 325 129.5 318.2 138.5 312 148 306 156.8 301.1 166 296.5 174.7 292.7 183.7 289.3 192.6 286.6 201.4 284.5 210.1 283 218.6 282.1 227 281.8 235.8 282.1 244.3 283 252.7 284.6M286.8 314.6L266.2 306.8 246.2 299.7 226.2 293 206.3 286.7 187 281.1 167.8 276 148.8 271.3 130.3 267.3M109.4 331.5L118.6 324.1 127.6 317.3 136.6 311.2 146 305.3 154.9 300.4 164.1 295.8 172.7 292.1 181.8 288.7 190.7 286 199.5 284 208.2 282.5 216.7 281.6 225.1 281.3 233.8 281.7 241.9 282.5 250.4 284M288.7 313.9L268.1 306.2 248.1 299.1 228.1 292.5 208.2 286.3 188.9 280.7 169.8 275.7 150.7 271.1 132.3 267.1M107.5 330.6L116.6 323.3 125.7 316.5 134.7 310.4 143.6 304.9 152.4 299.9 161.7 295.3 170.3 291.6 179.3 288.3 188.3 285.6 197.1 283.5 205.7 282 214.3 281.1 222.7 280.8 231.4 281.2 239.6 282 248 283.5M290.6 313.3L270 305.6 250 298.6 230.1 292 210.2 285.9 190.9 280.4 171.7 275.4 152.7 270.9 134.2 267M105.6 329.8L114.7 322.5 123.8 315.8 132.8 309.7 141.7 304.2 150.5 299.2 159.7 294.7 168.4 291 177.4 287.7 185.8 285.1 194.7 283 203.3 281.6 211.9 280.7 220.3 280.4 229.1 280.7 237.2 281.5 245.7 283M292.5 312.7L271.9 305.1 251.9 298.1 232 291.6 212.1 285.5 192.8 280.1 173.6 275.1 154.6 270.7 136.1 266.8M103.7 328.9L112.8 321.6 121.9 315 130.8 308.9 139.8 303.4 148.6 298.6 157.3 294.3 166 290.5 175 287.2 183.4 284.7 192.3 282.6 200.9 281.1 209.5 280.2 217.9 279.9 226.7 280.2 234.9 281 243.3 282.5M294.4 312.1L273.9 304.5 253.9 297.6 233.9 291.2 214 285.2 194.7 279.8 175.6 274.9 156.5 270.5 138.1 266.7M101.8 328.1L110.9 320.8 120 314.2 128.9 308.2 137.8 302.7 146.7 297.9 155.4 293.6 164 289.9 173.1 286.6 181.5 284.1 190.3 282 199 280.6 207.6 279.7 216 279.4 224.3 279.7 232.5 280.6 241 282M296.3 311.5L275.8 304.1 255.8 297.2 235.8 290.8 215.9 284.9 196.7 279.6 177.5 274.7 158.4 270.4 140 266.6M99.9 327.2L108.5 320.4 117.5 313.8 126.5 307.8 135.4 302.3 144.2 297.5 153 293.2 161.6 289.5 170.7 286.2 179.1 283.7 187.9 281.6 196.6 280.1 205.2 279.3 213.7 279 222 279.2 230.2 280.1 238.6 281.5M298.2 311L277.7 303.6 257.7 296.8 237.7 290.5 217.9 284.6 198.6 279.3 179.4 274.6 160.4 270.3 141.9 266.6M98 326.4L106.6 319.6 115.6 313 124.6 307 133.5 301.6 142.3 296.8 151.1 292.5 159.7 288.9 168.8 285.6 177.2 283.1 186 281.1 194.3 279.7 202.8 278.8 211.3 278.5 219.6 278.8 227.8 279.6 236.3 281M300.1 310.5L279.5 303.2 259.6 296.5 239.6 290.2 219.8 284.4 200.5 279.2 181.3 274.4 162.3 270.2 143.8 266.5M96.1 325.6L104.7 318.8 113.8 312.3 122.7 306.3 131.6 300.9 140.5 296.1 149.2 291.9 157.8 288.3 166.4 285.2 174.8 282.7 183.7 280.6 191.9 279.2 200.5 278.4 208.9 278 217.3 278.3 225.5 279.1 233.5 280.5M302 310.1L281.4 302.8 261.4 296.1 241.5 289.9 221.7 284.1 202.4 279 183.2 274.3 164.2 270.1 145.7 266.5M94.3 324.8L102.8 318.1 111.9 311.5 120.3 305.9 129.2 300.5 138 295.7 146.8 291.5 155.4 287.9 164 284.8 172.4 282.3 181.3 280.2 189.5 278.8 198.1 277.9 206.6 277.6 214.9 277.8 223.1 278.6 231.2 280M303.8 309.6L283.3 302.4 263.3 295.8 243.4 289.7 223.5 284 204.3 278.9 185.1 274.2 166.1 270.1 147.6 266.5M92.4 323.9L101 317.3 110 310.8 118.4 305.2 127.3 299.8 136.2 295.1 144.9 290.9 153.5 287.3 162.1 284.2 170.6 281.7 178.9 279.8 187.1 278.4 195.8 277.5 204.2 277.1 212.6 277.4 220.8 278.2 228.9 279.5M305.7 309.3L285.2 302.1 265.2 295.6 245.3 289.5 225.4 283.8 206.2 278.8 187 274.2 168 270.1 149.5 266.6M90.5 323.1L99.1 316.5 108.1 310 116.6 304.5 125.5 299.2 134.3 294.4 143 290.3 151.7 286.7 160.2 283.7 168.7 281.2 177 279.3 185.3 277.9 193.9 277 201.9 276.7 210.3 276.9 218.5 277.7 226.6 279.1M307.6 308.9L287 301.8 267.1 295.3 247.1 289.3 227.3 283.7 208 278.7 188.9 274.2 169.9 270.1 151.4 266.7M88.7 322.3L97.2 315.7 106.3 309.3 114.7 303.8 123.6 298.5 131.9 294 140.6 289.9 149.3 286.3 157.8 283.3 166.3 280.8 174.7 278.9 182.9 277.5 191.5 276.6 199.6 276.3 207.9 276.5 216.2 277.3 224.3 278.6M309.4 308.6L288.9 301.5 268.9 295.1 249 289.1 229.2 283.6 209.9 278.6 190.8 274.2 171.7 270.2 153.3 266.8M86.8 321.6L95.4 315 104.4 308.6 112.9 303.1 121.7 297.8 130 293.4 138.8 289.3 147.4 285.7 156 282.7 164.4 280.3 172.8 278.4 181 277 189.2 276.2 197.2 275.8 205.6 276.1 213.9 276.8 222 278.1M311.2 308.3L290.7 301.3 270.8 294.9 250.9 289 231 283.5 211.8 278.6 192.6 274.2 173.6 270.3 155.2 266.9M85 320.8L93.5 314.2 102 308.2 110.5 302.7 119.4 297.4 127.7 293 136.4 288.9 145.1 285.3 153.6 282.3 162.1 279.9 170.4 278 178.7 276.6 186.9 275.7 194.9 275.4 203.3 275.6 211.5 276.4 219.7 277.7M313.1 308L292.6 301.1 272.6 294.8 252.7 288.9 232.9 283.5 213.6 278.6 194.5 274.3 175.5 270.4 157.1 267.1M83.2 320L91.7 313.5 100.2 307.5 108.6 302 117.5 296.8 125.8 292.4 134.5 288.3 143.2 284.7 151.8 281.8 160.2 279.3 168.6 277.5 176.8 276.1 185 275.3 193 275 201.4 275.2 209.2 275.9 217.4 277.2M314.9 307.8L294.4 300.9 274.4 294.7 254.6 288.8 234.7 283.4 215.5 278.7 196.4 274.3 177.3 270.5 158.9 267.2M81.3 319.2L89.9 312.7 98.4 306.8 106.8 301.4 115.7 296.1 124 291.8 132.7 287.7 140.8 284.4 149.4 281.4 157.9 279 166.2 277.1 174.5 275.7 182.7 274.9 190.7 274.6 199.1 274.8 206.9 275.5 215.1 276.8M316.7 307.6L296.2 300.8 276.3 294.6 256.4 288.8 236.6 283.5 217.3 278.7 198.2 274.5 179.2 270.7 160.8 267.5M79.5 318.5L88 312 96.5 306.1 104.9 300.7 113.8 295.5 122.1 291.2 130.9 287.1 139 283.8 147.6 280.9 156 278.4 164.4 276.6 172.7 275.3 180.8 274.4 188.9 274.2 196.8 274.4 204.6 275.1 212.8 276.3M318.5 307.4L298 300.7 278.1 294.5 258.2 288.8 238.4 283.5 219.2 278.8 200.1 274.6 181.1 270.9 162.6 267.7M77.7 317.7L86.2 311.3 94.7 305.4 103.1 300 111.5 295.2 119.8 290.8 128.5 286.8 136.7 283.5 145.2 280.5 153.7 278.1 162.1 276.2 170.3 274.9 178.5 274 186.6 273.7 194.5 274 202.4 274.6 210.5 275.9M320.3 307.2L299.8 300.6 279.9 294.5 260 288.8 240.2 283.6 221 278.9 201.9 274.8 182.9 271.1 164.5 267.9M75.9 317L84.4 310.6 92.9 304.7 101.3 299.4 109.7 294.5 117.9 290.2 126.7 286.2 134.8 282.9 143.4 280 151.4 277.7 159.7 275.8 168 274.5 176.2 273.7 184.3 273.3 192.2 273.5 200.1 274.2 208.2 275.5M322.1 307.1L302.2 300.7 282.8 294.8 263.4 289.3 244 284.2 225.2 279.6 206.5 275.5 187.9 271.9 169.8 268.8M74.1 316.2L82.6 309.9 91.1 304 99.5 298.7 107.8 293.9 116.1 289.6 124.3 285.8 132.5 282.5 141.1 279.6 149 277.3 157.4 275.4 165.7 274.1 173.9 273.3 182 272.9 189.9 273.1 197.8 273.8 206 275M323.9 307L304.5 300.8 285.6 295.1 267.2 289.9 248.8 285 230.8 280.7 212.9 276.7 195.1 273.1 177.7 270.1M72.3 315.5L80.8 309.2 89.2 303.3 97.7 298.1 106 293.3 114.3 289 122.5 285.3 130.7 282 139.2 279.1 147.2 276.8 155.6 275 163.9 273.7 172.1 272.8 180.1 272.5 188.1 272.8 196 273.4 203.7 274.6M325.6 307L307.3 301.1 289.4 295.7 271.5 290.7 254 286 236.5 281.8 219.4 277.9 202.8 274.5 186.2 271.5M70.5 314.8L78.4 308.8 86.9 303 95.3 297.7 103.7 293 112 288.7 120.2 284.9 128.3 281.7 136.9 278.7 144.9 276.5 153.3 274.6 161.6 273.3 169.8 272.5 177.9 272.2 185.8 272.4 193.7 273 201.4 274.2M327.4 307L292.8 296.3 259.3 287.1 242.6 283 226.4 279.3 210.6 276 194.7 273M68.7 314L76.6 308.1 85.1 302.4 93.5 297.1 101.9 292.3 110.2 288.1 118.4 284.4 126.5 281.1 135.1 278.2 143.1 276 151.5 274.2 159.3 272.9 167.5 272.1 175.6 271.8 183.6 272 191.4 272.6 199.2 273.8M329.1 307L296.6 297 264.5 288.1 233.4 280.7 203.2 274.5M66.9 313.3L74.9 307.5 83.3 301.7 91.7 296.5 100.1 291.7 108.4 287.5 116.6 283.8 124.7 280.6 132.8 277.9 140.8 275.7 149.2 273.8 157 272.5 165.2 271.7 173.3 271.4 181.3 271.6 189.2 272.2 196.9 273.4M330.9 307L300.5 297.7 270.3 289.4 240.9 282.2 211.9 276.2M65.1 312.6L73.1 306.8 81.5 301.1 89.9 295.8 98.3 291.2 106.6 287 114.8 283.3 122.9 280.1 131 277.4 139 275.2 147.4 273.4 155.2 272.1 163.4 271.3 171 271 179 271.2 186.9 271.8 194.7 273M332.6 307.1L303.8 298.3 275.6 290.5 248 283.7 221 277.9M63.3 311.9L71.3 306.1 79.7 300.4 87.6 295.5 96 290.8 104.3 286.7 112.5 283 120.6 279.8 128.7 277.1 136.7 274.9 145.1 273 152.9 271.8 161.1 271 168.8 270.6 176.8 270.8 184.7 271.5 192.4 272.6M334.4 307.2L307.1 298.9 280.9 291.6 255.1 285.2 229.8 279.7M61.5 311.2L69.5 305.4 78 299.8 85.8 294.9 94.2 290.3 102 286.3 110.2 282.6 118.3 279.5 126.4 276.7 134.4 274.5 142.3 272.8 150.2 271.5 158.4 270.6 166 270.3 174 270.4 181.9 271 189.7 272.1M336.1 307.3L311 299.7 286.7 293 262.2 286.8 238.6 281.5M59.8 310.5L67.8 304.8 76.2 299.1 84.1 294.3 92.4 289.7 100.2 285.8 108.4 282.1 116.6 278.9 124.6 276.3 132.6 274.1 140.5 272.3 148.4 271.1 156.6 270.2 164.2 269.9 172.3 270.1 179.7 270.6 187.5 271.7M337.8 307.4L314.8 300.5 292 294.2 269.9 288.6 248 283.5M58 309.8L66 304.1 74.4 298.5 82.3 293.7 90.6 289.1 98.4 285.2 106.6 281.6 114.8 278.5 122.8 275.8 130.8 273.6 138.8 271.9 146.6 270.7 154.3 269.9 162 269.6 170 269.7 177.5 270.3 185.3 271.3M339.5 307.6L318.6 301.4 297.8 295.6 277.1 290.2 257 285.5M56.3 309.2L64.2 303.5 72.2 298.2 80 293.4 88.4 288.8 96.1 284.9 104.3 281.3 112.5 278.1 120.6 275.5 128.6 273.3 136.5 271.6 144.3 270.3 152.1 269.5 159.7 269.2 167.8 269.3 175.2 269.9 183.1 271M341.2 307.8L321.9 302.1 303.1 296.8 284.8 292.1 266.5 287.7M54.5 308.5L62.5 302.8 70.4 297.6 78.3 292.8 86.6 288.3 94.4 284.4 102.6 280.8 110.7 277.7 118.8 275 126.8 272.9 134.7 271.2 142.6 269.9 150.3 269.2 158 268.9 165.5 269 173 269.5 180.8 270.6M342.9 308L309 298.3 276.1 289.9M52.8 307.8L60.7 302.2 68.6 297 76.5 292.3 84.8 287.7 92.6 283.9 100.8 280.3 108.5 277.4 116.5 274.7 124.5 272.5 132.5 270.8 140.3 269.6 148.1 268.8 155.7 268.5 163.3 268.6 170.8 269.2 178.6 270.2M344.6 308.3L314.8 299.7 285.8 292.2M51 307.2L59 301.6 66.9 296.4 74.8 291.7 83.1 287.2 90.9 283.4 99.1 279.8 106.7 276.9 114.8 274.3 122.3 272.2 130.2 270.5 138.1 269.3 145.8 268.5 153.5 268.2 161.1 268.3 168.6 268.8 176.4 269.9M346.2 308.6L320.7 301.2 295.5 294.6M49.3 306.5L57.3 300.9 65.2 295.8 73 291.1 80.8 286.9 88.6 283.1 96.8 279.5 104.5 276.6 112.5 274 120 271.9 128 270.2 135.8 269 143.6 268.2 151.3 267.8 158.9 267.9 166.3 268.5 174.2 269.5M347.9 308.9L326.6 302.8 305.3 297.1M47.6 305.9L55.5 300.3 63.4 295.2 71.3 290.6 79.1 286.3 86.9 282.6 95.1 279 102.7 276.1 110.8 273.5 118.3 271.5 126.2 269.8 134.1 268.6 141.8 267.8 149.5 267.5 157.1 267.6 164.6 268.2 172 269.1M349.6 309.3L315.2 299.7M45.9 305.3L53.8 299.7 61.7 294.6 69.6 290 77.4 285.8 85.1 282.1 92.8 278.7 100.5 275.8 108.5 273.2 116.1 271.2 124 269.5 131.8 268.3 139.6 267.5 147.3 267.2 154.9 267.3 162.4 267.8 169.8 268.8M351.2 309.6L325.2 302.3M44.2 304.6L52.1 299.1 60 294.1 67.8 289.5 75.6 285.3 83.4 281.6 91.1 278.3 98.7 275.4 106.8 272.8 114.3 270.8 122.3 269.1 129.6 268 137.4 267.2 145.1 266.9 152.7 267 160.2 267.5 167.6 268.4M352.8 310L335.2 305M42.4 304L49.9 298.9 57.7 293.8 65.6 289.2 73.4 285 81.2 281.3 88.9 278 96.5 275.1 104.6 272.5 112.1 270.5 120 268.8 127.4 267.7 135.2 266.9 142.9 266.5 150.5 266.6 158 267.1 165.4 268.1" stroke="#000" stroke-opacity="0.65" stroke-width="0.6" fill="none"/>
<path d="M197.5 376L176.9 364.8 156.8 354.3 136.8 344.4 117.5 335.2 98.4 326.6 79.5 318.5 60.8 310.9 42.4 304M197.5 376L208 365.9 218.4 356.6 228.7 348.2 238.8 340.6 248.8 333.8 259 327.6 268.7 322.4 278.6 317.8 288.3 314 297.8 311.1 307.2 309 316.7 307.6 326 307 335.1 307.2 343.9 308.2 352.8 310M352.8 310L335.3 305.1M42.4 304L50.1 298.7 58.1 293.6 65.6 289.2 73.5 285 81.4 281.2 89.2 277.9 96.9 275 104.6 272.5 112.2 270.5 120.1 268.8 127.6 267.7 135.4 266.9 142.7 266.5 150.3 266.6 157.8 267.1 165.2 268.1" stroke="#111" stroke-opacity="0.85" stroke-width="0.8" fill="none"/>
<path d="M58 627L210.4 593M210.4 593L362.7 626.8M56.5 607.1L210.4 575.1M210.4 575.1L364.2 607M55.1 586.9L210.4 556.9M210.4 556.9L365.7 586.8M53.6 566.3L210.5 538.5M210.5 538.5L367.3 566.2M52.1 545.3L210.5 519.7M210.5 519.7L368.8 545.2M50.6 523.9L210.5 500.5M210.5 500.5L370.4 523.8M90.6 518L96.1 618.5M250.5 506.4L248.4 601.4M130.6 512.2L134.2 610M290.5 512.2L286.5 609.9M170.6 506.4L172.3 601.5M330.5 518L324.6 618.3M210.4 593L210.5 500.5M60.3 659.8L50.6 523.9M360.2 659.6L370.4 523.8" stroke="#444" stroke-width="0.8" fill="none"/>
<path d="M60.3 659.8L210.4 707.5 360.2 659.6 210.3 622.6Z" fill="#ffff00" stroke="#555" stroke-width="0.7"/>
<path d="M192.7 701.6L214.5 705.2" stroke="#185cb0" stroke-width="0.6" fill="none"/>
<path d="M159.6 690.9L225 701.4" stroke="#2ec5c5" stroke-width="0.6" fill="none"/>
<path d="M118.9 678.3L180.2 688.8 239 697.5" stroke="#29c16d" stroke-width="0.6" fill="none"/>
<path d="M75 664.4L118.4 672.5 163.1 680.1 207.4 686.8 249.4 692.4" stroke="#39c028" stroke-width="0.6" fill="none"/>
<path d="M72 657.6L123.2 667 174.4 675.3 222.4 681.8 272.2 687.4" stroke="#98cb33" stroke-width="0.6" fill="none"/>
<path d="M87.9 653.5L117 658.7 145.3 663.3 173.2 667.4 201.7 671.1 228.5 674.1 252.3 676.3 274.2 677.8 297.5 678.6M342.3 664.2L335.1 659.9 326.1 655.9 313.4 651.1 295.2 645.3 276.9 640.2 254.4 634.5 231.8 629.3 206.6 624" stroke="#c9a731" stroke-width="0.6" fill="none"/>
<path d="M108.8 648.1L134.1 652.2 159.8 655.8 183.4 658.6 205.3 660.6 223.6 661.7 240.1 662 252.4 661.5 257.6 660.9 261.7 660.1 265.8 658.3 266.9 656.9 266.8 655.4 265.7 653.8 263.8 652.2 259.9 649.8 255.2 647.6 243.7 643.2 227.7 638.2 209.5 633.4 188.2 628.4" stroke="#b43e1c" stroke-width="0.6" fill="none"/>
<path d="M210.5 522.8L145.1 512 54.1 563.8 90.8 579.8 129.3 598.5 168.8 619.6 208.7 642.5 211.6 642.3 223.3 627.7 234.3 615.1 244.8 604 256.3 592.8 265.8 584.6 274.9 577.4 283.7 571.1 293.7 564.9 303.4 559.8 312.9 555.6 322.2 552.5 331.5 550.3 340.8 549.1 350.1 548.9 359.5 549.8 367.7 551.5 327.3 541.6 287.1 533.4 248.6 527.2 211 522.8Z" fill="#0d3cd9" stroke="#0d3cd9" stroke-width="0.6" stroke-linejoin="round"/>
<path d="M210.5 522.8L145.1 512 54.1 563.8 90.8 579.8 127.9 597.8 164.3 617.1 208.6 642.2 211.6 642.3 223.3 627.7 234.3 615.1 244.8 604 256.3 592.8 265.8 584.6 274.9 577.4 283.7 571.1 293.7 564.9 303.4 559.8 312.9 555.6 322.2 552.5 331.5 550.3 340.8 549.1 350.1 548.9 359.5 549.8 367.7 551.5 327.3 541.6 287.1 533.4 248.6 527.2 211 522.8Z" fill="#0e45da" stroke="#0e45da" stroke-width="0.6" stroke-linejoin="round"/>
<path d="M210.5 522.8L145.1 512 54.1 563.8 84.9 577.1 116.3 592 160 614.7 205.3 640.5 211.2 641.4 213.6 639.7 225.2 625.5 236.1 613.1 244.8 604 254.7 594.3 264.3 585.9 274.9 577.4 283.7 571.1 293.7 564.9 303.4 559.8 312.9 555.6 322.2 552.5 331.5 550.3 340.8 549.1 350.1 548.9 359.5 549.8 367.7 551.5 327.3 541.6 287.1 533.4 248.6 527.2 211 522.8Z" fill="#0f4edb" stroke="#0f4edb" stroke-width="0.6" stroke-linejoin="round"/>
<path d="M210.5 522.8L145.1 512 54.1 563.8 89.1 579 125.1 596.4 162.1 615.9 201.9 638.5 204.9 639.3 210.8 640.1 213.6 639.7 225.2 625.5 236.1 613.1 246.5 602.3 258 591.4 267.3 583.3 276.4 576.3 285.1 570.1 295.1 564.1 304.7 559.1 314.2 555.1 323.6 552.1 332.8 550.1 342.1 549 350.1 548.9 359.5 549.8 367.7 551.5 327.3 541.6 287.1 533.4 248.6 527.2 211 522.8Z" fill="#1057dc" stroke="#1057dc" stroke-width="0.6" stroke-linejoin="round"/>
<path d="M210.5 522.8L145.1 512 54.1 563.8 88.2 578.6 123.8 595.8 160 614.7 198.6 636.6 201.6 637.7 213.4 639.3 215.6 637.2 225.2 625.5 236.1 613.1 246.5 602.3 256.3 592.8 265.8 584.6 276.4 576.3 285.1 570.1 295.1 564.1 304.7 559.1 314.2 555.1 323.6 552.1 332.8 550.1 342.1 549 350.1 548.9 359.5 549.8 367.7 551.5 327.3 541.6 287.1 533.4 248.6 527.2 211 522.8Z" fill="#115fdd" stroke="#115fdd" stroke-width="0.6" stroke-linejoin="round"/>
<path d="M210.5 522.8L145.1 512 54.1 563.8 87.4 578.2 122.5 595.1 157.9 613.6 195.5 634.7 198.5 636.1 213 638 215.6 637.2 225.2 625.5 236.1 613.1 246.5 602.3 258 591.4 267.3 583.3 276.4 576.3 285.1 570.1 295.1 564.1 304.7 559.1 314.2 555.1 323.6 552.1 332.8 550.1 342.1 549 350.1 548.9 359.5 549.8 367.7 551.5 327.3 541.6 287.1 533.4 248.6 527.2 211 522.8Z" fill="#1268de" stroke="#1268de" stroke-width="0.6" stroke-linejoin="round"/>
<path d="M210.5 522.8L145.1 512 54.1 563.8 87.4 578.2 121.2 594.5 155.9 612.5 195.4 634.5 215.5 637.2 225.2 625.5 236.1 613.1 246.5 602.3 256.3 592.8 265.8 584.6 276.4 576.3 285.1 570.1 295.1 564.1 304.7 559.1 314.2 555.1 323.6 552.1 332.8 550.1 342.1 549 350.1 548.9 359.5 549.8 367.7 551.5 327.3 541.6 287.1 533.4 248.6 527.2 211 522.8Z" fill="#1471e0" stroke="#1471e0" stroke-width="0.6" stroke-linejoin="round"/>
<path d="M210.5 522.8L145.1 512 54.1 563.8 87.4 578.2 121.2 594.5 155.9 612.5 192.4 633 215.1 636 217.5 634.8 227 623.3 237.9 611.2 248.2 600.6 259.5 590 268.9 582.1 277.9 575.2 286.6 569.2 296.4 563.3 306.1 558.5 315.5 554.6 324.9 551.8 332.8 550.1 342.1 549 350.1 548.9 359.5 549.8 367.7 551.5 327.3 541.6 287.1 533.4 248.6 527.2 211 522.8Z" fill="#157ae1" stroke="#157ae1" stroke-width="0.6" stroke-linejoin="round"/>
<path d="M210.5 522.8L145.1 512 54.1 563.8 86.5 577.9 119.9 593.8 154 611.5 189.5 631.2 214.6 634.7 217.5 634.8 228.9 621.2 239.6 609.3 249.8 599 261.1 588.6 270.4 580.8 279.3 574.1 288 568.3 296.4 563.3 306.1 558.5 315.5 554.6 324.9 551.8 332.8 550.1 342.1 549 350.1 548.9 359.5 549.8 367.7 551.5 327.3 541.6 287.1 533.4 248.6 527.2 211 522.8Z" fill="#1683e2" stroke="#1683e2" stroke-width="0.6" stroke-linejoin="round"/>
<path d="M210.5 522.8L145.1 512 54.1 563.8 85.7 577.5 118.7 593.2 152.1 610.5 186.6 629.6 217.2 633.9 219.5 632.4 230.7 619.1 243.1 605.7 259.5 590 268.9 582.1 277.9 575.2 286.6 569.2 296.4 563.3 306.1 558.5 315.5 554.6 324.9 551.8 332.8 550.1 342.1 549 350.1 548.9 359.5 549.8 367.7 551.5 327.3 541.6 287.1 533.4 248.6 527.2 211 522.8Z" fill="#178be3" stroke="#178be3" stroke-width="0.6" stroke-linejoin="round"/>
<path d="M210.5 522.8L145.1 512 54.1 563.8 85.7 577.5 117.5 592.6 150.2 609.5 183.8 628 186.4 628.6 216.7 632.6 219.5 632.4 230.7 619.1 241.4 607.5 251.5 597.4 262.7 587.2 271.9 579.7 280.8 573.1 289.4 567.4 297.8 562.6 307.4 557.9 316.9 554.2 326.2 551.4 334.2 549.9 343.4 548.9 351.4 548.9 359.5 549.8 367.7 551.5 327.3 541.6 287.1 533.4 248.6 527.2 211 522.8Z" fill="#1894e4" stroke="#1894e4" stroke-width="0.6" stroke-linejoin="round"/>
<path d="M210.5 522.8L145.1 512 54.1 563.8 84.9 577.1 116.3 592 148.4 608.5 181.1 626.5 183.6 627.1 219.2 631.8 221.4 630 232.5 617.1 243.1 605.7 251.5 597.4 261.1 588.6 270.4 580.8 279.3 574.1 288 568.3 297.8 562.6 307.4 557.9 316.9 554.2 326.2 551.4 334.2 549.9 343.4 548.9 351.4 548.9 359.5 549.8 367.7 551.5 327.3 541.6 287.1 533.4 248.6 527.2 211 522.8Z" fill="#199de5" stroke="#199de5" stroke-width="0.6" stroke-linejoin="round"/>
<path d="M210.5 522.8L145.1 512 54.1 563.8 84 576.7 115.1 591.4 146.6 607.5 178.5 625 180.9 625.6 218.7 630.5 221.4 630 230.7 619.1 241.4 607.5 251.5 597.4 262.7 587.2 271.9 579.7 280.8 573.1 289.4 567.4 297.8 562.6 307.4 557.9 316.9 554.2 326.2 551.4 334.2 549.9 343.4 548.9 351.4 548.9 359.5 549.8 367.7 551.5 327.3 541.6 287.1 533.4 248.6 527.2 211 522.8Z" fill="#1aa6e6" stroke="#1aa6e6" stroke-width="0.6" stroke-linejoin="round"/>
<path d="M210.5 522.8L145.1 512 54.1 563.8 83.2 576.4 113.9 590.8 144.9 606.6 176 623.6 221.2 629.6 223.3 627.7 232.5 617.1 243.1 605.7 251.5 597.4 261.1 588.6 270.4 580.8 279.3 574.1 288 568.3 297.8 562.6 307.4 557.9 316.9 554.2 326.2 551.4 334.2 549.9 343.4 548.9 351.4 548.9 359.5 549.8 367.7 551.5 327.3 541.6 287.1 533.4 248.6 527.2 211 522.8Z" fill="#1baee7" stroke="#1baee7" stroke-width="0.6" stroke-linejoin="round"/>
<path d="M210.5 522.8L145.1 512 54.1 563.8 83.2 576.4 112.8 590.3 143.2 605.7 173.5 622.2 220.7 628.4 223.3 627.7 232.5 617.1 243.1 605.7 253.1 595.8 264.3 585.9 273.4 578.5 282.2 572.1 290.8 566.6 299.2 561.8 307.4 557.9 316.9 554.2 326.2 551.4 334.2 549.9 343.4 548.9 351.4 548.9 359.5 549.8 367.7 551.5 327.3 541.6 287.1 533.4 248.6 527.2 211 522.8Z" fill="#1db7e9" stroke="#1db7e9" stroke-width="0.6" stroke-linejoin="round"/>
<path d="M210.5 522.8L145.1 512 54.1 563.8 81.6 575.6 110.5 589.2 139.9 604 171.1 620.8 223.2 627.5 244.8 604 253.1 595.8 262.7 587.2 271.9 579.7 280.8 573.1 289.4 567.4 299.2 561.8 307.4 557.9 316.9 554.2 326.2 551.4 334.2 549.9 343.4 548.9 351.4 548.9 359.5 549.8 367.7 551.5 327.3 541.6 287.1 533.4 248.6 527.2 211 522.8Z" fill="#1ec0ea" stroke="#1ec0ea" stroke-width="0.6" stroke-linejoin="round"/>
<path d="M210.5 522.8L145.1 512 54.1 563.8 80.8 575.3 108.3 588.1 135.1 601.5 168.7 619.3 222.6 626.2 225.2 625.5 234.3 615.1 244.8 604 254.7 594.3 264.3 585.9 273.4 578.5 282.2 572.1 290.8 566.6 299.2 561.8 307.4 557.9 316.9 554.2 326.2 551.4 334.2 549.9 343.4 548.9 351.4 548.9 359.5 549.8 367.7 551.5 327.3 541.6 287.1 533.4 248.6 527.2 211 522.8Z" fill="#1fc9eb" stroke="#1fc9eb" stroke-width="0.6" stroke-linejoin="round"/>
<path d="M210.5 522.8L145.1 512 54.1 563.8 80.8 575.3 108.3 588.1 136.7 602.3 164.3 617.1 166.4 617.8 225.1 625.3 244.8 604 253.1 595.8 262.7 587.2 271.9 579.7 280.8 573.1 289.4 567.4 299.2 561.8 307.4 557.9 316.9 554.2 326.2 551.4 334.2 549.9 343.4 548.9 351.4 548.9 359.5 549.8 367.7 551.5 327.3 541.6 287.1 533.4 248.6 527.2 211 522.8Z" fill="#20d2ec" stroke="#20d2ec" stroke-width="0.6" stroke-linejoin="round"/>
<path d="M210.5 522.8L145.1 512 54.1 563.8 80 574.9 107.2 587.6 133.6 600.8 162.1 615.9 224.5 624.1 227 623.3 236.1 613.1 246.5 602.3 256.3 592.8 265.8 584.6 274.9 577.4 283.7 571.1 292.2 565.7 300.6 561.1 308.8 557.3 318.2 553.7 327.5 551.1 335.5 549.7 343.4 548.9 351.4 548.9 359.5 549.8 367.7 551.5 327.3 541.6 287.1 533.4 248.6 527.2 211 522.8Z" fill="#21daed" stroke="#21daed" stroke-width="0.6" stroke-linejoin="round"/>
<path d="M210.5 522.8L145.1 512 54.1 563.8 79.2 574.6 105.1 586.6 130.7 599.3 160 614.7 227 623.2 246.5 602.3 264.3 585.9 273.4 578.5 282.2 572.1 290.8 566.6 300.6 561.1 308.8 557.3 318.2 553.7 327.5 551.1 335.5 549.7 343.4 548.9 351.4 548.9 359.5 549.8 367.7 551.5 327.3 541.6 287.1 533.4 248.6 527.2 211 522.8Z" fill="#22e3ee" stroke="#22e3ee" stroke-width="0.6" stroke-linejoin="round"/>
<path d="M210.5 522.8L145.1 512 54.1 563.8 77.7 573.9 102.1 585.1 123.8 595.8 155.9 612.5 157.9 613.2 226.3 621.9 228.9 621.2 237.9 611.2 248.2 600.6 258 591.4 267.3 583.3 276.4 576.3 285.1 570.1 293.7 564.9 302 560.4 310.2 556.7 319.6 553.3 327.5 551.1 335.5 549.7 343.4 548.9 351.4 548.9 359.5 549.8 367.7 551.5 327.3 541.6 287.1 533.4 248.6 527.2 211 522.8Z" fill="#23ecef" stroke="#23ecef" stroke-width="0.6" stroke-linejoin="round"/>
<path d="M210.5 522.8L145.1 512 54.1 563.8 78.4 574.2 103.1 585.6 127.9 597.8 154 611.5 228.8 621 248.2 600.6 265.8 584.6 274.9 577.4 283.7 571.1 292.2 565.7 302 560.4 310.2 556.7 319.6 553.3 327.5 551.1 335.5 549.7 343.4 548.9 351.4 548.9 359.5 549.8 367.7 551.5 327.3 541.6 287.1 533.4 248.6 527.2 211 522.8Z" fill="#24f0eb" stroke="#24f0eb" stroke-width="0.6" stroke-linejoin="round"/>
<path d="M210.5 522.8L145.1 512 54.1 563.8 76.9 573.5 100.1 584.2 152.1 610.2 228.1 619.7 230.7 619.1 239.6 609.3 249.8 599 259.5 590 268.9 582.1 285.1 570.1 293.7 564.9 302 560.4 310.2 556.7 319.6 553.3 327.5 551.1 335.5 549.7 343.4 548.9 351.4 548.9 359.5 549.8 367.7 551.5 327.3 541.6 287.1 533.4 248.6 527.2 211 522.8Z" fill="#23efe4" stroke="#23efe4" stroke-width="0.6" stroke-linejoin="round"/>
<path d="M210.5 522.8L145.1 512 54.1 563.8 76.9 573.5 100.1 584.2 123.8 595.8 148.4 608.5 230.6 618.8 249.8 599 267.3 583.3 276.4 576.3 285.1 570.1 293.7 564.9 302 560.4 310.2 556.7 319.6 553.3 327.5 551.1 335.5 549.7 343.4 548.9 351.4 548.9 359.5 549.8 367.7 551.5 327.3 541.6 287.1 533.4 248.6 527.2 211 522.8Z" fill="#23efdc" stroke="#23efdc" stroke-width="0.6" stroke-linejoin="round"/>
<path d="M210.5 522.8L145.1 512 54.1 563.8 76.1 573.2 98.1 583.3 121.2 594.5 144.9 606.6 146.6 607.1 173.5 610.7 229.9 617.5 232.5 617.1 241.4 607.5 251.5 597.4 261.1 588.6 270.4 580.8 286.6 569.2 295.1 564.1 303.4 559.8 311.5 556.2 320.9 552.9 328.9 550.8 336.8 549.5 344.8 548.9 352.8 549 360.8 550 367.7 551.5 327.3 541.6 287.1 533.4 248.6 527.2 211 522.8Z" fill="#23efd4" stroke="#23efd4" stroke-width="0.6" stroke-linejoin="round"/>
<path d="M210.5 522.8L145.1 512 54.1 563.8 74.6 572.5 96.3 582.4 143.2 605.5 232.3 616.6 234.3 615.1 243.1 605.7 253.1 595.8 268.9 582.1 277.9 575.2 286.6 569.2 295.1 564.1 303.4 559.8 311.5 556.2 320.9 552.9 328.9 550.8 336.8 549.5 344.8 548.9 352.8 549 360.8 550 367.7 551.5 327.3 541.6 287.1 533.4 248.6 527.2 211 522.8Z" fill="#23efcc" stroke="#23efcc" stroke-width="0.6" stroke-linejoin="round"/>
<path d="M210.5 522.8L145.1 512 54.1 563.8 74.6 572.5 95.3 581.9 139.9 603.9 186.1 609.9 231.5 615.3 234.3 615.1 244.8 604 254.7 594.3 264.3 585.9 273.4 578.5 289.4 567.4 304.7 559.1 312.9 555.6 320.9 552.9 328.9 550.8 336.8 549.5 344.8 548.9 352.8 549 360.8 550 367.7 551.5 327.3 541.6 287.1 533.4 248.6 527.2 211 522.8Z" fill="#23efc4" stroke="#23efc4" stroke-width="0.6" stroke-linejoin="round"/>
<path d="M210.5 522.8L145.1 512 54.1 563.8 73.9 572.2 94.4 581.5 136.7 602.3 185.8 608.7 233.9 614.4 236.1 613.1 246.5 602.3 256.3 592.8 271.9 579.7 288 568.3 296.4 563.3 304.7 559.1 312.9 555.6 320.9 552.9 328.9 550.8 336.8 549.5 344.8 548.9 352.8 549 360.8 550 367.7 551.5 327.3 541.6 287.1 533.4 248.6 527.2 211 522.8Z" fill="#22eebc" stroke="#22eebc" stroke-width="0.6" stroke-linejoin="round"/>
<path d="M210.5 522.8L145.1 512 54.1 563.8 93.5 581.1 133.6 600.8 181 606.9 233.2 613.1 236.1 613.1 246.5 602.3 256.3 592.8 265.8 584.6 274.9 577.4 290.8 566.6 306.1 558.5 314.2 555.1 322.2 552.5 330.2 550.6 338.1 549.3 346.1 548.8 352.8 549 360.8 550 367.7 551.5 327.3 541.6 287.1 533.4 248.6 527.2 211 522.8Z" fill="#22eeb4" stroke="#22eeb4" stroke-width="0.6" stroke-linejoin="round"/>
<path d="M210.5 522.8L145.1 512 54.1 563.8 91.7 580.2 130.7 599.3 182.9 606 235.5 612.1 237.9 611.2 246.5 602.3 256.3 592.8 273.4 578.5 289.4 567.4 297.8 562.6 306.1 558.5 314.2 555.1 322.2 552.5 330.2 550.6 338.1 549.3 346.1 548.8 352.8 549 360.8 550 367.7 551.5 327.3 541.6 287.1 533.4 248.6 527.2 211 522.8Z" fill="#22eeac" stroke="#22eeac" stroke-width="0.6" stroke-linejoin="round"/>
<path d="M210.5 522.8L145.1 512 54.1 563.8 89.9 579.4 127.9 597.7 182.6 604.8 237.9 611.2 254.7 594.3 271.9 579.7 280.8 573.1 289.4 567.4 297.8 562.6 306.1 558.5 314.2 555.1 322.2 552.5 330.2 550.6 338.1 549.3 346.1 548.8 352.8 549 360.8 550 367.7 551.5 327.3 541.6 287.1 533.4 248.6 527.2 211 522.8Z" fill="#22eea5" stroke="#22eea5" stroke-width="0.6" stroke-linejoin="round"/>
<path d="M210.5 522.8L145.1 512 54.1 563.8 86.5 577.9 125.2 596.2 180.1 603.3 237 609.9 239.6 609.3 248.2 600.6 258 591.4 267.3 583.3 276.4 576.3 290.8 566.6 306.1 558.5 314.2 555.1 322.2 552.5 330.2 550.6 338.1 549.3 346.1 548.8 352.8 549 360.8 550 367.7 551.5 327.3 541.6 287.1 533.4 248.6 527.2 211 522.8Z" fill="#21ed9d" stroke="#21ed9d" stroke-width="0.6" stroke-linejoin="round"/>
<path d="M210.5 522.8L145.1 512 54.1 563.8 87.4 578.2 121.2 594.5 177.7 601.9 239.3 608.9 241.4 607.5 249.8 599 259.5 590 274.9 577.4 290.8 566.6 306.1 558.5 314.2 555.1 322.2 552.5 330.2 550.6 338.1 549.3 346.1 548.8 352.8 549 360.8 550 367.7 551.5 327.3 541.6 287.1 533.4 248.6 527.2 211 522.8Z" fill="#21ed95" stroke="#21ed95" stroke-width="0.6" stroke-linejoin="round"/>
<path d="M210.5 522.8L145.1 512 54.1 563.8 84 576.7 118.7 593.1 179.4 600.9 238.5 607.6 241.4 607.5 249.8 599 259.5 590 268.9 582.1 277.9 575.2 292.2 565.7 299.2 561.8 307.4 557.9 315.5 554.6 323.6 552.1 331.5 550.3 338.1 549.3 346.1 548.8 352.8 549 360.8 550 367.7 551.5 327.3 541.6 287.1 533.4 248.6 527.2 211 522.8Z" fill="#21ed8d" stroke="#21ed8d" stroke-width="0.6" stroke-linejoin="round"/>
<path d="M210.5 522.8L145.1 512 54.1 563.8 84 576.7 115.1 591.4 177.1 599.4 240.7 606.6 243.1 605.7 251.5 597.4 261.1 588.6 277.9 575.2 292.2 565.7 299.2 561.8 307.4 557.9 315.5 554.6 323.6 552.1 331.5 550.3 338.1 549.3 346.1 548.8 352.8 549 360.8 550 367.7 551.5 327.3 541.6 287.1 533.4 248.6 527.2 211 522.8Z" fill="#21ed85" stroke="#21ed85" stroke-width="0.6" stroke-linejoin="round"/>
<path d="M210.5 522.8L145.1 512 54.1 563.8 79.2 574.6 112.8 590 178.8 598.5 243 605.7 259.5 590 276.4 576.3 292.2 565.7 299.2 561.8 307.4 557.9 315.5 554.6 323.6 552.1 331.5 550.3 338.1 549.3 346.1 548.8 352.8 549 360.8 550 367.7 551.5 327.3 541.6 287.1 533.4 248.6 527.2 211 522.8Z" fill="#21ed7d" stroke="#21ed7d" stroke-width="0.6" stroke-linejoin="round"/>
<path d="M210.5 522.8L145.1 512 54.1 563.8 78.4 574.2 109.5 588.4 176.5 597 242.1 604.3 244.8 604 253.1 595.8 262.7 587.2 279.3 574.1 293.7 564.9 300.6 561.1 308.8 557.3 316.9 554.2 324.9 551.8 332.8 550.1 339.5 549.2 347.4 548.8 354.1 549.1 360.8 550 367.7 551.5 327.3 541.6 287.1 533.4 248.6 527.2 211 522.8Z" fill="#20ec75" stroke="#20ec75" stroke-width="0.6" stroke-linejoin="round"/>
<path d="M210.5 522.8L145.1 512 54.1 563.8 76.1 573.2 106.2 586.9 176.2 595.8 244.3 603.3 246.5 602.3 256.3 592.8 265.8 584.6 279.3 574.1 293.7 564.9 300.6 561.1 308.8 557.3 316.9 554.2 324.9 551.8 332.8 550.1 339.5 549.2 347.4 548.8 354.1 549.1 360.8 550 367.7 551.5 327.3 541.6 287.1 533.4 248.6 527.2 211 522.8Z" fill="#20ec6e" stroke="#20ec6e" stroke-width="0.6" stroke-linejoin="round"/>
<path d="M210.5 522.8L145.1 512 54.1 563.8 77.7 573.9 102.1 585.1 172 594.1 243.3 602 246.5 602.3 264.3 585.9 273.4 578.5 282.2 572.1 296.4 563.3 310.2 556.7 318.2 553.7 324.9 551.8 332.8 550.1 339.5 549.2 347.4 548.8 354.1 549.1 360.8 550 367.7 551.5 327.3 541.6 287.1 533.4 248.6 527.2 211 522.8Z" fill="#20ec66" stroke="#20ec66" stroke-width="0.6" stroke-linejoin="round"/>
<path d="M210.5 522.8L145.1 512 54.1 563.8 74.6 572.5 99.1 583.6 171.7 592.9 245.5 601 248.2 600.6 265.8 584.6 282.2 572.1 296.4 563.3 303.4 559.8 311.5 556.2 319.6 553.3 326.2 551.4 334.2 549.9 340.8 549.1 347.4 548.8 354.1 549.1 360.8 550 367.7 551.5 327.3 541.6 287.1 533.4 248.6 527.2 211 522.8Z" fill="#20ec5e" stroke="#20ec5e" stroke-width="0.6" stroke-linejoin="round"/>
<path d="M210.5 522.8L145.1 512 54.1 563.8 74.6 572.5 95.3 581.9 169.6 591.5 247.6 600 249.8 599 259.5 590 268.9 582.1 282.2 572.1 296.4 563.3 303.4 559.8 311.5 556.2 319.6 553.3 326.2 551.4 334.2 549.9 340.8 549.1 347.4 548.8 354.1 549.1 360.8 550 367.7 551.5 327.3 541.6 287.1 533.4 248.6 527.2 211 522.8Z" fill="#1feb56" stroke="#1feb56" stroke-width="0.6" stroke-linejoin="round"/>
<path d="M210.5 522.8L145.1 512 54.1 563.8 92.7 580.5 171.2 590.5 249.8 599 265.8 584.6 280.8 573.1 296.4 563.3 303.4 559.8 311.5 556.2 319.6 553.3 326.2 551.4 334.2 549.9 340.8 549.1 347.4 548.8 354.1 549.1 360.8 550 367.7 551.5 327.3 541.6 287.1 533.4 248.6 527.2 211 522.8Z" fill="#1feb4e" stroke="#1feb4e" stroke-width="0.6" stroke-linejoin="round"/>
<path d="M210.5 522.8L145.1 512 54.1 563.8 89.2 578.9 169.1 589.1 248.7 597.6 251.5 597.4 268.9 582.1 285.1 570.1 299.2 561.8 312.9 555.6 320.9 552.9 327.5 551.1 340.8 549.1 347.4 548.8 354.1 549.1 360.8 550 367.7 551.5 327.3 541.6 287.1 533.4 248.6 527.2 211 522.8Z" fill="#1feb46" stroke="#1feb46" stroke-width="0.6" stroke-linejoin="round"/>
<path d="M210.5 522.8L145.1 512 54.1 563.8 85.8 577.3 168.8 587.9 250.8 596.6 253.1 595.8 268.9 582.1 285.1 570.1 299.2 561.8 312.9 555.6 320.9 552.9 327.5 551.1 340.8 549.1 347.4 548.8 354.1 549.1 360.8 550 367.7 551.5 327.3 541.6 287.1 533.4 248.6 527.2 211 522.8Z" fill="#1feb3e" stroke="#1feb3e" stroke-width="0.6" stroke-linejoin="round"/>
<path d="M210.5 522.8L145.1 512 54.1 563.8 81.6 575.6 166.8 586.5 210.1 591.3 252.9 595.6 254.7 594.3 270.4 580.8 283.7 571.1 297.8 562.6 304.7 559.1 312.9 555.6 320.9 552.9 327.5 551.1 340.8 549.1 347.4 548.8 354.1 549.1 360.8 550 367.7 551.5 327.3 541.6 287.1 533.4 248.6 527.2 211 522.8Z" fill="#1feb36" stroke="#1feb36" stroke-width="0.6" stroke-linejoin="round"/>
<path d="M210.5 522.8L145.1 512 54.1 563.8 78.6 574 121.4 579.8 164.9 585.1 209.4 590 251.6 594.2 254.7 594.3 271.9 579.7 288 568.3 300.6 561.1 314.2 555.1 322.2 552.5 328.9 550.8 342.1 549 348.8 548.8 355.5 549.2 367.7 551.5 327.3 541.6 287.1 533.4 248.6 527.2 211 522.8Z" fill="#1eea2f" stroke="#1eea2f" stroke-width="0.6" stroke-linejoin="round"/>
<path d="M210.5 522.8L145.1 512 54.1 563.8 74.7 572.4 119.3 578.4 164.6 583.9 208.7 588.8 253.6 593.2 256.3 592.8 271.9 579.7 288 568.3 300.6 561.1 314.2 555.1 322.2 552.5 328.9 550.8 342.1 549 348.8 548.8 355.5 549.2 367.7 551.5 327.3 541.6 287.1 533.4 248.6 527.2 211 522.8Z" fill="#1eea27" stroke="#1eea27" stroke-width="0.6" stroke-linejoin="round"/>
<path d="M210.5 522.8L145.1 512 54.1 563.8 70.2 570.6 71.9 570.8 117.4 577 162.8 582.5 208 587.5 252.4 591.8 255.6 592.1 258 591.4 273.4 578.5 288 568.3 302 560.4 308.8 557.3 316.9 554.2 330.2 550.6 336.8 549.5 343.4 548.9 355.5 549.2 367.7 551.5 327.3 541.6 287.1 533.4 248.6 527.2 211 522.8Z" fill="#1eea1f" stroke="#1eea1f" stroke-width="0.6" stroke-linejoin="round"/>
<path d="M210.5 522.8L145.1 512 54.1 563.8 66.6 569 87.8 571.9 167.5 581.9 247.9 590.1 257.6 591 259.5 590 276.4 576.3 289.4 567.4 303.4 559.8 310.2 556.7 318.2 553.7 331.5 550.3 343.4 548.9 355.5 549.2 367.7 551.5 327.3 541.6 287.1 533.4 248.6 527.2 211 522.8Z" fill="#26ea1e" stroke="#26ea1e" stroke-width="0.6" stroke-linejoin="round"/>
<path d="M210.5 522.8L145.1 512 54.1 563.8 63.2 567.4 107.4 573.4 177.7 581.8 246.6 588.8 259.5 589.9 274.9 577.4 289.4 567.4 304.7 559.1 311.5 556.2 319.6 553.3 332.8 550.1 344.8 548.9 356.8 549.4 367.7 551.5 327.3 541.6 287.1 533.4 248.6 527.2 211 522.8Z" fill="#2eeb1f" stroke="#2eeb1f" stroke-width="0.6" stroke-linejoin="round"/>
<path d="M210.5 522.8L145.1 512 54.1 563.8 59 565.7 124.9 574.5 184.8 581.4 242.4 587.2 261.1 588.6 276.4 576.3 292.2 565.7 299.2 561.8 307.4 557.9 315.5 554.6 322.2 552.5 334.2 549.9 344.8 548.9 356.8 549.4 367.7 551.5 327.3 541.6 287.1 533.4 248.6 527.2 211 522.8Z" fill="#37ec20" stroke="#37ec20" stroke-width="0.6" stroke-linejoin="round"/>
<path d="M210.5 522.8L145.1 512 54.1 563.8 95.9 569.6 144.7 575.7 192.1 581 238.2 585.5 259.9 587.5 262.7 587.2 277.9 575.2 293.7 564.9 300.6 561.1 308.8 557.3 316.9 554.2 324.9 551.8 335.5 549.7 346.1 548.8 356.8 549.4 367.7 551.5 327.3 541.6 287.1 533.4 248.6 527.2 211 522.8Z" fill="#40ec20" stroke="#40ec20" stroke-width="0.6" stroke-linejoin="round"/>
<path d="M210.5 522.8L145.1 512 55 562.9 100.1 569 146 574.7 191.5 579.7 237 584.2 261.7 586.3 264.3 585.9 279.3 574.1 295.1 564.1 302 560.4 310.2 556.7 318.2 553.7 324.9 551.8 335.5 549.7 346.1 548.8 356.8 549.4 367.7 551.5 327.3 541.6 287.1 533.4 248.6 527.2 211 522.8Z" fill="#48ed21" stroke="#48ed21" stroke-width="0.6" stroke-linejoin="round"/>
<path d="M210.5 522.8L145.1 512 56.1 561.9 98.8 567.7 143.4 573.2 189 578.3 233 582.6 263.5 585.2 265.8 584.6 279.3 574.1 293.7 564.9 306.1 558.5 318.2 553.7 331.5 550.3 343.4 548.9 355.5 549.2 367.7 551.5 327.3 541.6 287.1 533.4 248.6 527.2 211 522.8Z" fill="#51ed21" stroke="#51ed21" stroke-width="0.6" stroke-linejoin="round"/>
<path d="M210.5 522.8L145.1 512 57.1 560.9 99.4 566.7 142.1 571.9 186.5 576.8 229.1 581 265.2 584.1 267.3 583.3 280.8 573.1 295.1 564.1 307.4 557.9 319.6 553.3 332.8 550.1 344.8 548.9 356.8 549.4 367.7 551.5 327.3 541.6 287.1 533.4 248.6 527.2 211 522.8Z" fill="#5aee22" stroke="#5aee22" stroke-width="0.6" stroke-linejoin="round"/>
<path d="M210.5 522.8L145.1 512 58.1 559.9 99.9 565.6 142.1 570.7 185.9 575.6 228 579.7 266.9 582.9 268.9 582.1 283.7 571.1 295.1 564.1 307.4 557.9 319.6 553.3 332.8 550.1 344.8 548.9 356.8 549.4 367.7 551.5 327.3 541.6 287.1 533.4 248.6 527.2 211 522.8Z" fill="#62ef23" stroke="#62ef23" stroke-width="0.6" stroke-linejoin="round"/>
<path d="M210.5 522.8L145.1 512 59.1 559 99.6 564.4 140.9 569.4 183.5 574.1 224.2 578.1 268.5 581.8 270.4 580.8 285.1 570.1 296.4 563.3 308.8 557.3 320.9 552.9 332.8 550.1 344.8 548.9 356.8 549.4 367.7 551.5 327.3 541.6 287.1 533.4 248.6 527.2 211 522.8Z" fill="#6bef23" stroke="#6bef23" stroke-width="0.6" stroke-linejoin="round"/>
<path d="M210.5 522.8L145.1 512 60.2 558 139.8 568.1 220.6 576.5 270.1 580.6 285.1 570.1 296.4 563.3 308.8 557.3 320.9 552.9 332.8 550.1 344.8 548.9 356.8 549.4 367.7 551.5 327.3 541.6 287.1 533.4 248.6 527.2 211 522.8Z" fill="#74f024" stroke="#74f024" stroke-width="0.6" stroke-linejoin="round"/>
<path d="M210.5 522.8L145.1 512 61.3 557 139.9 567 219.5 575.2 271.6 579.4 286.6 569.2 297.8 562.6 310.2 556.7 322.2 552.5 334.2 549.9 344.8 548.9 356.8 549.4 367.7 551.5 327.3 541.6 287.1 533.4 248.6 527.2 211 522.8Z" fill="#7cf024" stroke="#7cf024" stroke-width="0.6" stroke-linejoin="round"/>
<path d="M210.5 522.8L145.1 512 62.3 556 138.8 565.7 216 573.6 273.1 578.2 274.9 577.4 288 568.3 299.2 561.8 310.2 556.7 322.2 552.5 334.2 549.9 344.8 548.9 356.8 549.4 367.7 551.5 327.3 541.6 287.1 533.4 248.6 527.2 211 522.8Z" fill="#85f125" stroke="#85f125" stroke-width="0.6" stroke-linejoin="round"/>
<path d="M210.5 522.8L145.1 512 63.4 555 137.8 564.4 212.7 572.1 274.4 577 276.4 576.3 290.8 566.6 300.6 561.1 311.5 556.2 323.6 552.1 335.5 549.7 346.1 548.8 356.8 549.4 367.7 551.5 327.3 541.6 287.1 533.4 248.6 527.2 211 522.8Z" fill="#8df226" stroke="#8df226" stroke-width="0.6" stroke-linejoin="round"/>
<path d="M210.5 522.8L145.1 512 64.5 554.1 136.8 563.1 209.4 570.5 275.7 575.8 277.9 575.2 289.4 567.4 302 560.4 312.9 555.6 323.6 552.1 335.5 549.7 346.1 548.8 356.8 549.4 367.7 551.5 327.3 541.6 287.1 533.4 248.6 527.2 211 522.8Z" fill="#96f226" stroke="#96f226" stroke-width="0.6" stroke-linejoin="round"/>
<path d="M210.5 522.8L145.1 512 65.7 553.1 135.8 561.8 206.2 569 276.9 574.6 279.3 574.1 290.8 566.6 303.4 559.8 314.2 555.1 324.9 551.8 335.5 549.7 346.1 548.8 356.8 549.4 367.7 551.5 327.3 541.6 287.1 533.4 248.6 527.2 211 522.8Z" fill="#9ff327" stroke="#9ff327" stroke-width="0.6" stroke-linejoin="round"/>
<path d="M210.5 522.8L145.1 512 66.8 552.1 134.9 560.5 203.2 567.5 255.4 571.8 278.1 573.3 280.8 573.1 292.2 565.7 303.4 559.8 315.5 554.6 326.2 551.4 336.8 549.5 347.4 548.8 358.1 549.6 367.7 551.5 327.3 541.6 287.1 533.4 248.6 527.2 211 522.8Z" fill="#a7f327" stroke="#a7f327" stroke-width="0.6" stroke-linejoin="round"/>
<path d="M210.5 522.8L145.1 512 67.9 551.1 134.1 559.2 200.2 566 247.7 569.9 282.2 572.1 293.7 564.9 304.7 559.1 315.5 554.6 326.2 551.4 336.8 549.5 347.4 548.8 358.1 549.6 367.7 551.5 327.3 541.6 287.1 533.4 248.6 527.2 211 522.8Z" fill="#b0f428" stroke="#b0f428" stroke-width="0.6" stroke-linejoin="round"/>
<path d="M210.5 522.8L145.1 512 69.1 550.1 133.3 558 197.3 564.5 243 568.3 283.5 571 296.4 563.3 306.1 558.5 316.9 554.2 327.5 551.1 338.1 549.3 347.4 548.8 358.1 549.6 367.7 551.5 327.3 541.6 287.1 533.4 248.6 527.2 211 522.8Z" fill="#b9f529" stroke="#b9f529" stroke-width="0.6" stroke-linejoin="round"/>
<path d="M210.5 522.8L145.1 512 70.3 549.1 132.5 556.7 194.6 563 241.2 566.9 284.2 569.7 286.6 569.2 297.8 562.6 308.8 557.3 319.6 553.3 328.9 550.8 339.5 549.2 348.8 548.8 358.1 549.6 367.7 551.5 327.3 541.6 287.1 533.4 248.6 527.2 211 522.8Z" fill="#c1f529" stroke="#c1f529" stroke-width="0.6" stroke-linejoin="round"/>
<path d="M210.5 522.8L145.1 512 71.5 548.1 131.8 555.4 191.9 561.5 247.5 566 288 568.3 297.8 562.6 308.8 557.3 319.6 553.3 328.9 550.8 338.1 549.3 347.4 548.8 356.8 549.4 366.3 551.1 327.3 541.6 287.1 533.4 248.6 527.2 211 522.8Z" fill="#caf62a" stroke="#caf62a" stroke-width="0.6" stroke-linejoin="round"/>
<path d="M210.5 522.8L145.1 512 72.7 547.1 131.1 554.2 189.3 560 242.8 564.4 288.9 567.1 290.8 566.6 300.6 561.1 310.2 556.7 319.6 553.3 328.9 550.8 338.1 549.3 347.4 548.8 356.8 549.4 364.9 550.8 324.8 541 285.7 533.1 247.9 527.1 211 522.8Z" fill="#d3f72b" stroke="#d3f72b" stroke-width="0.6" stroke-linejoin="round"/>
<path d="M210.5 522.8L145.1 512 73.9 546.1 130.5 552.9 186.8 558.6 246.2 563.3 292.2 565.7 300.6 561.1 310.2 556.7 319.6 553.3 328.9 550.8 338.1 549.3 346.1 548.8 354.1 549.1 363.4 550.4 349.8 546.8 324.8 541 285.7 533.1 247.9 527.1 211 522.8Z" fill="#dbf72b" stroke="#dbf72b" stroke-width="0.6" stroke-linejoin="round"/>
<path d="M210.3 522.7L145.1 512 75.2 545.1 131.6 551.8 189.2 557.5 244 561.9 292.8 564.5 295.1 564.1 303.4 559.8 312.9 555.6 320.9 552.9 328.9 550.8 336.8 549.5 344.8 548.9 352.8 549 360.7 549.9 345.7 545.8 324.8 541 285.7 533.1 247.9 527.1 210.9 522.8Z" fill="#e4f82c" stroke="#e4f82c" stroke-width="0.6" stroke-linejoin="round"/>
<path d="M209.3 522.2L145.1 512 76.5 544.1 134.4 550.9 193.2 556.6 247.2 560.7 296.1 563.2 314.2 555.1 322.2 552.5 328.9 550.8 336.8 549.5 344.8 548.9 352.8 549 359.5 549.8 349.1 546.7 334.1 543 288.6 533.6 253.5 527.9 209.8 522.3Z" fill="#edf82c" stroke="#edf82c" stroke-width="0.6" stroke-linejoin="round"/>
<path d="M208.2 521.7L145.1 512 77.8 543.1 136.4 549.9 195.5 555.6 250.2 559.6 299.1 561.8 314.2 555.1 327.5 551.1 340.8 549.1 348.8 548.8 356.8 549.4 356.3 549.1 344.7 545.6 330.2 542 290.1 533.9 257.8 528.5 208.7 521.7Z" fill="#f5f92d" stroke="#f5f92d" stroke-width="0.6" stroke-linejoin="round"/>
<path d="M207 521.1L145.1 512 79.1 542.1 139.2 549 199.6 554.6 255.9 558.6 301.8 560.4 315.5 554.6 328.9 550.8 340.8 549.1 354.2 548.9 345.3 545.9 333.2 542.7 299.7 535.5 257 528.3 207.6 521.2Z" fill="#f8f12c" stroke="#f8f12c" stroke-width="0.6" stroke-linejoin="round"/>
<path d="M205.9 520.6L145.1 512 80.5 541.1 141 548 201.8 553.5 258.6 557.3 304.1 558.9 306.1 558.5 318.2 553.7 326.2 551.4 339.5 549.2 351.4 548.9 349.2 547.7 340.5 544.8 328.9 541.6 296.4 534.7 254.8 527.6 206.4 520.7Z" fill="#f6e22a" stroke="#f6e22a" stroke-width="0.6" stroke-linejoin="round"/>
<path d="M204.7 520.1L145.1 512 81.9 540.1 145.5 547.2 207.6 552.7 264 556.2 287.7 557 308.8 557.3 319.6 553.3 328.9 550.8 339.5 549.2 348.8 548.8 341.5 545.5 332.6 542.7 321.2 539.7 290.2 533.3 250.8 526.6 205.2 520.2Z" fill="#f4d428" stroke="#f4d428" stroke-width="0.6" stroke-linejoin="round"/>
<path d="M203.5 519.6L145.1 512 83.3 539.1 149.1 546.3 213.6 551.8 269.2 555 292.6 555.6 312.7 555.6 322.2 552.5 328.9 550.8 336.8 549.5 344.8 548.9 343.5 547.6 340.9 546.1 333.7 543.4 313.6 538 284.1 532 246.8 525.7 204 519.6Z" fill="#f3c527" stroke="#f3c527" stroke-width="0.6" stroke-linejoin="round"/>
<path d="M202.3 519L145.1 512 84.7 538 153.6 545.5 219.6 550.9 249.6 552.7 276.9 553.8 299.6 554.1 317.8 553.6 328.9 550.8 339.5 549.2 339.7 548.8 339 547.1 336.4 545.3 331.1 543 324.4 540.9 303.2 535.6 275.8 530.2 241.4 524.6 202.8 519.1Z" fill="#f1b725" stroke="#f1b725" stroke-width="0.6" stroke-linejoin="round"/>
<path d="M201 518.5L145.1 512 86.2 537 124.2 541.3 162.3 545.1 199.3 548.2 234.6 550.5 264.7 551.9 292.2 552.4 312.5 552 325.9 550.7 329.8 549.9 333 548.5 333.9 547.4 333.3 545.7 330.8 544 325.8 541.8 312.2 537.7 291.8 533.1 265.8 528.2 235.5 523.4 201.5 518.6Z" fill="#efa823" stroke="#efa823" stroke-width="0.6" stroke-linejoin="round"/>
<path d="M199.7 518L145.1 512 87.7 536 124.8 540.2 161.8 543.8 197.7 546.7 231.9 549 260.9 550.3 287.5 550.8 307.1 550.4 320.1 549.1 323.9 548.3 327 547 327.9 545.9 327.4 544.4 325.1 542.7 320.4 540.6 307.4 536.7 287.7 532.2 262.7 527.5 233.2 522.7 200.2 518.1Z" fill="#ed9921" stroke="#ed9921" stroke-width="0.6" stroke-linejoin="round"/>
<path d="M198.3 517.5L145.1 512 89.2 535 125.4 539 161.3 542.4 196 545.3 229 547.4 257.1 548.7 282.6 549.1 301.6 548.7 314.2 547.5 317.9 546.8 320.9 545.5 321.9 544.5 321.4 543 319.3 541.4 314.8 539.3 302.5 535.6 283.6 531.2 259.4 526.7 230.9 522.1 198.8 517.6Z" fill="#eb8b1f" stroke="#eb8b1f" stroke-width="0.6" stroke-linejoin="round"/>
<path d="M197 517L145.1 512 90.8 533.9 159.8 541 192.8 543.7 224.1 545.7 250.8 547 275.3 547.5 293.9 547.2 308.1 545.9 311.7 545.2 314.7 544 315.7 543 315.3 541.6 313.3 540 309.1 538.1 297.4 534.5 279.3 530.3 256.1 525.9 228.6 521.5 197.4 517.1Z" fill="#e97c1d" stroke="#e97c1d" stroke-width="0.6" stroke-linejoin="round"/>
<path d="M195.5 516.5L145.1 512 92.4 532.9 159.3 539.7 221.3 544.2 246.9 545.3 270.4 545.8 288.2 545.5 301.9 544.3 305.4 543.6 308.4 542.5 309.4 541.2 308.7 539.8 306.6 538.3 302.3 536.5 290.9 533 273.8 529.1 251.7 525 225.5 520.7 196 516.6Z" fill="#e76e1b" stroke="#e76e1b" stroke-width="0.6" stroke-linejoin="round"/>
<path d="M194 516L145.1 512 94.1 531.8 157.9 538.3 218.4 542.6 242.9 543.7 265.4 544.1 282.4 543.8 295.6 542.7 299 542 301.8 541 302.9 539.7 302.4 538.4 300.4 537 296.4 535.2 285.7 531.9 269.3 528.2 248.2 524.2 223 520.1 194.5 516.1Z" fill="#e55f19" stroke="#e55f19" stroke-width="0.6" stroke-linejoin="round"/>
<path d="M192.5 515.5L145.1 512 95.8 530.8 157.4 536.9 215.4 541 238.8 542 260.2 542.4 276.5 542.1 289.1 541 295.2 539.4 296.3 538.2 295.8 537 294 535.6 290.3 534 280.2 530.8 264.7 527.3 244.6 523.4 220.4 519.5 192.9 515.6Z" fill="#e45018" stroke="#e45018" stroke-width="0.6" stroke-linejoin="round"/>
<path d="M190.9 515.1L145.1 512 97.6 529.7 156.9 535.5 212.3 539.4 234.5 540.3 255 540.7 270.5 540.4 282.5 539.4 288.3 537.8 289.4 536.7 289.1 535.5 287.4 534.3 284 532.7 274.6 529.7 260 526.3 240.9 522.7 217.7 518.9 191.3 515.1Z" fill="#e24216" stroke="#e24216" stroke-width="0.6" stroke-linejoin="round"/>
<path d="M189.3 514.6L145.1 512 99.5 528.6 155.7 534.1 207.5 537.7 230.2 538.6 249.5 539 264.2 538.7 275.6 537.7 281.3 536.3 282.4 535.2 282.1 534.1 280.7 532.9 277.6 531.4 268.8 528.6 255 525.4 236.2 521.8 189.7 514.6Z" fill="#e03314" stroke="#e03314" stroke-width="0.6" stroke-linejoin="round"/>
<path d="M187.5 514.1L145.1 512 101.4 527.5 155.2 532.7 204.3 536 243.9 537.2 257.8 536.9 268.6 536 274 534.7 275.1 533.7 275 532.6 273.7 531.5 270.8 530.1 261.8 527.2 249 524.2 231.5 520.9 187.9 514.2Z" fill="#de2412" stroke="#de2412" stroke-width="0.6" stroke-linejoin="round"/>
<path d="M185.7 513.7L145.1 512 103.4 526.4 154 531.2 201 534.4 238.2 535.4 251.1 535.2 261.3 534.3 266.4 533 267.6 532.1 267.5 531.1 266.4 530.1 263.9 528.8 255.6 526.1 243.8 523.3 227.3 520.1 186.1 513.7Z" fill="#dc1610" stroke="#dc1610" stroke-width="0.6" stroke-linejoin="round"/>
<path d="M183.8 513.2L145.1 512 105.5 525.3 153.4 529.8 197.6 532.7 232.2 533.6 244.2 533.4 253.7 532.6 258.6 531.4 259.8 530.5 259.8 529.6 258.9 528.7 256.6 527.5 249.1 525 237.5 522.2 223 519.3 184.2 513.3Z" fill="#db0f0f" stroke="#db0f0f" stroke-width="0.6" stroke-linejoin="round"/>
<path d="M181.8 512.8L145.1 512 107.7 524.2 152.3 528.3 192.8 530.9 225.9 531.8 237 531.5 245.8 530.8 250.8 529.5 251.7 528.7 251.6 527.9 248.5 525.9 241.6 523.6 231 521.1 217.8 518.5 182.1 512.8Z" fill="#db0f0f" stroke="#db0f0f" stroke-width="0.6" stroke-linejoin="round"/>
<path d="M179.7 512.4L145.1 512 110.1 523 152.4 526.8 190.2 529.2 220.7 529.9 230.6 529.6 238.4 528.8 242.6 527.7 243.2 526.9 243 526.1 240.1 524.3 233.9 522.3 212 517.5 179.9 512.4Z" fill="#db0f0f" stroke="#db0f0f" stroke-width="0.6" stroke-linejoin="round"/>
<path d="M177.3 512L145.1 512 112.6 521.9 150.8 525.2 185.3 527.3 212.5 527.9 222.6 527.7 229.6 527 233.5 525.9 234.2 525.3 234.1 524.6 231.8 523 226.4 521.1 206.9 516.8 177.6 512Z" fill="#db0f0f" stroke="#db0f0f" stroke-width="0.6" stroke-linejoin="round"/>
<path d="M174.8 511.6L145.1 512 115.3 520.7 149.8 523.6 181.2 525.5 205.1 525.9 220.3 525.1 223.9 524.2 224.6 523.6 224.7 523 222.8 521.6 217.9 519.8 200.7 515.9 175.1 511.7Z" fill="#db0f0f" stroke="#db0f0f" stroke-width="0.6" stroke-linejoin="round"/>
<path d="M172.1 511.3L145.1 512 118.3 519.5 148.9 522 175.9 523.5 197.3 523.9 210.3 523.1 213.5 522.3 214.3 521.8 214.4 521.2 212.9 520 208.9 518.5 194.4 515.1 172.3 511.4Z" fill="#db0f0f" stroke="#db0f0f" stroke-width="0.6" stroke-linejoin="round"/>
<path d="M169 511L145.1 512 121.6 518.2 147.4 520.2 170 521.4 188 521.7 199.4 521 202.2 520.4 203.2 519.5 202.2 518.4 199.1 517.1 187.4 514.2 169.2 511.1Z" fill="#db0f0f" stroke="#db0f0f" stroke-width="0.6" stroke-linejoin="round"/>
<path d="M165.3 510.8L145.1 512 125.4 516.8 164.4 519.2 178.6 519.4 187.6 518.8 190 518.2 190.7 517.5 190.1 516.7 187.8 515.6 179.1 513.4 165.5 510.9Z" fill="#db0f0f" stroke="#db0f0f" stroke-width="0.6" stroke-linejoin="round"/>
<path d="M160.8 510.8L145.1 512 130 515.4 157.3 516.8 166.9 516.8 173.5 516.4 176.2 515.4 176 514.9 174.8 514.2 169.7 512.6 161 510.8Z" fill="#db0f0f" stroke="#db0f0f" stroke-width="0.6" stroke-linejoin="round"/>
<path d="M154.2 511L145.1 512 136.9 513.6 148.7 513.9 156.1 513.5 157.7 513.1 158 512.5 154.2 511Z" fill="#db0f0f" stroke="#db0f0f" stroke-width="0.6" stroke-linejoin="round"/>
<path d="M367.8 551.5L318.4 539.1 269.7 528.3 222.5 519.2 176 511.8" stroke="#000" stroke-width="1.1" fill="none" stroke-linecap="round"/><path transform="translate(0 1.4)" d="M367.8 551.5L318.4 539.1 269.7 528.3 222.5 519.2 176 511.8" stroke="#000" stroke-opacity="0.65" stroke-width="2.4" fill="none" stroke-linecap="round"/>
<path d="M210.5 643.6L189.8 631.5 169.7 620.1 149.6 609.2 129.7 598.7 110.3 589.1 91 579.9 71.9 571.3 53.4 563.5M210.5 643.6L221 630.5 231.4 618.3 241.7 607.2 251.9 597 261.9 587.9 272.4 579.3 282.1 572.2 292.2 565.7 302.2 560.3 311.9 556 321.4 552.7 331.2 550.4 340.3 549.1 349.6 548.9 358.7 549.6 367.5 551.4M212.8 640.8L192 628.7 171.9 617.4 151.8 606.6 131.8 596.3 112.4 586.7 93.1 577.7 74 569.2 55.5 561.5M208.3 642.3L218.8 629.2 229.2 617.1 239.5 606 249.7 595.9 259.7 586.8 270.1 578.3 279.9 571.2 290 564.8 299.9 559.5 309.7 555.2 319.2 551.9 328.5 549.7 337.6 548.5 347 548.2 356.1 549 364.9 550.7M215 638L194.2 626 174.1 614.8 154 604.1 134 593.9 114.6 584.5 95.3 575.5 76.2 567.1 57.6 559.5M206.1 641L216.6 628 227 615.9 237.3 604.9 247.4 594.8 257.5 585.8 267.9 577.3 277.7 570.3 287.8 563.9 297.7 558.6 307.4 554.4 317 551.2 326.3 549 335.4 547.8 344.8 547.5 353.4 548.3 362.3 550M217.2 635.2L196.4 623.4 176.2 612.3 156.1 601.7 136.1 591.6 116.7 582.2 97.4 573.4 78.3 565.1 59.7 557.6M203.9 639.7L214.4 626.7 224.8 614.7 235 603.7 245.2 593.7 255.2 584.7 265.2 576.7 274.9 569.7 285 563.3 295 558 304.7 553.8 314.3 550.5 323.6 548.3 332.7 547.1 342.1 546.9 350.8 547.6 359.7 549.4M219.4 632.5L198.6 620.8 178.4 609.8 158.3 599.3 138.3 589.3 118.8 580 99.5 571.3 80.4 563.1 61.8 555.7M201.8 638.4L212.2 625.5 222.6 613.5 232.8 602.6 243 592.6 253 583.7 262.9 575.7 272.7 568.7 282.8 562.4 292.7 557.2 302.5 553 312 549.8 321.4 547.6 330.5 546.4 339.9 546.2 348.6 547 357.5 548.8M221.6 629.8L200.8 618.2 180.6 607.3 160.5 596.9 140.4 587 121 577.9 101.6 569.3 82.5 561.2 63.9 553.8M199.6 637.1L210 624.3 220.4 612.4 230.6 601.5 240.8 591.6 250.8 582.7 260.7 574.7 270.5 567.8 280.6 561.5 290 556.6 299.8 552.4 309.4 549.2 318.7 547 327.9 545.8 337.3 545.6 346 546.3 354.9 548.1M223.8 627.2L203 615.7 182.8 604.9 162.6 594.6 142.6 584.8 123.1 575.8 103.8 567.2 84.6 559.3 66 552M197.4 635.9L207.3 623.7 217.6 611.8 227.9 600.9 238.1 591 248.1 582.1 258 574.2 267.8 567.2 277.9 560.9 287.3 556 297.1 551.7 306.7 548.6 316.1 546.4 325.2 545.2 334.6 544.9 343.3 545.7 352.3 547.4M226 624.6L205.2 613.2 184.9 602.5 164.8 592.3 144.7 582.6 125.2 573.7 105.9 565.3 86.7 557.4 68.1 550.2M195.2 634.6L205.1 622.5 215.5 610.6 225.7 599.8 235.9 589.9 245.9 581.1 255.8 573.2 265.6 566.3 275.7 560.1 285.1 555.1 294.9 551 304.5 547.8 313.9 545.7 323 544.5 332 544.3 340.7 545 349.7 546.8M228.1 622.1L207.3 610.8 187.1 600.2 166.9 590.1 146.8 580.5 127.4 571.7 108 563.3 88.8 555.6 70.2 548.5M193.1 633.3L202.9 621.3 213.3 609.5 223.5 598.7 233.7 588.9 243.7 580.1 253.6 572.2 263.4 565.4 273 559.5 282.4 554.6 292.2 550.4 301.8 547.2 311.2 545.1 320.4 543.9 329.4 543.7 338.1 544.4 347.1 546.1M230.3 619.6L209.5 608.4 189.2 597.9 169.1 587.9 149 578.4 129.5 569.7 110.1 561.5 90.9 553.8 72.3 546.8M190.9 632.1L200.8 620.1 211.1 608.3 221.4 597.6 231.5 587.8 241.5 579.1 251.4 571.3 261.2 564.5 270.8 558.6 280.3 553.7 290 549.6 299.2 546.6 308.6 544.5 317.8 543.3 326.7 543 335.5 543.7 344.5 545.5M232.5 617.1L211.7 606 191.4 595.7 171.2 585.8 151.1 576.4 131.6 567.7 112.2 559.6 93 552 74.4 545.2M188.8 630.9L198.6 618.9 209 607.2 218.7 597 228.8 587.3 238.8 578.5 248.7 570.7 258.5 563.9 268.1 558.1 277.6 553.2 287.4 549 296.5 546 305.9 543.8 315.1 542.7 324.1 542.4 332.9 543.1 341.9 544.8M234.7 614.7L213.8 603.7 193.6 593.5 173.3 583.7 153.2 574.4 133.7 565.8 114.3 557.8 95.1 550.3 76.5 543.5M186.6 629.6L196.5 617.7 206.8 606.1 216.5 596 226.6 586.3 236.7 577.5 246.6 569.8 256.3 563 265.9 557.2 275.4 552.4 285.2 548.3 294.3 545.3 303.7 543.2 313 542 322 541.8 330.8 542.5 339.3 544.2M236.8 612.3L216 601.4 195.7 591.3 175.5 581.6 155.3 572.4 135.8 564 116.4 556 97.2 548.7 78.6 542M184.5 628.4L194.3 616.5 204.7 605 214.3 594.9 224.5 585.2 234 577 243.9 569.3 253.6 562.5 263.3 556.7 272.7 551.8 282.5 547.7 291.7 544.7 301.1 542.6 310.3 541.4 319.4 541.2 328.2 541.9 336.8 543.5M239 610L218.1 599.2 197.8 589.2 177.6 579.6 157.5 570.5 137.9 562.2 118.5 554.3 99.3 547 80.7 540.4M182.4 627.2L192.2 615.4 202.5 603.8 212.2 593.8 222.3 584.2 231.8 576 241.7 568.3 251.5 561.6 261.1 555.8 270.6 551 279.9 547.1 289 544.1 298.5 542 307.7 540.8 316.8 540.6 325.6 541.3 334.2 542.9M241.2 607.7L220.3 597.1 200 587.1 179.7 577.6 159.6 568.6 140 560.4 120.6 552.6 101.4 545.4 82.7 538.9M180.2 626L190.1 614.2 200.4 602.7 210.1 592.8 220.2 583.2 229.7 575.1 239.6 567.4 249.3 560.7 258.9 555 268.4 550.2 277.7 546.4 286.9 543.4 296.3 541.3 305.6 540.2 314.6 540 323.4 540.7 332.1 542.4M243.3 605.5L222.4 594.9 202.1 585.1 181.9 575.7 161.7 566.8 142.2 558.6 122.7 551 103.5 543.9 84.8 537.5M178.1 624.8L187.9 613.1 197.7 602.2 207.4 592.3 217.5 582.7 227 574.5 236.9 566.9 246.7 560.2 256.3 554.5 265.8 549.7 275.1 545.8 284.3 542.9 293.7 540.7 303 539.6 312 539.4 320.9 540.1 329.5 541.7M245.5 603.3L224.6 592.8 204.2 583.1 184 573.8 163.8 565 144.3 557 124.8 549.4 105.5 542.4 86.9 536.1M176 623.6L185.8 611.9 195.6 601.1 205.3 591.2 215.4 581.7 224.9 573.6 234.8 566 244.5 559.3 254.1 553.6 263.6 548.9 273 545.1 282.1 542.2 291.6 540.1 300.4 539 309.4 538.8 318.3 539.5 327 541.1M247.6 601.2L226.7 590.8 206.4 581.1 186.1 572 165.9 563.3 146.4 555.3 126.9 547.8 107.6 540.9 89 534.7M173.9 622.4L183.7 610.8 193.5 600 203.1 590.2 213.2 580.7 222.7 572.7 232.6 565.1 241.9 558.8 251.5 553.1 261 548.4 270.3 544.5 279.5 541.6 289 539.5 297.8 538.4 306.9 538.2 315.7 538.9 324.4 540.5M249.8 599.1L228.8 588.8 208.5 579.2 188.2 570.2 168 561.6 148.4 553.7 129 546.3 109.7 539.5 91 533.4M171.8 621.2L181.6 609.7 191.4 599 201 589.2 211.1 579.7 220.6 571.7 230.5 564.2 239.7 558 249.4 552.3 258.9 547.6 268.2 543.8 277.4 540.9 286.4 539 295.2 537.9 304.3 537.6 313.2 538.3 321.9 539.9M251.9 597L230.9 586.8 210.6 577.4 190.3 568.4 170.1 559.9 150.5 552.1 131.1 544.8 111.8 538.1 93.1 532.1M169.7 620.1L179.5 608.6 189.2 597.9 198.9 588.1 209 578.8 218.5 570.8 228.4 563.3 237.6 557.1 247.3 551.5 256.7 546.9 266.1 543.1 275.2 540.3 284.3 538.3 293.1 537.3 302.2 537.1 310.6 537.7 319.3 539.3M254 595L233.1 584.9 212.7 575.6 192.4 566.7 172.2 558.3 152.6 550.6 133.2 543.4 113.9 536.8 95.2 530.8M167.6 618.9L177.4 607.4 187.1 596.8 196.8 587.1 206.4 578.3 215.9 570.3 225.7 562.8 235 556.6 244.6 551 254.1 546.3 263.5 542.6 272.7 539.7 281.7 537.8 290.5 536.7 299.6 536.5 308.1 537.1 316.8 538.7M256.1 593L235.2 583.1 214.8 573.8 194.5 565 174.3 556.7 154.7 549.1 135.2 542 115.9 535.5 97.2 529.6M165.5 617.8L175.3 606.3 185.1 595.8 194.7 586.1 204.3 577.3 213.7 569.4 223.6 562 232.9 555.8 242.5 550.2 251.5 545.8 260.9 542 270.1 539.2 279.1 537.2 287.9 536.1 297.1 535.9 305.6 536.6 314.3 538.1M258.2 591.1L237.3 581.2 216.9 572.1 196.6 563.4 176.4 555.2 156.8 547.7 137.3 540.7 118 534.2 99.3 528.4M163.5 616.6L173.3 605.3 183 594.8 192.6 585.1 202.2 576.4 211.6 568.5 221 561.5 230.3 555.3 239.9 549.7 248.9 545.3 258.3 541.5 267.5 538.7 276.5 536.7 285.4 535.6 294.5 535.4 303 536 311.8 537.5M260.4 589.2L239.4 579.5 219 570.4 198.7 561.8 178.5 553.7 158.9 546.2 139.4 539.3 120 533 101.3 527.3M161.4 615.5L171.2 604.2 180.9 593.7 190.5 584.1 200.1 575.4 209.6 567.6 218.9 560.6 228.2 554.5 237.8 548.9 246.8 544.6 256.2 540.8 265.4 538 274.4 536.1 283.3 535 292 534.8 300.5 535.4 309.3 536.9M262.5 587.4L241.5 577.7 221.1 568.7 200.8 560.2 180.5 552.2 160.9 544.9 141.4 538.1 122.1 531.8 103.4 526.2M159.3 614.4L168.6 603.7 178.3 593.2 187.9 583.7 197.5 575 206.9 567.1 216.3 560.1 225.6 554 235.2 548.4 244.2 544.1 253.6 540.3 262.8 537.5 271.9 535.5 280.7 534.5 289.4 534.2 298 534.8 306.7 536.4M264.6 585.6L243.6 576 223.2 567.1 202.9 558.7 182.6 550.8 163 543.6 143.5 536.8 124.2 530.6 105.4 525.1M157.3 613.3L166.5 602.6 176.2 592.2 185.9 582.7 195.4 574 204.9 566.2 214.2 559.3 223.5 553.2 233.1 547.7 242.1 543.3 251.5 539.6 260.2 537 269.3 535 278.2 533.9 286.9 533.7 295.5 534.3 304.2 535.8M266.6 583.9L245.7 574.4 225.3 565.6 204.9 557.3 184.7 549.4 165.1 542.3 145.6 535.6 126.2 529.5 107.5 524.1M155.2 612.2L164.5 601.6 174.2 591.2 183.8 581.7 193.3 573.1 202.8 565.3 212.2 558.4 221.4 552.4 231.1 546.9 240.1 542.6 249.4 539 258.2 536.3 267.2 534.4 276.1 533.4 284.8 533.2 293.4 533.8 302.2 535.3M268.7 582.2L247.7 572.8 227.3 564.1 207 555.8 186.8 548.1 167.1 541 147.6 534.5 128.3 528.5 109.5 523.1M153.2 611.1L162.4 600.5 172.1 590.2 181.7 580.8 191.3 572.2 200.7 564.5 210.1 557.6 219.3 551.6 228.5 546.5 237.5 542.1 246.9 538.5 255.6 535.8 264.7 533.9 273.6 532.8 282.3 532.6 290.9 533.2 299.7 534.8M270.8 580.5L249.8 571.2 229.4 562.6 209.1 554.5 188.8 546.8 169.2 539.8 149.7 533.4 130.3 527.4 111.6 522.2M151.2 610L160.4 599.5 170.1 589.2 179.7 579.8 189.2 571.3 198.7 563.6 208 556.8 217.3 550.8 226.4 545.7 235.4 541.4 244.8 537.8 253.5 535.2 262.6 533.3 271.5 532.3 280.3 532.1 288.8 532.7 297.2 534.2M272.9 578.9L251.9 569.7 231.5 561.2 211.1 553.1 190.9 545.6 171.2 538.7 151.7 532.3 132.3 526.4 113.6 521.3M149.1 608.9L158.3 598.4 168 588.2 177.1 579.4 186.6 570.8 196.1 563.2 205.5 556.3 214.7 550.4 223.8 545.2 232.9 541 242.2 537.3 251 534.7 260.1 532.8 269 531.8 277.8 531.6 286.3 532.2 294.7 533.6M275 577.3L253.9 568.2 233.5 559.8 213.2 551.8 192.9 544.3 173.3 537.5 153.7 531.3 134.4 525.5 115.6 520.4M147.1 607.8L156.3 597.4 166 587.2 175.1 578.4 184.6 569.9 194 562.3 203.4 555.5 212.7 549.6 221.8 544.5 230.8 540.3 239.7 536.8 248.5 534.2 257.6 532.3 266.5 531.2 275.2 531 283.8 531.7 292.2 533.1M277 575.8L256 566.8 235.6 558.4 215.2 550.6 195 543.2 175.3 536.5 155.8 530.3 136.4 524.6 117.6 519.6M145.1 606.7L154.3 596.4 163.9 586.3 173 577.5 182.6 569 191.5 561.9 200.8 555.1 210.1 549.1 219.2 544.1 228.3 539.8 237.2 536.4 245.9 533.7 255 531.8 264 530.7 272.7 530.5 281.3 531.1 289.8 532.5M279.1 574.3L258 565.4 237.6 557.1 217.3 549.3 197 542.1 177.3 535.4 157.8 529.3 138.4 523.7 119.7 518.8M143.1 605.7L152.3 595.4 161.9 585.3 171 576.6 180.5 568.2 189.4 561 198.8 554.3 208.1 548.4 217.2 543.3 226.2 539.1 235.1 535.7 243.9 533.1 253 531.2 261.5 530.2 270.3 530 278.9 530.6 287.3 532M281.1 572.9L260.1 564 239.7 555.9 219.3 548.2 199 541 179.4 534.4 159.8 528.4 140.4 522.9 121.7 518M141.1 604.6L150.2 594.4 159.4 584.9 168.4 576.1 178 567.7 186.9 560.6 196.3 553.8 205.5 547.9 214.7 542.9 223.7 538.7 232.6 535.2 241.4 532.6 250.5 530.7 259 529.7 267.8 529.5 276.4 530.1 284.8 531.5M283.2 571.5L262.1 562.7 241.7 554.7 221.3 547 201.1 539.9 181.4 533.5 161.8 527.5 142.5 522.1 123.7 517.3M139.1 603.6L148.2 593.4 157.4 583.9 166.4 575.2 176 566.9 184.9 559.8 194.2 553.1 203.5 547.2 212.6 542.2 221.7 538 230.6 534.6 239.3 532 248 530.3 256.5 529.2 265.3 529 273.9 529.6 282.4 530.9M285.2 570.1L264.2 561.5 243.7 553.5 223.3 546 203.1 538.9 183.4 532.6 163.9 526.7 144.5 521.3 125.7 516.6M137.1 602.5L146.2 592.4 155.4 583 164.4 574.3 173.9 566 182.9 558.9 192.2 552.3 200.9 546.8 210.1 541.7 219.1 537.5 228 534.2 236.8 531.6 245.5 529.8 254 528.8 262.8 528.5 271.5 529.1 279.9 530.4M287.2 568.8L266.2 560.2 245.7 552.3 225.4 544.9 205.1 538 185.4 531.7 165.9 525.9 146.5 520.6 127.7 516M135.1 601.5L144.2 591.4 153.4 582 162.4 573.4 171.9 565.1 180.8 558.1 190.2 551.5 198.9 546 208.1 541 217.1 536.9 226 533.5 234.8 531 243.5 529.2 252 528.2 260.8 528 269 528.5 277.5 529.9M289.2 567.5L268.2 559.1 247.8 551.3 227.4 543.9 207.1 537 187.4 530.8 167.9 525.1 148.5 519.9 129.7 515.4M133.1 600.5L142.3 590.4 151.4 581.1 160.4 572.5 169.9 564.3 178.8 557.3 188.2 550.7 196.9 545.3 206.1 540.4 214.6 536.4 223.5 533.1 232.3 530.5 241 528.8 249.5 527.8 258.3 527.5 266.5 528 275 529.4M291.2 566.3L270.2 557.9 249.8 550.2 229.4 542.9 209.1 536.2 189.4 530 169.9 524.4 150.5 519.3 131.7 514.8M131.1 599.5L140.3 589.4 149.4 580.2 158.4 571.6 167.4 563.9 176.3 556.9 185.7 550.3 194.4 544.9 203.6 539.9 212.1 536 221 532.6 229.8 530.1 238.5 528.3 247 527.3 255.9 527 264.1 527.5 272.6 528.9M293.2 565.1L272.2 556.8 251.8 549.2 231.4 542 211.1 535.3 191.4 529.3 171.9 523.7 152.5 518.7 133.7 514.3M129.2 598.5L138.3 588.5 147.4 579.2 156.4 570.8 165.4 563.1 174.3 556.1 183.7 549.6 192.4 544.2 201.6 539.3 210.1 535.4 219 532 227.8 529.5 236.5 527.8 245 526.8 253.4 526.5 261.6 527.1 270.2 528.4M295.2 564L274.2 555.8 253.8 548.2 233.4 541.1 213.1 534.5 193.4 528.5 173.9 523.1 154.5 518.1 135.7 513.8M127.2 597.5L136.3 587.5 145.4 578.3 154.5 569.9 163.4 562.2 172.3 555.3 181.7 548.8 190.4 543.5 199.6 538.6 208.1 534.7 217 531.4 225.8 528.9 234.5 527.2 243 526.3 251.4 526.1 259.7 526.6 268.2 528M297.2 562.9L276.2 554.8 255.8 547.3 235.4 540.3 215.1 533.8 195.4 527.9 175.8 522.5 156.4 517.6 137.7 513.4M125.2 596.5L134.4 586.6 143.5 577.4 152.5 569 161.5 561.4 170.4 554.5 179.2 548.4 187.9 543.1 197.1 538.2 205.6 534.3 214.6 531 223.4 528.5 232 526.8 240.6 525.8 249 525.6 257.2 526.1 265.8 527.5M299.2 561.8L278.2 553.8 257.7 546.4 237.3 539.5 217.1 533 197.4 527.2 177.8 521.9 158.4 517.1 139.6 512.9M123.3 595.5L132.4 585.6 141.5 576.5 150.5 568.2 159.5 560.6 168.4 553.8 177.2 547.7 185.9 542.4 195.1 537.5 203.6 533.7 212.6 530.4 220.9 528.1 229.6 526.3 238.1 525.4 246.5 525.1 254.8 525.7 263.4 527M301.2 560.8L280.2 552.9 259.7 545.6 239.3 538.7 219 532.3 199.4 526.6 179.8 521.4 160.4 516.7 141.6 512.6M121.3 594.5L129.9 585.3 139 576.2 148 567.8 157 560.2 165.9 553.4 174.7 547.3 183.5 542 192.6 537.1 201.2 533.3 210.1 530 218.4 527.6 227.1 525.9 235.7 524.9 244.1 524.7 252.4 525.2 260.9 526.5M303.2 559.9L282.1 552 261.7 544.8 241.3 538 221 531.7 201.3 526.1 181.8 520.9 162.4 516.2 143.6 512.2M119.4 593.6L128 584.3 137.1 575.3 146.1 567 155 559.4 163.9 552.6 172.8 546.6 181.5 541.3 190.7 536.5 199.2 532.7 208.1 529.4 216.5 527.1 225.2 525.4 233.7 524.4 242.1 524.2 250.4 524.8 258.5 526M305.1 558.9L284.1 551.1 263.6 544 243.3 537.3 223 531.1 203.3 525.5 183.7 520.4 164.3 515.9 145.5 511.9M117.5 592.6L126 583.4 135.1 574.4 144.1 566.1 153.1 558.6 162 551.9 170.8 545.9 179.5 540.6 188.2 536.1 196.7 532.3 205.7 529 214 526.7 222.7 524.9 231.3 524 239.7 523.8 248 524.3 256.1 525.5M307.1 558L286 550.3 265.6 543.3 245.2 536.7 224.9 530.5 205.2 525 185.7 520 166.3 515.5 147.5 511.6M115.5 591.6L124.1 582.5 133.2 573.5 142.2 565.3 151.1 557.8 160 551.1 168.9 545.1 177.6 539.9 186.2 535.4 194.8 531.7 203.2 528.6 211.6 526.2 220.3 524.5 228.9 523.5 237.3 523.3 245.6 523.8 253.7 525.1M309 557.2L288 549.6 267.5 542.6 247.2 536.1 226.9 530 207.2 524.6 187.6 519.6 168.2 515.2 149.4 511.4M113.6 590.7L122.2 581.6 131.2 572.7 139.7 564.9 148.7 557.5 157.6 550.8 166.4 544.8 175.1 539.5 183.8 535 192.3 531.3 200.8 528.2 209.1 525.8 217.8 524.1 226.4 523.1 234.9 522.9 243.2 523.4 251.4 524.6M310.9 556.4L289.9 548.9 269.5 542 249.1 535.5 228.8 529.5 209.1 524.2 189.6 519.3 170.2 515 151.4 511.2M111.7 589.8L120.3 580.7 129.3 571.8 137.8 564.1 146.8 556.7 155.6 550 164.4 544.1 173.2 538.9 181.8 534.4 190.4 530.7 198.8 527.6 207.2 525.3 215.9 523.6 224 522.7 232.5 522.4 240.8 522.9 249 524.1M312.9 555.6L291.8 548.2 271.4 541.4 251 535 230.7 529.1 211.1 523.8 191.5 519 172.1 514.7 153.3 511M109.8 588.8L118.4 579.8 127.4 571 135.9 563.3 144.8 555.9 153.2 549.7 162 543.7 170.7 538.5 179.4 534 187.9 530.3 196.4 527.2 204.8 524.9 213.5 523.2 221.6 522.3 230.1 522 238.4 522.5 246.6 523.7M314.8 554.9L293.8 547.5 273.3 540.8 253 534.5 232.7 528.7 213 523.5 193.4 518.7 174 514.5 155.3 510.9M107.9 587.9L116.4 578.9 125.5 570.1 134 562.5 142.9 555.2 151.3 548.9 160.1 543 168.8 537.9 177.5 533.4 186 529.7 194.5 526.7 202.8 524.4 211.5 522.7 219.7 521.8 228.1 521.6 236 522 244.2 523.2M316.7 554.2L295.7 546.9 275.2 540.3 254.9 534 234.6 528.3 214.9 523.2 195.4 518.5 176 514.4 157.2 510.8M106 587L114.5 578.1 123.1 569.8 131.5 562.2 140.5 554.8 148.8 548.6 157.6 542.7 166.4 537.5 175 533 183.6 529.3 192 526.3 200.4 524 209.1 522.3 217.3 521.4 225.8 521.2 233.6 521.6 241.8 522.8M318.6 553.6L297.6 546.4 277.2 539.8 256.8 533.6 236.5 528 216.8 522.9 197.3 518.3 177.9 514.3 159.1 510.8M104.1 586.1L112.6 577.2 121.1 569 129.6 561.4 138.6 554.1 146.9 547.9 155.7 542 164.5 536.9 173.1 532.4 181.7 528.8 190.1 525.8 198.5 523.5 206.7 521.9 214.9 521 223.4 520.7 231.3 521.2 239.5 522.3M320.5 553L299.5 545.9 279.1 539.3 258.7 533.3 238.4 527.7 218.8 522.7 199.2 518.2 179.8 514.2 161 510.8M102.2 585.2L110.8 576.3 119.3 568.1 127.7 560.6 136.6 553.3 145 547.2 153.8 541.3 162 536.5 170.7 532.1 179.2 528.4 187.7 525.4 196.1 523.1 204.3 521.5 212.5 520.6 221 520.3 228.9 520.7 237.1 521.9M322.4 552.5L301.4 545.4 281 538.9 260.6 532.9 240.3 527.4 220.7 522.5 201.1 518.1 181.7 514.1 162.9 510.8M100.3 584.3L108.9 575.5 117.4 567.3 125.8 559.8 134.7 552.6 143.1 546.5 151.9 540.7 160.1 535.9 168.8 531.5 177.3 527.8 185.8 524.9 194.2 522.6 202.4 521 210.6 520.1 218.6 519.9 226.5 520.3 234.8 521.4M324.3 551.9L303.3 544.9 282.8 538.6 262.5 532.6 242.2 527.2 222.6 522.3 203 518 183.6 514.1 164.8 510.8M98.5 583.4L107 574.6 115.5 566.5 123.9 559.1 132.3 552.3 140.7 546.1 149.5 540.3 157.7 535.5 166.4 531.1 174.9 527.5 183.4 524.5 191.8 522.2 200 520.7 208.2 519.7 216.2 519.5 224.2 519.9 232.4 521M326.1 551.5L305.1 544.6 284.7 538.3 264.4 532.4 244.1 527 224.5 522.2 204.9 517.9 185.5 514.1 166.7 510.9M96.6 582.5L105.1 573.8 113.6 565.7 122 558.3 130.4 551.5 138.8 545.4 147.6 539.7 155.8 534.9 164.5 530.6 172.5 527.1 181 524.1 189.4 521.9 197.7 520.3 205.8 519.4 213.9 519.1 221.8 519.5 230.1 520.6M328 551L307 544.2 286.6 538 266.3 532.2 246 526.9 226.3 522.2 206.8 517.9 187.4 514.2 168.6 511M94.7 581.6L103.2 573 111.7 564.9 120.2 557.5 128.6 550.8 136.9 544.8 145.7 539 153.9 534.3 162.6 530 170.6 526.6 179.1 523.6 187.5 521.4 195.8 519.8 203.9 518.9 212 518.7 219.9 519.1 227.7 520.2M329.8 550.6L308.9 543.9 288.5 537.7 268.1 532 247.9 526.8 228.2 522.1 208.7 517.9 189.3 514.3 170.5 511.2M92.9 580.8L101.4 572.1 109.9 564.1 118.3 556.8 126.7 550.1 135 544.1 143.3 538.7 151.5 534 160.2 529.6 168.3 526.2 176.7 523.3 185.1 521 193.4 519.4 201.6 518.5 209.6 518.3 217.6 518.7 225.4 519.7M331.7 550.3L310.7 543.6 290.3 537.5 270 531.9 249.7 526.7 230.1 522.1 210.6 518 191.2 514.4 172.4 511.4M91 579.9L99.5 571.3 108 563.3 116.4 556 124.8 549.4 133.2 543.4 141.4 538.1 149.7 533.4 158.3 529.1 166.4 525.7 174.9 522.8 182.7 520.7 191 519.1 199.2 518.2 207.3 517.9 215.2 518.3 223.1 519.3M333.5 550L312.6 543.3 292.2 537.3 271.8 531.8 251.6 526.7 232 522.1 212.4 518.1 193.1 514.6 174.3 511.6M89.2 579.1L97.7 570.5 106.1 562.6 114.6 555.3 123 548.7 131.3 542.7 139.6 537.4 147.8 532.8 156.4 528.5 164.5 525.2 173 522.3 180.9 520.2 189.2 518.6 197.3 517.8 205.4 517.5 213.4 518 221.2 519M335.3 549.7L314.4 543.1 294 537.2 273.7 531.7 253.9 526.8 234.3 522.3 214.8 518.3 195.8 514.9 177 512M87.3 578.2L95.3 570.2 103.8 562.3 112.2 555 120.6 548.4 128.9 542.4 137.2 537.1 145.4 532.5 154.1 528.2 162.1 524.8 170.6 521.9 178.5 519.8 186.8 518.3 195 517.4 203.1 517.2 211 517.6 218.9 518.6M337.2 549.4L317.3 543.3 298 537.7 278.6 532.5 259.8 527.8 241 523.5 222.7 519.7 204.5 516.3 186.4 513.3M85.5 577.4L93.5 569.4 101.9 561.5 110.3 554.3 118.7 547.7 127.1 541.8 135.3 536.5 143.5 531.9 152.2 527.6 160.3 524.3 168.7 521.4 176.6 519.4 184.9 517.9 192.6 517 200.7 516.8 208.7 517.2 216.5 518.2M339 549.2L320.2 543.5 301.4 538.1 283 533.1 265.1 528.7 247.2 524.5 229.8 520.9 212.4 517.6 195.5 514.7M83.7 576.6L91.6 568.6 100.1 560.8 108.5 553.6 116.9 547 125.2 541.1 133.5 535.9 141.7 531.3 149.8 527.3 157.9 524 166.4 521.1 174.3 519 182.6 517.5 190.3 516.7 198.4 516.4 206.4 516.8 214.2 517.8M340.8 549.1L305.3 538.6 271 529.7 254 525.8 237.4 522.2 220.8 519 204.6 516.2M81.8 575.7L89.8 567.8 98.3 560 106.7 552.9 115 546.4 123.4 540.5 131.6 535.3 139.8 530.7 148 526.8 156.1 523.5 164 520.8 172 518.7 180.3 517.2 188 516.3 196.1 516 204.1 516.4 211.9 517.4M342.6 549L309.3 539.2 276.9 530.8 245 523.6 214.2 517.8M80 574.9L88 567 96.4 559.3 104.3 552.6 112.7 546.1 121 540.2 129.3 535 137.5 530.4 145.6 526.5 153.7 523.2 161.7 520.5 169.6 518.4 177.9 516.8 185.7 516 193.8 515.7 201.8 516 209.6 517M344.4 548.9L313.2 539.8 282.8 531.9 253.2 525.2 224 519.5M78.2 574.1L86.2 566.3 94.6 558.5 102.5 551.9 110.9 545.4 119.2 539.6 127.5 534.4 135.7 529.9 143.8 526 151.9 522.7 159.9 520 167.8 517.9 176.1 516.4 183.8 515.6 191.9 515.3 199.4 515.7 207.3 516.6M346.1 548.8L317.1 540.5 288.7 533.1 260.9 526.7 233.3 521.2M76.4 573.3L84.4 565.5 92.8 557.8 100.7 551.2 109 544.8 116.8 539.3 125.1 534.1 133.3 529.6 141.5 525.7 149.5 522.4 157.5 519.7 165.4 517.6 173.8 516.1 181.5 515.2 189.6 515 197.1 515.3 205 516.3M347.9 548.8L321 541.1 294.6 534.3 268.7 528.2 243.3 523M74.6 572.5L82.5 564.7 91 557.1 98.9 550.5 107.2 544.1 115 538.7 123.3 533.5 131.5 529 139.6 525.1 147.7 521.9 155.7 519.2 163.6 517.2 171.4 515.7 179.2 514.9 187.3 514.6 194.8 514.9 202.8 515.9M349.6 548.9L325 541.8 300.6 535.5 276.5 529.8 253.3 525M72.8 571.7L80.7 564 88.7 556.8 96.5 550.2 104.9 543.8 112.7 538.4 121 533.3 129.2 528.7 137.3 524.8 145.4 521.6 153.4 518.9 161.3 516.9 169.1 515.4 176.9 514.6 185 514.3 192.6 514.6 200.5 515.5M351.4 548.9L328.9 542.6 306.5 536.7 284.9 531.6 263.4 527M71 570.9L79 563.2 86.9 556.1 94.7 549.6 103.1 543.2 110.9 537.8 119.1 532.7 127.3 528.2 135.5 524.3 143.6 521.1 151.6 518.5 159.5 516.5 167.3 515 175.1 514.2 182.7 513.9 190.3 514.2 198.2 515.2M353.1 549L332.8 543.3 313 538.2 293.3 533.4 273.5 529.1M69.2 570.2L77.2 562.5 85.1 555.4 92.9 548.9 101.3 542.6 109.1 537.2 117.3 532.1 125 527.9 133.2 524.1 141.2 520.8 149.3 518.2 157.2 516.1 165 514.7 172.8 513.9 180.4 513.6 188 513.9 195.9 514.8M354.9 549.2L336.7 544.1 319 539.5 301.2 535.2 283.8 531.3M67.5 569.4L75.4 561.8 83.3 554.7 91.1 548.2 99.5 541.9 107.3 536.6 115.5 531.6 123.2 527.4 131.4 523.6 138.9 520.5 146.9 517.9 154.9 515.8 162.7 514.4 170.5 513.5 178.1 513.3 185.7 513.5 193.7 514.4M356.6 549.4L325 540.9 294.2 533.5M65.7 568.6L73.6 561 81.5 554 89.4 547.6 97.2 541.7 105 536.4 113.2 531.3 120.9 527.1 129.1 523.3 136.6 520.2 144.6 517.6 152.6 515.5 160.4 514.1 168.2 513.2 175.9 512.9 183.4 513.2 191.4 514.1M358.3 549.6L331.5 542.4 305.2 536M63.9 567.9L71.8 560.3 79.7 553.3 87.6 546.9 95.4 541.1 103.2 535.8 111.4 530.7 119.1 526.6 127.3 522.8 134.8 519.8 142.9 517.2 150.8 515.1 158.6 513.7 166.4 512.9 174.1 512.6 181.7 512.9 189.1 513.7M360 549.8L337.5 543.8 315.8 538.5M62.2 567.1L70.1 559.6 77.9 552.7 85.8 546.3 93.6 540.5 101.4 535.2 109.1 530.5 116.8 526.3 125 522.5 132.6 519.5 140.6 516.9 148.5 514.8 156.4 513.4 164.1 512.6 171.8 512.3 179.4 512.6 186.9 513.4M361.7 550.1L326.4 541M60.4 566.4L68.3 558.9 76.2 552 84 545.6 91.9 539.8 99.6 534.6 107.4 530 115.1 525.8 123.2 522 130.8 519.1 138.8 516.5 146.2 514.6 154.1 513.1 161.9 512.3 169.5 512 177.1 512.2 184.6 513.1M363.4 550.5L337.7 543.8M58.7 565.7L66 558.7 73.9 551.8 81.7 545.4 89.6 539.6 97.3 534.4 105.1 529.7 112.8 525.6 120.9 521.8 128.5 518.8 136.5 516.2 143.9 514.3 151.8 512.8 159.6 512 167.3 511.7 174.9 511.9 182.4 512.7M365 550.8L349.1 546.6M56.9 564.9L64.3 558 72.1 551.1 80 544.8 87.8 539 95.6 533.8 103.3 529.2 111 525.1 119.1 521.3 126.7 518.4 134.7 515.8 142.2 513.9 150 512.5 157.3 511.7 165 511.4 172.6 511.6 180.2 512.4M366.7 551.2L360.6 549.6M55.2 564.2L62.5 557.3 70.4 550.4 78.2 544.2 86.1 538.4 93.8 533.3 101.6 528.7 109.2 524.6 117.4 520.9 125 517.9 132.5 515.5 139.9 513.6 147.8 512.2 155.1 511.4 162.8 511.1 170.4 511.3 177.9 512.1M53.4 563.5L60.8 556.6 68.7 549.8 76.5 543.5 84.3 537.9 92.1 532.7 99.8 528.1 107.5 524.1 115.1 520.6 122.7 517.7 130.2 515.2 137.7 513.4 145.5 511.9 152.8 511.1 160.5 510.8 168.2 511 175.7 511.8" stroke="#000" stroke-opacity="0.65" stroke-width="0.6" fill="none"/>
<path d="M210.5 643.6L189.6 631.3 169.3 619.8 149.1 608.9 129.6 598.7 110.2 589 91 579.9 72.1 571.4 53.4 563.5M210.5 643.6L220.7 630.9 231.2 618.6 241.6 607.3 251.9 597 262 587.8 272.5 579.2 282.3 572 292.4 565.6 302.4 560.2 312.1 555.9 321.6 552.7 331.3 550.3 340.4 549.1 349.6 548.9 358.6 549.6 367.7 551.5M53.4 563.5L61 556.4 69 549.5 76.5 543.5 84.4 537.8 91.9 532.8 99.7 528.2 107.5 524.1 115.2 520.6 122.9 517.6 130.5 515.2 138.1 513.3 145.9 511.9 153.3 511 161 510.8 168.3 511 175.8 511.8" stroke="#111" stroke-opacity="0.85" stroke-width="0.8" fill="none"/>
<defs><radialGradient id="g1" gradientUnits="userSpaceOnUse" cx="0" cy="0" r="1" gradientTransform="translate(637.32 80.56) rotate(179.224) scale(259.137 151.313)"><stop offset="0.000" stop-color="#ff0400"/><stop offset="0.021" stop-color="#ff0500"/><stop offset="0.042" stop-color="#ff0600"/><stop offset="0.062" stop-color="#ff0800"/><stop offset="0.083" stop-color="#ff0c00"/><stop offset="0.104" stop-color="#ff1000"/><stop offset="0.125" stop-color="#ff1600"/><stop offset="0.146" stop-color="#ff1c00"/><stop offset="0.167" stop-color="#ff2300"/><stop offset="0.188" stop-color="#ff2c00"/><stop offset="0.208" stop-color="#ff3500"/><stop offset="0.229" stop-color="#ff3f00"/><stop offset="0.250" stop-color="#ff4a00"/><stop offset="0.271" stop-color="#ff5600"/><stop offset="0.292" stop-color="#ff6400"/><stop offset="0.312" stop-color="#ff7200"/><stop offset="0.333" stop-color="#ff8100"/><stop offset="0.354" stop-color="#ff9100"/><stop offset="0.375" stop-color="#ffa200"/><stop offset="0.396" stop-color="#ffb400"/><stop offset="0.417" stop-color="#ffc700"/><stop offset="0.438" stop-color="#ffdb00"/><stop offset="0.458" stop-color="#fff000"/><stop offset="0.479" stop-color="#f8ff00"/><stop offset="0.500" stop-color="#e1ff00"/><stop offset="0.521" stop-color="#c9ff00"/><stop offset="0.542" stop-color="#b0ff00"/><stop offset="0.562" stop-color="#96ff00"/><stop offset="0.583" stop-color="#7cff00"/><stop offset="0.604" stop-color="#60ff00"/><stop offset="0.625" stop-color="#43ff00"/><stop offset="0.646" stop-color="#25ff00"/><stop offset="0.667" stop-color="#06ff00"/><stop offset="0.688" stop-color="#00ff19"/><stop offset="0.708" stop-color="#00ff3a"/><stop offset="0.729" stop-color="#00ff5c"/><stop offset="0.750" stop-color="#00ff7e"/><stop offset="0.771" stop-color="#00ffa2"/><stop offset="0.792" stop-color="#00ffc6"/><stop offset="0.812" stop-color="#00ffec"/><stop offset="0.833" stop-color="#00ebff"/><stop offset="0.854" stop-color="#00c4ff"/><stop offset="0.875" stop-color="#009bff"/><stop offset="0.896" stop-color="#0072ff"/><stop offset="0.917" stop-color="#0048ff"/><stop offset="0.938" stop-color="#001cff"/><stop offset="0.958" stop-color="#0000ff"/><stop offset="0.979" stop-color="#0000ff"/><stop offset="1.000" stop-color="#0000ff"/></radialGradient><clipPath id="c1"><rect x="477" y="16.4" width="273.5" height="179.79999999999998"/></clipPath></defs>
<rect x="477" y="16.4" width="273.5" height="179.79999999999998" fill="url(#g1)"/>
<g clip-path="url(#c1)" fill="none" stroke="#222" stroke-width="0.6"><ellipse cx="0" cy="0" rx="213.23" ry="124.51" transform="translate(637.32 80.56) rotate(179.224)"/><ellipse cx="0" cy="0" rx="168.93" ry="98.64" transform="translate(637.32 80.56) rotate(179.224)"/><ellipse cx="0" cy="0" rx="107.74" ry="62.91" transform="translate(637.32 80.56) rotate(179.224)"/></g>
<rect x="477" y="16.4" width="273.5" height="179.79999999999998" fill="none" stroke="#666" stroke-width="0.8"/>
<defs><radialGradient id="g2" gradientUnits="userSpaceOnUse" cx="0" cy="0" r="1" gradientTransform="translate(603.06 214.76) rotate(-107.939) scale(420.587 215.657)"><stop offset="0.000" stop-color="#ff0000"/><stop offset="0.021" stop-color="#ff0000"/><stop offset="0.042" stop-color="#ff0000"/><stop offset="0.062" stop-color="#ff0000"/><stop offset="0.083" stop-color="#ff0000"/><stop offset="0.104" stop-color="#ff0000"/><stop offset="0.125" stop-color="#ff0000"/><stop offset="0.146" stop-color="#ff0000"/><stop offset="0.167" stop-color="#ff0000"/><stop offset="0.188" stop-color="#ff0000"/><stop offset="0.208" stop-color="#ff0000"/><stop offset="0.229" stop-color="#ff0000"/><stop offset="0.250" stop-color="#ff0000"/><stop offset="0.271" stop-color="#ff0000"/><stop offset="0.292" stop-color="#ff0700"/><stop offset="0.312" stop-color="#ff1100"/><stop offset="0.333" stop-color="#ff1d00"/><stop offset="0.354" stop-color="#ff2900"/><stop offset="0.375" stop-color="#ff3600"/><stop offset="0.396" stop-color="#ff4400"/><stop offset="0.417" stop-color="#ff5300"/><stop offset="0.438" stop-color="#ff6200"/><stop offset="0.458" stop-color="#ff7200"/><stop offset="0.479" stop-color="#ff8300"/><stop offset="0.500" stop-color="#ff9400"/><stop offset="0.521" stop-color="#ffa700"/><stop offset="0.542" stop-color="#ffba00"/><stop offset="0.562" stop-color="#ffce00"/><stop offset="0.583" stop-color="#ffe200"/><stop offset="0.604" stop-color="#fff700"/><stop offset="0.625" stop-color="#f1ff00"/><stop offset="0.646" stop-color="#daff00"/><stop offset="0.667" stop-color="#c2ff00"/><stop offset="0.688" stop-color="#aaff00"/><stop offset="0.708" stop-color="#91ff00"/><stop offset="0.729" stop-color="#77ff00"/><stop offset="0.750" stop-color="#5dff00"/><stop offset="0.771" stop-color="#41ff00"/><stop offset="0.792" stop-color="#25ff00"/><stop offset="0.812" stop-color="#09ff00"/><stop offset="0.833" stop-color="#00ff15"/><stop offset="0.854" stop-color="#00ff33"/><stop offset="0.875" stop-color="#00ff52"/><stop offset="0.896" stop-color="#00ff72"/><stop offset="0.917" stop-color="#00ff92"/><stop offset="0.938" stop-color="#00ffb3"/><stop offset="0.958" stop-color="#00ffd5"/><stop offset="0.979" stop-color="#00fff8"/><stop offset="1.000" stop-color="#00e2ff"/></radialGradient><clipPath id="c2"><rect x="478.2" y="266.8" width="269.8" height="176.89999999999998"/></clipPath></defs>
<rect x="478.2" y="266.8" width="269.8" height="176.89999999999998" fill="url(#g2)"/>
<g clip-path="url(#c2)" fill="none" stroke="#222" stroke-width="0.6"><ellipse cx="0" cy="0" rx="376.66" ry="193.13" transform="translate(603.06 214.76) rotate(-107.939)"/><ellipse cx="0" cy="0" rx="335.78" ry="172.17" transform="translate(603.06 214.76) rotate(-107.939)"/><ellipse cx="0" cy="0" rx="289.16" ry="148.27" transform="translate(603.06 214.76) rotate(-107.939)"/><ellipse cx="0" cy="0" rx="233.42" ry="119.69" transform="translate(603.06 214.76) rotate(-107.939)"/><ellipse cx="0" cy="0" rx="159.24" ry="81.65" transform="translate(603.06 214.76) rotate(-107.939)"/></g>
<rect x="478.2" y="266.8" width="269.8" height="176.89999999999998" fill="none" stroke="#666" stroke-width="0.8"/>
<defs><radialGradient id="g3" gradientUnits="userSpaceOnUse" cx="0" cy="0" r="1" gradientTransform="translate(621.24 477.27) rotate(-107.024) scale(492.452 216.639)"><stop offset="0.000" stop-color="#ff0000"/><stop offset="0.021" stop-color="#ff0000"/><stop offset="0.042" stop-color="#ff0000"/><stop offset="0.062" stop-color="#ff0000"/><stop offset="0.083" stop-color="#ff0000"/><stop offset="0.104" stop-color="#ff0000"/><stop offset="0.125" stop-color="#ff0000"/><stop offset="0.146" stop-color="#ff0000"/><stop offset="0.167" stop-color="#ff0000"/><stop offset="0.188" stop-color="#ff0000"/><stop offset="0.208" stop-color="#ff0000"/><stop offset="0.229" stop-color="#ff0000"/><stop offset="0.250" stop-color="#ff0300"/><stop offset="0.271" stop-color="#ff0f00"/><stop offset="0.292" stop-color="#ff1c00"/><stop offset="0.312" stop-color="#ff2a00"/><stop offset="0.333" stop-color="#ff3900"/><stop offset="0.354" stop-color="#ff4900"/><stop offset="0.375" stop-color="#ff5900"/><stop offset="0.396" stop-color="#ff6b00"/><stop offset="0.417" stop-color="#ff7e00"/><stop offset="0.438" stop-color="#ff9200"/><stop offset="0.458" stop-color="#ffa600"/><stop offset="0.479" stop-color="#ffbc00"/><stop offset="0.500" stop-color="#ffd200"/><stop offset="0.521" stop-color="#ffea00"/><stop offset="0.542" stop-color="#fbff00"/><stop offset="0.562" stop-color="#e2ff00"/><stop offset="0.583" stop-color="#c8ff00"/><stop offset="0.604" stop-color="#acff00"/><stop offset="0.625" stop-color="#90ff00"/><stop offset="0.646" stop-color="#73ff00"/><stop offset="0.667" stop-color="#54ff00"/><stop offset="0.688" stop-color="#35ff00"/><stop offset="0.708" stop-color="#15ff00"/><stop offset="0.729" stop-color="#00ff0c"/><stop offset="0.750" stop-color="#00ff2e"/><stop offset="0.771" stop-color="#00ff51"/><stop offset="0.792" stop-color="#00ff75"/><stop offset="0.812" stop-color="#00ff9a"/><stop offset="0.833" stop-color="#00ffc0"/><stop offset="0.854" stop-color="#00ffe7"/><stop offset="0.875" stop-color="#00efff"/><stop offset="0.896" stop-color="#00c6ff"/><stop offset="0.917" stop-color="#009cff"/><stop offset="0.938" stop-color="#0072ff"/><stop offset="0.958" stop-color="#0046ff"/><stop offset="0.979" stop-color="#0019ff"/><stop offset="1.000" stop-color="#0000ff"/></radialGradient><clipPath id="c3"><rect x="479.5" y="516.4" width="268.9" height="176.39999999999998"/></clipPath></defs>
<rect x="479.5" y="516.4" width="268.9" height="176.39999999999998" fill="url(#g3)"/>
<g clip-path="url(#c3)" fill="none" stroke="#222" stroke-width="0.6"><ellipse cx="0" cy="0" rx="426.82" ry="187.77" transform="translate(621.24 477.27) rotate(-107.024)"/><ellipse cx="0" cy="0" rx="346.51" ry="152.44" transform="translate(621.24 477.27) rotate(-107.024)"/><ellipse cx="0" cy="0" rx="240.76" ry="105.91" transform="translate(621.24 477.27) rotate(-107.024)"/></g>
<rect x="479.5" y="516.4" width="268.9" height="176.39999999999998" fill="none" stroke="#666" stroke-width="0.8"/>
<g font-family="Liberation Serif, serif" font-weight="bold" stroke="#000" stroke-width="0.15">
<text x="41.5" y="130.0" font-size="7.4" text-anchor="end" fill="#111" font-family="Liberation Sans, sans-serif" stroke-width="0.1">12</text>
<text x="40.1" y="110.3" font-size="7.4" text-anchor="end" fill="#111" font-family="Liberation Sans, sans-serif" stroke-width="0.1">14</text>
<text x="38.7" y="90.3" font-size="7.4" text-anchor="end" fill="#111" font-family="Liberation Sans, sans-serif" stroke-width="0.1">16</text>
<text x="37.3" y="69.9" font-size="7.4" text-anchor="end" fill="#111" font-family="Liberation Sans, sans-serif" stroke-width="0.1">18</text>
<text x="35.8" y="49.2" font-size="7.4" text-anchor="end" fill="#111" font-family="Liberation Sans, sans-serif" stroke-width="0.1">20</text>
<text x="34.3" y="28.0" font-size="7.4" text-anchor="end" fill="#111" font-family="Liberation Sans, sans-serif" stroke-width="0.1">22</text>
</g><path d="M45.5 130.4h-2.5M44.1 110.7h-2.5M42.7 90.7h-2.5M41.3 70.3h-2.5M39.8 49.6h-2.5M38.3 28.4h-2.5" stroke="#333" stroke-width="0.8"/>
<g font-family="Liberation Serif, serif" font-weight="bold" stroke="#000" stroke-width="0.15">
<text transform="translate(17.4 101.0) rotate(-90)" font-size="8.3" text-anchor="middle" textLength="138.0" lengthAdjust="spacingAndGlyphs" fill="#222">Y: Extraction yield of hawthorn flavonoids</text>
<text x="37.0" y="170.1" font-size="6.9" text-anchor="middle" fill="#111" font-family="Liberation Sans, sans-serif" stroke-width="0.1">1.00</text>
<text x="74.3" y="182.4" font-size="6.9" text-anchor="middle" fill="#111" font-family="Liberation Sans, sans-serif" stroke-width="0.1">0.50</text>
<text x="111.2" y="193.7" font-size="6.9" text-anchor="middle" fill="#111" font-family="Liberation Sans, sans-serif" stroke-width="0.1">0.00</text>
<text x="147.8" y="205.3" font-size="6.9" text-anchor="middle" fill="#111" font-family="Liberation Sans, sans-serif" stroke-width="0.1">-0.50</text>
<text x="184.5" y="217.1" font-size="6.9" text-anchor="middle" fill="#111" font-family="Liberation Sans, sans-serif" stroke-width="0.1">-1.00</text>
<text x="208.5" y="217.0" font-size="6.9" text-anchor="middle" fill="#111" font-family="Liberation Sans, sans-serif" stroke-width="0.1">-1.00</text>
<text x="246.2" y="205.3" font-size="6.9" text-anchor="middle" fill="#111" font-family="Liberation Sans, sans-serif" stroke-width="0.1">-0.50</text>
<text x="281.9" y="193.6" font-size="6.9" text-anchor="middle" fill="#111" font-family="Liberation Sans, sans-serif" stroke-width="0.1">0.00</text>
<text x="319.2" y="182.2" font-size="6.9" text-anchor="middle" fill="#111" font-family="Liberation Sans, sans-serif" stroke-width="0.1">0.50</text>
<text x="355.8" y="169.9" font-size="6.9" text-anchor="middle" fill="#111" font-family="Liberation Sans, sans-serif" stroke-width="0.1">1.00</text>
<text transform="translate(92.5 210.0) rotate(17.5)" font-size="8.8" text-anchor="middle" fill="#222" dy="3">X2: Ultrasonic power</text>
<text transform="translate(298.6 209.0) rotate(-17.5)" font-size="8.8" text-anchor="middle" fill="#222" dy="3">X1: Pectinase dosage</text>
</g>
<path d="M156.0 197.2v1.6M237.6 197.2v1.6M117.7 185.6v1.6M276.0 185.5v1.6M81.8 174.6v1.6M312.0 174.6v1.6" stroke="#222" stroke-width="1"/>
<rect x="194.0" y="33.3" width="4.6" height="5.6" fill="#f01010" stroke="#c00" stroke-width="0.4"/>
<ellipse cx="42.0" cy="82.9" rx="2.8" ry="2.0" fill="#e00000" stroke="#a00" stroke-width="0.6"/>
<ellipse cx="350.3" cy="101.7" rx="2.8" ry="2.0" fill="#f4c0c0" stroke="#a04040" stroke-width="0.6"/>
<ellipse cx="196.8" cy="152.6" rx="2.8" ry="2.0" fill="#e00000" stroke="#a00" stroke-width="0.6"/>
<g font-family="Liberation Serif, serif" font-weight="bold" stroke="#000" stroke-width="0.15">
<text x="550.8" y="8.8" font-size="7.6" textLength="147.7" lengthAdjust="spacingAndGlyphs" fill="#111">Y: Extraction yield of hawthorn flavonoids</text>
<text x="548.3" y="208.5" font-family="Liberation Sans, sans-serif" font-size="6" text-anchor="middle" fill="#000" stroke="#000" stroke-width="0.3" transform="scale(0.87 1)">30.00</text>
<text x="626.9" y="208.5" font-family="Liberation Sans, sans-serif" font-size="6" text-anchor="middle" fill="#000" stroke="#000" stroke-width="0.3" transform="scale(0.87 1)">35.00</text>
<text x="705.5" y="208.5" font-family="Liberation Sans, sans-serif" font-size="6" text-anchor="middle" fill="#000" stroke="#000" stroke-width="0.3" transform="scale(0.87 1)">40.00</text>
<text x="784.1" y="208.5" font-family="Liberation Sans, sans-serif" font-size="6" text-anchor="middle" fill="#000" stroke="#000" stroke-width="0.3" transform="scale(0.87 1)">45.00</text>
<text x="862.6" y="208.5" font-family="Liberation Sans, sans-serif" font-size="6" text-anchor="middle" fill="#000" stroke="#000" stroke-width="0.3" transform="scale(0.87 1)">50.00</text>
<text x="537.0" y="198.1" font-family="Liberation Sans, sans-serif" font-size="6" text-anchor="end" fill="#000" stroke="#000" stroke-width="0.3" transform="scale(0.87 1)">160.00</text>
<text x="537.0" y="153.2" font-family="Liberation Sans, sans-serif" font-size="6" text-anchor="end" fill="#000" stroke="#000" stroke-width="0.3" transform="scale(0.87 1)">200.00</text>
<text x="537.0" y="108.2" font-family="Liberation Sans, sans-serif" font-size="6" text-anchor="end" fill="#000" stroke="#000" stroke-width="0.3" transform="scale(0.87 1)">240.00</text>
<text x="537.0" y="63.2" font-family="Liberation Sans, sans-serif" font-size="6" text-anchor="end" fill="#000" stroke="#000" stroke-width="0.3" transform="scale(0.87 1)">280.00</text>
<text x="537.0" y="18.3" font-family="Liberation Sans, sans-serif" font-size="6" text-anchor="end" fill="#000" stroke="#000" stroke-width="0.3" transform="scale(0.87 1)">320.00</text>
<text x="618.7" y="223.2" font-size="8" text-anchor="middle" fill="#222" >X1: Pectinase dosage</text>
<text transform="translate(437.0 103.8) rotate(-90)" font-size="8" text-anchor="middle" fill="#222" dy="2.8">X2: Ultrasonic power</text>
</g>
<path d="M477.0 196.2v4.5M477.0 196.2h-8M545.4 196.2v4.5M477.0 151.2h-8M613.8 196.2v4.5M477.0 106.3h-8M682.1 196.2v4.5M477.0 61.3h-8M750.5 196.2v4.5M477.0 16.4h-8" stroke="#666" stroke-width="0.8"/>
<rect x="486.2" y="27.3" width="9" height="6.4" fill="#fff" stroke="#555" stroke-width="0.5"/>
<text x="490.7" y="32.5" font-family="Liberation Sans, sans-serif" font-size="5.5" text-anchor="middle" fill="#444">18</text>
<rect x="507.1" y="175.9" width="9" height="6.4" fill="#fff" stroke="#555" stroke-width="0.5"/>
<text x="511.6" y="181.1" font-family="Liberation Sans, sans-serif" font-size="5.5" text-anchor="middle" fill="#444">16</text>
<rect x="583.2" y="169.4" width="9" height="6.4" fill="#fff" stroke="#555" stroke-width="0.5"/>
<text x="587.7" y="174.6" font-family="Liberation Sans, sans-serif" font-size="5.5" text-anchor="middle" fill="#444">18</text>
<rect x="616.3" y="137.1" width="9" height="6.4" fill="#fff" stroke="#555" stroke-width="0.5"/>
<text x="620.8" y="142.3" font-family="Liberation Sans, sans-serif" font-size="5.5" text-anchor="middle" fill="#444">20</text>
<rect x="729.3" y="183.8" width="9" height="6.4" fill="#fff" stroke="#555" stroke-width="0.5"/>
<text x="733.8" y="189.0" font-family="Liberation Sans, sans-serif" font-size="5.5" text-anchor="middle" fill="#444">16</text>
<text x="608.0" y="107.8" font-family="Liberation Sans, sans-serif" font-size="6.2" text-anchor="middle" fill="#700">5</text>
<ellipse cx="613.7" cy="105.9" rx="2.5" ry="1.7" fill="#c00" stroke="#700" stroke-width="0.4"/>
<ellipse cx="477.0" cy="16.4" rx="2.7" ry="1.8" fill="#ee0018" stroke="#a00" stroke-width="0.5"/>
<ellipse cx="750.5" cy="16.4" rx="2.7" ry="1.8" fill="#ee0018" stroke="#a00" stroke-width="0.5"/>
<ellipse cx="477.0" cy="196.2" rx="2.7" ry="1.8" fill="#ee0018" stroke="#a00" stroke-width="0.5"/>
<ellipse cx="750.5" cy="196.2" rx="2.7" ry="1.8" fill="#ee0018" stroke="#a00" stroke-width="0.5"/>
<g font-family="Liberation Serif, serif" font-weight="bold" stroke="#000" stroke-width="0.15">
<text x="44.0" y="378.7" font-size="7.4" text-anchor="end" fill="#111" font-family="Liberation Sans, sans-serif" stroke-width="0.1">12</text>
<text x="42.6" y="359.2" font-size="7.4" text-anchor="end" fill="#111" font-family="Liberation Sans, sans-serif" stroke-width="0.1">14</text>
<text x="41.1" y="339.3" font-size="7.4" text-anchor="end" fill="#111" font-family="Liberation Sans, sans-serif" stroke-width="0.1">16</text>
<text x="39.6" y="319.0" font-size="7.4" text-anchor="end" fill="#111" font-family="Liberation Sans, sans-serif" stroke-width="0.1">18</text>
<text x="38.1" y="298.3" font-size="7.4" text-anchor="end" fill="#111" font-family="Liberation Sans, sans-serif" stroke-width="0.1">20</text>
<text x="36.5" y="277.2" font-size="7.4" text-anchor="end" fill="#111" font-family="Liberation Sans, sans-serif" stroke-width="0.1">22</text>
</g><path d="M48.0 379.1h-2.5M46.6 359.6h-2.5M45.1 339.7h-2.5M43.6 319.4h-2.5M42.1 298.7h-2.5M40.5 277.6h-2.5" stroke="#333" stroke-width="0.8"/>
<g font-family="Liberation Serif, serif" font-weight="bold" stroke="#000" stroke-width="0.15">
<text transform="translate(18.6 342.7) rotate(-90)" font-size="8.3" text-anchor="middle" textLength="134.6" lengthAdjust="spacingAndGlyphs" fill="#222">Y: Extraction yield of hawthorn flavonoids</text>
<text x="39.7" y="417.7" font-size="6.9" text-anchor="middle" fill="#111" font-family="Liberation Sans, sans-serif" stroke-width="0.1">1.00</text>
<text x="76.4" y="430.4" font-size="6.9" text-anchor="middle" fill="#111" font-family="Liberation Sans, sans-serif" stroke-width="0.1">0.50</text>
<text x="113.1" y="442.0" font-size="6.9" text-anchor="middle" fill="#111" font-family="Liberation Sans, sans-serif" stroke-width="0.1">0.00</text>
<text x="148.6" y="453.6" font-size="6.9" text-anchor="middle" fill="#111" font-family="Liberation Sans, sans-serif" stroke-width="0.1">-0.50</text>
<text x="186.2" y="464.6" font-size="6.9" text-anchor="middle" fill="#111" font-family="Liberation Sans, sans-serif" stroke-width="0.1">-1.00</text>
<text x="210.2" y="464.4" font-size="6.9" text-anchor="middle" fill="#111" font-family="Liberation Sans, sans-serif" stroke-width="0.1">-1.00</text>
<text x="246.2" y="453.1" font-size="6.9" text-anchor="middle" fill="#111" font-family="Liberation Sans, sans-serif" stroke-width="0.1">-0.50</text>
<text x="282.4" y="441.9" font-size="6.9" text-anchor="middle" fill="#111" font-family="Liberation Sans, sans-serif" stroke-width="0.1">0.00</text>
<text x="319.3" y="430.0" font-size="6.9" text-anchor="middle" fill="#111" font-family="Liberation Sans, sans-serif" stroke-width="0.1">0.50</text>
<text x="356.1" y="417.9" font-size="6.9" text-anchor="middle" fill="#111" font-family="Liberation Sans, sans-serif" stroke-width="0.1">1.00</text>
<text transform="translate(92.3 454.2) rotate(17.6)" font-size="8.8" text-anchor="middle" fill="#222" dy="3">X3: Ultrasonic time</text>
<text transform="translate(301.0 454.3) rotate(-17.5)" font-size="8.8" text-anchor="middle" fill="#222" dy="3">X1: Pectinase dosage</text>
</g>
<path d="M157.1 445.0v1.6M238.5 444.9v1.6M119.2 433.2v1.6M276.6 433.0v1.6M83.8 422.1v1.6M312.2 421.9v1.6" stroke="#222" stroke-width="1"/>
<rect x="195.7" y="282.7" width="4.6" height="5.6" fill="#f01010" stroke="#c00" stroke-width="0.4"/>
<ellipse cx="42.3" cy="307.6" rx="2.8" ry="2.0" fill="#f4c0c0" stroke="#a04040" stroke-width="0.6"/>
<ellipse cx="352.9" cy="308.5" rx="2.8" ry="2.0" fill="#e00000" stroke="#a00" stroke-width="0.6"/>
<ellipse cx="197.7" cy="377.7" rx="2.8" ry="2.0" fill="#e00000" stroke="#a00" stroke-width="0.6"/>
<g font-family="Liberation Serif, serif" font-weight="bold" stroke="#000" stroke-width="0.15">
<text x="545.8" y="258.1" font-size="7.6" textLength="145.0" lengthAdjust="spacingAndGlyphs" fill="#111">Y: Extraction yield of hawthorn flavonoids</text>
<text x="549.7" y="455.1" font-family="Liberation Sans, sans-serif" font-size="6" text-anchor="middle" fill="#000" stroke="#000" stroke-width="0.3" transform="scale(0.87 1)">30.00</text>
<text x="627.2" y="455.1" font-family="Liberation Sans, sans-serif" font-size="6" text-anchor="middle" fill="#000" stroke="#000" stroke-width="0.3" transform="scale(0.87 1)">35.00</text>
<text x="704.7" y="455.1" font-family="Liberation Sans, sans-serif" font-size="6" text-anchor="middle" fill="#000" stroke="#000" stroke-width="0.3" transform="scale(0.87 1)">40.00</text>
<text x="782.2" y="455.1" font-family="Liberation Sans, sans-serif" font-size="6" text-anchor="middle" fill="#000" stroke="#000" stroke-width="0.3" transform="scale(0.87 1)">45.00</text>
<text x="859.8" y="455.1" font-family="Liberation Sans, sans-serif" font-size="6" text-anchor="middle" fill="#000" stroke="#000" stroke-width="0.3" transform="scale(0.87 1)">50.00</text>
<text x="539.2" y="445.6" font-family="Liberation Sans, sans-serif" font-size="6" text-anchor="end" fill="#000" stroke="#000" stroke-width="0.3" transform="scale(0.87 1)">10.00</text>
<text x="539.2" y="401.4" font-family="Liberation Sans, sans-serif" font-size="6" text-anchor="end" fill="#000" stroke="#000" stroke-width="0.3" transform="scale(0.87 1)">15.00</text>
<text x="539.2" y="357.1" font-family="Liberation Sans, sans-serif" font-size="6" text-anchor="end" fill="#000" stroke="#000" stroke-width="0.3" transform="scale(0.87 1)">20.00</text>
<text x="539.2" y="312.9" font-family="Liberation Sans, sans-serif" font-size="6" text-anchor="end" fill="#000" stroke="#000" stroke-width="0.3" transform="scale(0.87 1)">25.00</text>
<text x="539.2" y="268.7" font-family="Liberation Sans, sans-serif" font-size="6" text-anchor="end" fill="#000" stroke="#000" stroke-width="0.3" transform="scale(0.87 1)">30.00</text>
<text x="611.4" y="472.4" font-size="8" text-anchor="middle" fill="#222" >X1: Pectinase dosage</text>
<text transform="translate(438.0 369.6) rotate(-90)" font-size="8" text-anchor="middle" fill="#222" dy="2.8">X3: Ultrasonic time</text>
</g>
<path d="M478.2 443.7v4.5M478.2 443.7h-8M545.6 443.7v4.5M478.2 399.5h-8M613.1 443.7v4.5M478.2 355.2h-8M680.5 443.7v4.5M478.2 311.0h-8M748.0 443.7v4.5M478.2 266.8h-8" stroke="#666" stroke-width="0.8"/>
<rect x="614.8" y="360.2" width="9" height="6.4" fill="#fff" stroke="#555" stroke-width="0.5"/>
<text x="619.3" y="365.4" font-family="Liberation Sans, sans-serif" font-size="5.5" text-anchor="middle" fill="#444">21</text>
<rect x="622.5" y="428.0" width="9" height="6.4" fill="#fff" stroke="#555" stroke-width="0.5"/>
<text x="627.0" y="433.2" font-family="Liberation Sans, sans-serif" font-size="5.5" text-anchor="middle" fill="#444">20</text>
<rect x="511.0" y="370.4" width="9" height="6.4" fill="#fff" stroke="#555" stroke-width="0.5"/>
<text x="515.5" y="375.6" font-family="Liberation Sans, sans-serif" font-size="5.5" text-anchor="middle" fill="#444">19</text>
<rect x="497.1" y="396.8" width="9" height="6.4" fill="#fff" stroke="#555" stroke-width="0.5"/>
<text x="501.6" y="402.0" font-family="Liberation Sans, sans-serif" font-size="5.5" text-anchor="middle" fill="#444">18</text>
<rect x="484.0" y="417.8" width="9" height="6.4" fill="#fff" stroke="#555" stroke-width="0.5"/>
<text x="488.5" y="423.0" font-family="Liberation Sans, sans-serif" font-size="5.5" text-anchor="middle" fill="#444">17</text>
<text x="607.5" y="357.0" font-family="Liberation Sans, sans-serif" font-size="6.2" text-anchor="middle" fill="#700">5</text>
<ellipse cx="613.2" cy="355.1" rx="2.5" ry="1.7" fill="#c00" stroke="#700" stroke-width="0.4"/>
<ellipse cx="478.2" cy="266.8" rx="2.7" ry="1.8" fill="#ee0018" stroke="#a00" stroke-width="0.5"/>
<ellipse cx="748.0" cy="266.8" rx="2.7" ry="1.8" fill="#ee0018" stroke="#a00" stroke-width="0.5"/>
<ellipse cx="478.2" cy="443.7" rx="2.7" ry="1.8" fill="#ee0018" stroke="#a00" stroke-width="0.5"/>
<ellipse cx="748.0" cy="443.7" rx="2.7" ry="1.8" fill="#ee0018" stroke="#a00" stroke-width="0.5"/>
<g font-family="Liberation Serif, serif" font-weight="bold" stroke="#000" stroke-width="0.15">
<text x="54.0" y="626.6" font-size="7.4" text-anchor="end" fill="#111" font-family="Liberation Sans, sans-serif" stroke-width="0.1">12</text>
<text x="52.5" y="606.7" font-size="7.4" text-anchor="end" fill="#111" font-family="Liberation Sans, sans-serif" stroke-width="0.1">14</text>
<text x="51.1" y="586.5" font-size="7.4" text-anchor="end" fill="#111" font-family="Liberation Sans, sans-serif" stroke-width="0.1">16</text>
<text x="49.6" y="565.9" font-size="7.4" text-anchor="end" fill="#111" font-family="Liberation Sans, sans-serif" stroke-width="0.1">18</text>
<text x="48.1" y="544.9" font-size="7.4" text-anchor="end" fill="#111" font-family="Liberation Sans, sans-serif" stroke-width="0.1">20</text>
<text x="46.6" y="523.5" font-size="7.4" text-anchor="end" fill="#111" font-family="Liberation Sans, sans-serif" stroke-width="0.1">22</text>
</g><path d="M58.0 627.0h-2.5M56.5 607.1h-2.5M55.1 586.9h-2.5M53.6 566.3h-2.5M52.1 545.3h-2.5M50.6 523.9h-2.5" stroke="#333" stroke-width="0.8"/>
<g font-family="Liberation Serif, serif" font-weight="bold" stroke="#000" stroke-width="0.15">
<text transform="translate(29.8 593.8) rotate(-90)" font-size="8.3" text-anchor="middle" textLength="143.8" lengthAdjust="spacingAndGlyphs" fill="#222">Y: Extraction yield of hawthorn flavonoids</text>
<text x="50.0" y="666.0" font-size="6.9" text-anchor="middle" fill="#111" font-family="Liberation Sans, sans-serif" stroke-width="0.1">1.00</text>
<text x="87.0" y="678.5" font-size="6.9" text-anchor="middle" fill="#111" font-family="Liberation Sans, sans-serif" stroke-width="0.1">0.50</text>
<text x="124.0" y="690.0" font-size="6.9" text-anchor="middle" fill="#111" font-family="Liberation Sans, sans-serif" stroke-width="0.1">0.00</text>
<text x="163.0" y="702.0" font-size="6.9" text-anchor="middle" fill="#111" font-family="Liberation Sans, sans-serif" stroke-width="0.1">-0.50</text>
<text x="198.3" y="713.6" font-size="6.9" text-anchor="middle" fill="#111" font-family="Liberation Sans, sans-serif" stroke-width="0.1">-1.00</text>
<text x="222.8" y="713.6" font-size="6.9" text-anchor="middle" fill="#111" font-family="Liberation Sans, sans-serif" stroke-width="0.1">-1.00</text>
<text x="260.1" y="701.8" font-size="6.9" text-anchor="middle" fill="#111" font-family="Liberation Sans, sans-serif" stroke-width="0.1">-0.50</text>
<text x="296.1" y="689.8" font-size="6.9" text-anchor="middle" fill="#111" font-family="Liberation Sans, sans-serif" stroke-width="0.1">0.00</text>
<text x="333.3" y="678.6" font-size="6.9" text-anchor="middle" fill="#111" font-family="Liberation Sans, sans-serif" stroke-width="0.1">0.50</text>
<text x="371.1" y="666.2" font-size="6.9" text-anchor="middle" fill="#111" font-family="Liberation Sans, sans-serif" stroke-width="0.1">1.00</text>
<text transform="translate(109.5 704.2) rotate(17.5)" font-size="8.8" text-anchor="middle" fill="#222" dy="3">X3: Ultrasonic time</text>
<text transform="translate(307.4 706.4) rotate(-17.3)" font-size="8.8" text-anchor="middle" fill="#222" dy="3">X2:Ultrasonic power</text>
</g>
<path d="M169.0 694.3v1.6M251.8 694.3v1.6M130.4 682.1v1.6M290.4 682.0v1.6M94.2 670.6v1.6M326.4 670.4v1.6" stroke="#222" stroke-width="1"/>
<rect x="207.7" y="528.6" width="4.6" height="5.6" fill="#f01010" stroke="#c00" stroke-width="0.4"/>
<ellipse cx="52.9" cy="562.8" rx="2.8" ry="2.0" fill="#e00000" stroke="#a00" stroke-width="0.6"/>
<ellipse cx="367.9" cy="554.4" rx="2.8" ry="2.0" fill="#f4c0c0" stroke="#a04040" stroke-width="0.6"/>
<ellipse cx="209.9" cy="646.2" rx="2.8" ry="2.0" fill="#f4c0c0" stroke="#a04040" stroke-width="0.6"/>
<g font-family="Liberation Serif, serif" font-weight="bold" stroke="#000" stroke-width="0.15">
<text x="552.3" y="507.4" font-size="7.6" textLength="146.0" lengthAdjust="spacingAndGlyphs" fill="#111">Y: Extraction yield of hawthorn flavonoids</text>
<text x="551.1" y="704.5" font-family="Liberation Sans, sans-serif" font-size="6" text-anchor="middle" fill="#000" stroke="#000" stroke-width="0.3" transform="scale(0.87 1)">160.00</text>
<text x="628.4" y="704.5" font-family="Liberation Sans, sans-serif" font-size="6" text-anchor="middle" fill="#000" stroke="#000" stroke-width="0.3" transform="scale(0.87 1)">200.00</text>
<text x="705.7" y="704.5" font-family="Liberation Sans, sans-serif" font-size="6" text-anchor="middle" fill="#000" stroke="#000" stroke-width="0.3" transform="scale(0.87 1)">240.00</text>
<text x="783.0" y="704.5" font-family="Liberation Sans, sans-serif" font-size="6" text-anchor="middle" fill="#000" stroke="#000" stroke-width="0.3" transform="scale(0.87 1)">280.00</text>
<text x="860.2" y="704.5" font-family="Liberation Sans, sans-serif" font-size="6" text-anchor="middle" fill="#000" stroke="#000" stroke-width="0.3" transform="scale(0.87 1)">320.00</text>
<text x="540.8" y="694.7" font-family="Liberation Sans, sans-serif" font-size="6" text-anchor="end" fill="#000" stroke="#000" stroke-width="0.3" transform="scale(0.87 1)">10.00</text>
<text x="540.8" y="650.6" font-family="Liberation Sans, sans-serif" font-size="6" text-anchor="end" fill="#000" stroke="#000" stroke-width="0.3" transform="scale(0.87 1)">15.00</text>
<text x="540.8" y="606.5" font-family="Liberation Sans, sans-serif" font-size="6" text-anchor="end" fill="#000" stroke="#000" stroke-width="0.3" transform="scale(0.87 1)">20.00</text>
<text x="540.8" y="562.4" font-family="Liberation Sans, sans-serif" font-size="6" text-anchor="end" fill="#000" stroke="#000" stroke-width="0.3" transform="scale(0.87 1)">25.00</text>
<text x="540.8" y="518.3" font-family="Liberation Sans, sans-serif" font-size="6" text-anchor="end" fill="#000" stroke="#000" stroke-width="0.3" transform="scale(0.87 1)">30.00</text>
<text x="612.4" y="721.2" font-size="8" text-anchor="middle" fill="#222" >X2: Ultrasonic power</text>
<text transform="translate(437.3 616.7) rotate(-90)" font-size="8" text-anchor="middle" fill="#222" dy="2.8">X3: Ultrasonic time</text>
</g>
<path d="M479.5 692.8v4.5M479.5 692.8h-8M546.7 692.8v4.5M479.5 648.7h-8M614.0 692.8v4.5M479.5 604.6h-8M681.2 692.8v4.5M479.5 560.5h-8M748.4 692.8v4.5M479.5 516.4h-8" stroke="#666" stroke-width="0.8"/>
<rect x="505.1" y="608.0" width="9" height="6.4" fill="#fff" stroke="#555" stroke-width="0.5"/>
<text x="509.6" y="613.2" font-family="Liberation Sans, sans-serif" font-size="5.5" text-anchor="middle" fill="#444">18</text>
<rect x="559.3" y="606.6" width="9" height="6.4" fill="#fff" stroke="#555" stroke-width="0.5"/>
<text x="563.8" y="611.8" font-family="Liberation Sans, sans-serif" font-size="5.5" text-anchor="middle" fill="#444">20</text>
<rect x="488.6" y="658.0" width="9" height="6.4" fill="#fff" stroke="#555" stroke-width="0.5"/>
<text x="493.1" y="663.2" font-family="Liberation Sans, sans-serif" font-size="5.5" text-anchor="middle" fill="#444">16</text>
<rect x="738.5" y="604.2" width="9" height="6.4" fill="#fff" stroke="#555" stroke-width="0.5"/>
<text x="743.0" y="609.4" font-family="Liberation Sans, sans-serif" font-size="5.5" text-anchor="middle" fill="#444">20</text>
<text x="608.2" y="606.2" font-family="Liberation Sans, sans-serif" font-size="6.2" text-anchor="middle" fill="#700">5</text>
<ellipse cx="613.9" cy="604.3" rx="2.5" ry="1.7" fill="#c00" stroke="#700" stroke-width="0.4"/>
<ellipse cx="479.5" cy="516.4" rx="2.7" ry="1.8" fill="#ee0018" stroke="#a00" stroke-width="0.5"/>
<ellipse cx="748.4" cy="516.4" rx="2.7" ry="1.8" fill="#ee0018" stroke="#a00" stroke-width="0.5"/>
<ellipse cx="479.5" cy="692.8" rx="2.7" ry="1.8" fill="#ee0018" stroke="#a00" stroke-width="0.5"/>
<ellipse cx="748.4" cy="692.8" rx="2.7" ry="1.8" fill="#ee0018" stroke="#a00" stroke-width="0.5"/>
<path d="M369.8 250V477" stroke="#aaa" stroke-width="1.5"/>
</svg>
</body></html>
